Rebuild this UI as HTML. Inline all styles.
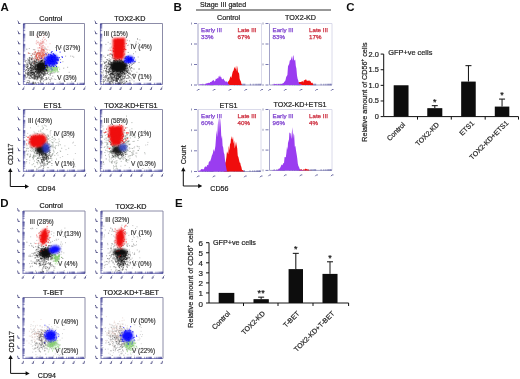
<!DOCTYPE html>
<html><head><meta charset="utf-8"><style>
html,body{margin:0;padding:0;background:#fff;}
body{width:520px;height:379px;overflow:hidden;}
svg{display:block;font-family:"Liberation Sans", sans-serif;}
</style></head><body>
<svg width="520" height="379" viewBox="0 0 520 379">
<rect width="520" height="379" fill="#fff"/>
<g filter="url(#gb)">
<defs>
<filter id="gb" x="0" y="0" width="100%" height="100%"><feGaussianBlur stdDeviation="0.32"/></filter>
<filter id="b3" x="-50%" y="-50%" width="200%" height="200%"><feGaussianBlur stdDeviation="0.3"/></filter>
<filter id="b4" x="-50%" y="-50%" width="200%" height="200%"><feGaussianBlur stdDeviation="0.4"/></filter>
<filter id="b5" x="-50%" y="-50%" width="200%" height="200%"><feGaussianBlur stdDeviation="0.5"/></filter>
<filter id="b8" x="-50%" y="-50%" width="200%" height="200%"><feGaussianBlur stdDeviation="0.8"/></filter>
<filter id="b10" x="-50%" y="-50%" width="200%" height="200%"><feGaussianBlur stdDeviation="1.0"/></filter>
<filter id="b15" x="-50%" y="-50%" width="200%" height="200%"><feGaussianBlur stdDeviation="1.5"/></filter>
<filter id="b20" x="-50%" y="-50%" width="200%" height="200%"><feGaussianBlur stdDeviation="2.0"/></filter>
<filter id="b30" x="-50%" y="-50%" width="200%" height="200%"><feGaussianBlur stdDeviation="3.0"/></filter>
</defs>
<text x="0.5" y="10.7" font-size="11.5" fill="#111" font-weight="bold">A</text>
<text x="173.6" y="10.7" font-size="11.5" fill="#111" font-weight="bold">B</text>
<text x="346.3" y="10.8" font-size="11.5" fill="#111" font-weight="bold">C</text>
<text x="0.3" y="207" font-size="11.5" fill="#111" font-weight="bold">D</text>
<text x="175.1" y="207" font-size="11.5" fill="#111" font-weight="bold">E</text>
<path d="M23.5 23.5H84.5V84.5" stroke="#80809e" stroke-width="0.9" fill="none"/>
<path d="M23.5 23.5V84.5H84.5" stroke="#8c8cc0" stroke-width="1.2" fill="none"/>
<path d="M23.2 81.4h2M26.6 84.8v-2M23.2 79.6h2M28.4 84.8v-2M23.2 78.4h2M29.6 84.8v-2M23.2 77.4h2M30.6 84.8v-2M23.2 76.6h2M31.4 84.8v-2M23.2 75.9h2M32.1 84.8v-2M23.2 75.3h2M32.7 84.8v-2M23.2 74.8h2M33.2 84.8v-2M23.2 71.3h2M36.7 84.8v-2M23.2 69.5h2M38.5 84.8v-2M23.2 68.2h2M39.8 84.8v-2M23.2 67.2h2M40.8 84.8v-2M23.2 66.4h2M41.6 84.8v-2M23.2 65.7h2M42.3 84.8v-2M23.2 65.2h2M42.8 84.8v-2M23.2 64.6h2M43.4 84.8v-2M23.2 61.1h2M46.9 84.8v-2M23.2 59.3h2M48.7 84.8v-2M23.2 58.0h2M50.0 84.8v-2M23.2 57.1h2M50.9 84.8v-2M23.2 56.3h2M51.7 84.8v-2M23.2 55.6h2M52.4 84.8v-2M23.2 55.0h2M53.0 84.8v-2M23.2 54.5h2M53.5 84.8v-2M23.2 50.9h2M57.1 84.8v-2M23.2 49.1h2M58.9 84.8v-2M23.2 47.9h2M60.1 84.8v-2M23.2 46.9h2M61.1 84.8v-2M23.2 46.1h2M61.9 84.8v-2M23.2 45.4h2M62.6 84.8v-2M23.2 44.8h2M63.2 84.8v-2M23.2 44.3h2M63.7 84.8v-2M23.2 40.8h2M67.2 84.8v-2M23.2 39.0h2M69.0 84.8v-2M23.2 37.7h2M70.3 84.8v-2M23.2 36.7h2M71.3 84.8v-2M23.2 35.9h2M72.1 84.8v-2M23.2 35.2h2M72.8 84.8v-2M23.2 34.7h2M73.3 84.8v-2M23.2 34.1h2M73.9 84.8v-2M23.2 30.6h2M77.4 84.8v-2M23.2 28.8h2M79.2 84.8v-2M23.2 27.5h2M80.5 84.8v-2M23.2 26.6h2M81.4 84.8v-2M23.2 25.8h2M82.2 84.8v-2M23.2 25.1h2M82.9 84.8v-2M23.2 24.5h2M83.5 84.8v-2M23.2 24.0h2M84.0 84.8v-2" stroke="#2a2a88" stroke-width="0.6" stroke-opacity="0.85" fill="none"/>
<path d="M17.5 81.9l1 0.8v1.8h1.8M22.1 89.3h1.6v-1.6l0.8 -0.8M17.5 71.7l1 0.8v1.8h1.8M32.3 89.3h1.6v-1.6l0.8 -0.8M17.5 61.6l1 0.8v1.8h1.8M42.4 89.3h1.6v-1.6l0.8 -0.8M17.5 51.4l1 0.8v1.8h1.8M52.6 89.3h1.6v-1.6l0.8 -0.8M17.5 41.2l1 0.8v1.8h1.8M62.8 89.3h1.6v-1.6l0.8 -0.8M17.5 31.1l1 0.8v1.8h1.8M72.9 89.3h1.6v-1.6l0.8 -0.8M17.5 20.9l1 0.8v1.8h1.8M83.1 89.3h1.6v-1.6l0.8 -0.8" stroke="#44447e" stroke-width="0.85" fill="none"/>
<text x="39.3" y="21.3" font-size="7.2" fill="#222" stroke="#222" stroke-width="0.22">Control</text>
<g filter="url(#b5)">
<path d="M42.8 50.9h1.0M60.8 47.8h1.0M54.5 59.3h1.0M28.2 64.8h1.0M27.1 61.9h1.0M28.8 48.5h1.0M48.3 77.2h1.0M31.8 53.7h1.0M59.5 82.0h1.0M56.7 60.5h1.0M78.7 46.8h1.0M72.2 56.3h1.0M32.9 49.6h1.0M42.0 76.8h1.0M34.9 67.7h1.0M60.1 59.5h1.0M55.1 47.4h1.0M28.3 53.0h1.0M62.4 61.7h1.0M42.3 67.8h1.0M49.9 56.7h1.0M68.7 72.3h1.0M38.4 67.4h1.0M53.9 79.1h1.0M65.1 56.2h1.0M78.9 49.6h1.0M48.0 74.5h1.0M33.4 64.1h1.0M27.2 71.1h1.0M67.1 67.3h1.0M73.2 57.2h1.0M63.2 68.2h1.0M56.9 62.8h1.0M71.2 81.8h1.0M51.1 70.9h1.0M28.3 72.4h1.0M60.6 83.7h1.0M70.2 56.1h1.0M46.2 71.1h1.0M26.2 63.0h1.0M34.2 49.6h1.0M28.2 75.0h1.0M32.1 54.7h1.0M46.5 79.0h1.0M29.4 62.5h1.0M55.2 79.5h1.0M70.1 78.7h1.0M40.3 61.2h1.0M44.7 79.5h1.0M77.7 50.9h1.0" stroke="#666" stroke-width="1.0" stroke-opacity="0.5" fill="none"/>
<path d="M40.7 74.5h1.0M40.5 78.2h1.0M31.7 69.9h1.0M43.9 68.7h1.0M33.5 79.3h1.0M45.6 64.6h1.0M27.6 73.4h1.0M35.3 69.4h1.0M43.8 60.9h1.0M42.3 59.6h1.0M33.3 77.0h1.0M46.5 73.9h1.0M39.6 71.1h1.0M39.4 74.4h1.0M36.5 73.2h1.0M40.8 69.6h1.0M43.4 72.9h1.0M51.0 68.3h1.0M33.3 69.6h1.0M39.1 77.1h1.0M35.7 74.3h1.0M42.9 49.7h1.0M30.2 75.3h1.0M40.2 71.6h1.0M35.7 76.3h1.0M37.6 66.9h1.0M53.8 67.5h1.0M33.1 71.7h1.0M35.4 71.1h1.0M40.8 60.9h1.0M38.8 77.4h1.0M46.2 78.8h1.0M25.0 72.7h1.0M36.2 75.9h1.0M37.8 50.7h1.0M40.7 58.9h1.0M37.9 59.5h1.0M41.0 78.4h1.0M36.5 72.6h1.0M42.6 70.0h1.0M40.1 81.3h1.0M43.2 66.6h1.0M52.3 56.9h1.0M42.4 67.1h1.0M39.6 75.3h1.0M40.0 74.7h1.0M38.7 63.2h1.0M26.7 63.8h1.0M47.1 72.9h1.0M44.4 61.3h1.0M34.3 63.5h1.0M45.8 79.6h1.0M34.9 83.4h1.0M43.1 67.5h1.0M34.9 67.3h1.0M40.6 72.7h1.0M44.4 60.7h1.0M48.0 78.1h1.0M46.1 66.3h1.0M34.5 79.5h1.0M38.1 71.5h1.0M45.7 65.9h1.0M26.8 80.8h1.0M37.6 66.2h1.0M38.9 76.5h1.0M40.7 79.5h1.0M39.1 78.0h1.0M50.7 78.0h1.0M34.7 78.4h1.0M26.6 82.7h1.0M28.9 73.9h1.0M35.7 71.3h1.0M33.7 74.0h1.0M48.9 67.0h1.0M42.9 76.3h1.0M32.7 63.2h1.0M35.9 79.4h1.0M24.7 71.0h1.0M45.5 73.8h1.0M39.0 76.3h1.0M35.3 62.8h1.0M25.2 70.5h1.0M41.7 65.1h1.0M29.2 68.1h1.0M26.6 73.9h1.0M30.1 76.2h1.0M28.1 59.8h1.0M41.1 67.5h1.0M37.8 67.3h1.0M43.9 74.0h1.0M42.2 71.6h1.0M47.4 72.1h1.0M35.0 56.2h1.0M46.0 77.5h1.0M33.9 68.6h1.0M45.6 54.8h1.0M32.5 77.8h1.0M49.1 65.7h1.0M42.9 75.6h1.0M30.8 72.6h1.0M40.9 75.7h1.0M36.3 69.8h1.0M29.5 71.1h1.0M43.1 69.5h1.0M29.4 67.5h1.0M57.3 72.1h1.0M35.0 52.4h1.0M42.2 72.7h1.0M49.1 69.8h1.0M37.8 74.6h1.0M26.7 82.5h1.0M37.5 65.6h1.0M50.1 79.7h1.0M26.2 70.0h1.0M39.4 71.5h1.0M32.0 65.5h1.0M53.4 72.7h1.0M25.9 65.0h1.0M50.6 73.4h1.0M50.9 72.0h1.0M31.9 74.8h1.0M37.9 74.6h1.0M31.9 71.9h1.0M40.9 72.4h1.0M41.7 70.8h1.0M36.8 77.0h1.0M35.3 65.4h1.0M32.9 72.5h1.0M36.7 72.3h1.0M37.4 72.2h1.0M33.1 63.0h1.0M42.3 76.9h1.0M39.4 68.7h1.0M37.6 63.6h1.0M24.7 75.9h1.0M32.7 78.1h1.0M33.9 83.9h1.0M31.2 62.9h1.0M33.2 76.3h1.0M40.7 71.0h1.0M48.5 72.1h1.0M38.3 75.0h1.0M50.2 73.4h1.0M41.1 61.4h1.0M37.8 76.2h1.0M37.6 78.7h1.0M43.1 75.5h1.0M44.6 66.6h1.0M36.8 77.6h1.0M43.5 68.7h1.0M29.8 75.0h1.0M42.1 77.6h1.0M42.2 69.3h1.0M43.9 72.5h1.0M38.5 70.9h1.0M37.0 76.1h1.0M28.6 69.4h1.0M33.5 61.4h1.0M29.3 58.8h1.0M33.9 76.4h1.0M40.6 69.3h1.0M32.1 62.2h1.0M50.3 70.0h1.0M42.1 62.6h1.0M31.4 59.5h1.0M44.4 75.3h1.0M24.4 75.2h1.0M36.9 57.9h1.0M29.5 63.3h1.0M37.8 72.6h1.0M42.9 74.1h1.0M49.7 75.1h1.0M27.2 70.8h1.0M27.4 66.5h1.0M36.5 71.2h1.0M36.4 59.4h1.0M28.8 73.8h1.0M34.9 69.4h1.0M34.8 66.2h1.0M42.5 71.7h1.0M34.8 66.8h1.0M29.3 53.5h1.0M30.6 73.6h1.0M27.6 75.9h1.0M34.7 61.6h1.0M34.6 69.5h1.0M41.5 73.9h1.0M34.7 65.5h1.0M35.9 70.9h1.0M42.5 71.2h1.0M29.0 63.8h1.0M32.8 67.0h1.0M29.4 72.9h1.0M34.0 72.9h1.0M39.5 67.0h1.0M51.5 63.3h1.0M44.5 69.2h1.0M38.7 52.7h1.0M32.6 74.4h1.0M42.2 78.6h1.0M44.3 75.4h1.0M40.0 68.8h1.0M37.8 62.7h1.0M42.3 61.5h1.0M35.6 71.7h1.0M44.7 68.4h1.0M32.3 74.6h1.0M42.5 74.3h1.0M48.0 67.1h1.0M37.7 67.5h1.0M44.6 63.0h1.0M40.3 66.2h1.0M34.2 77.4h1.0M45.7 67.7h1.0M34.5 78.0h1.0M37.4 73.2h1.0M49.7 74.8h1.0M38.9 76.2h1.0M32.6 72.3h1.0M43.1 59.7h1.0M43.6 65.2h1.0M35.9 69.1h1.0M33.6 64.1h1.0M33.7 61.5h1.0M37.3 73.2h1.0M39.5 68.4h1.0M31.4 74.2h1.0M37.6 82.5h1.0M41.8 68.4h1.0M32.2 67.5h1.0M30.0 70.9h1.0M40.2 73.7h1.0M45.8 83.4h1.0M32.4 72.8h1.0M50.9 52.0h1.0M34.0 73.4h1.0M39.0 73.3h1.0M36.3 74.0h1.0M39.2 75.9h1.0M34.5 64.2h1.0M31.6 77.6h1.0M34.2 76.7h1.0M42.6 71.2h1.0M40.1 69.1h1.0M27.7 74.2h1.0M38.7 66.4h1.0M38.1 76.2h1.0M32.8 77.3h1.0M47.9 62.9h1.0M37.6 69.7h1.0M47.9 69.4h1.0M41.3 64.3h1.0M36.9 71.0h1.0M38.7 57.3h1.0M41.6 68.4h1.0M40.8 72.3h1.0M26.6 73.2h1.0M45.4 63.6h1.0M27.0 64.5h1.0M29.8 76.1h1.0M49.2 69.8h1.0M32.0 67.8h1.0M41.8 73.3h1.0M27.5 65.7h1.0M39.5 71.9h1.0M27.9 72.8h1.0M34.5 75.3h1.0M36.0 70.7h1.0M37.2 78.8h1.0M45.3 65.3h1.0M40.8 64.0h1.0M39.3 75.8h1.0M46.0 64.9h1.0M37.0 72.5h1.0M27.2 74.7h1.0M33.4 75.1h1.0M24.8 60.7h1.0M37.9 72.6h1.0M35.5 78.2h1.0M33.8 67.7h1.0M36.4 59.5h1.0M32.5 72.5h1.0M42.2 67.9h1.0M37.5 65.9h1.0M43.0 81.2h1.0M32.8 72.7h1.0M40.6 77.3h1.0M42.9 74.8h1.0M39.0 72.2h1.0M44.0 71.2h1.0M45.0 58.9h1.0M26.3 49.2h1.0M41.5 66.6h1.0M48.2 83.0h1.0M36.4 69.3h1.0M31.7 66.7h1.0M34.4 76.7h1.0M37.4 71.3h1.0M38.0 77.4h1.0M39.9 68.9h1.0M41.0 68.4h1.0M32.9 83.3h1.0M37.8 63.6h1.0M44.9 70.7h1.0M41.3 76.1h1.0M37.9 69.5h1.0M29.1 81.1h1.0M36.5 69.0h1.0M39.5 70.7h1.0M40.6 66.9h1.0M31.6 57.0h1.0M35.8 76.5h1.0M44.9 65.4h1.0M40.0 81.7h1.0M36.6 76.6h1.0M48.1 67.2h1.0M43.4 63.4h1.0M38.2 70.0h1.0M40.5 78.2h1.0M51.1 60.9h1.0M34.4 75.6h1.0M31.2 76.8h1.0M40.1 67.8h1.0M36.8 59.5h1.0M38.3 59.0h1.0M31.1 69.0h1.0M36.4 77.6h1.0M36.6 68.2h1.0M44.4 80.1h1.0M37.9 73.4h1.0M45.8 69.8h1.0M46.8 52.7h1.0M37.7 73.8h1.0M45.0 73.1h1.0M32.7 64.7h1.0M40.2 77.6h1.0M27.4 66.9h1.0M32.2 58.3h1.0M34.2 68.8h1.0M38.3 65.3h1.0M30.3 70.5h1.0M35.1 66.7h1.0M38.9 75.9h1.0M48.9 79.4h1.0M30.8 70.1h1.0M32.2 72.5h1.0M37.2 60.8h1.0M40.0 69.7h1.0M25.7 77.3h1.0M40.4 55.9h1.0M42.8 70.4h1.0M41.2 72.8h1.0M45.0 66.4h1.0M41.8 66.2h1.0M39.8 63.9h1.0M40.4 82.6h1.0M39.6 68.9h1.0M27.6 68.5h1.0M40.5 76.7h1.0M41.1 73.4h1.0M40.0 80.0h1.0M33.1 68.3h1.0M43.0 69.3h1.0M33.8 67.9h1.0M36.8 75.7h1.0M36.4 62.2h1.0M40.2 71.2h1.0M32.3 78.5h1.0M34.4 69.5h1.0M45.4 77.8h1.0M33.5 75.5h1.0M36.6 80.0h1.0M34.7 77.9h1.0M45.5 49.0h1.0M35.3 75.3h1.0M34.8 66.8h1.0M51.3 66.4h1.0M28.2 80.6h1.0M28.4 82.7h1.0M33.5 73.3h1.0M45.6 68.8h1.0M46.6 73.0h1.0M33.7 78.6h1.0M41.8 74.1h1.0M44.7 73.7h1.0M36.9 52.7h1.0M39.3 73.8h1.0M51.5 58.6h1.0M34.9 72.0h1.0M41.8 66.0h1.0M42.7 63.1h1.0M37.5 66.9h1.0M36.4 66.1h1.0M29.1 82.0h1.0M37.7 66.6h1.0M40.7 77.0h1.0M30.3 72.6h1.0M41.8 73.2h1.0M29.8 57.9h1.0M46.0 70.2h1.0M36.4 69.1h1.0M37.7 67.6h1.0M28.5 68.6h1.0M31.6 68.4h1.0M30.9 78.0h1.0M30.0 78.5h1.0M31.2 75.7h1.0M46.5 69.0h1.0M32.3 73.1h1.0M33.8 59.2h1.0M33.4 73.5h1.0M34.1 72.6h1.0M43.7 74.3h1.0M44.4 72.7h1.0M35.1 71.6h1.0M34.5 69.6h1.0M31.7 60.1h1.0M34.8 71.6h1.0M30.5 73.2h1.0M40.0 68.7h1.0M44.4 48.9h1.0M31.3 59.5h1.0M39.7 67.8h1.0M35.3 54.9h1.0M43.5 71.4h1.0M35.7 67.1h1.0M40.0 66.3h1.0M37.2 67.1h1.0M40.1 75.5h1.0M31.2 72.9h1.0M41.4 70.5h1.0M49.9 81.1h1.0M26.4 60.5h1.0M46.3 79.0h1.0M45.0 74.1h1.0M31.2 67.8h1.0M40.7 62.9h1.0M58.0 77.7h1.0M30.7 67.8h1.0M36.7 65.5h1.0M45.4 67.3h1.0M33.0 82.2h1.0M33.7 73.9h1.0M36.2 69.0h1.0M37.5 65.7h1.0M26.9 69.0h1.0M37.0 71.4h1.0M40.9 70.5h1.0M30.1 68.2h1.0M41.5 73.3h1.0M35.8 70.1h1.0M43.2 68.9h1.0M43.2 73.1h1.0M41.5 79.1h1.0M32.4 70.0h1.0M29.8 67.7h1.0M51.4 78.8h1.0M38.5 74.7h1.0M46.7 73.5h1.0M41.9 59.8h1.0M33.9 75.5h1.0M46.7 68.2h1.0M30.5 70.7h1.0M30.6 66.9h1.0M45.4 63.3h1.0M45.6 70.4h1.0M34.0 75.2h1.0M49.2 71.2h1.0M45.5 68.6h1.0M39.9 68.4h1.0M42.9 78.5h1.0M27.4 74.0h1.0M37.2 66.7h1.0M36.9 76.9h1.0M51.7 70.3h1.0M35.4 60.0h1.0M49.9 66.9h1.0M34.1 63.7h1.0M34.0 63.9h1.0M38.6 73.9h1.0M37.9 72.8h1.0M34.8 82.4h1.0M28.3 60.6h1.0M33.9 66.4h1.0M29.5 71.1h1.0M36.1 62.5h1.0M39.5 80.7h1.0M41.1 68.4h1.0M37.6 69.9h1.0M38.4 75.9h1.0M30.6 55.4h1.0M34.7 65.2h1.0M39.8 65.4h1.0M27.4 66.1h1.0M25.5 77.9h1.0M28.3 60.2h1.0M28.7 78.6h1.0M31.0 70.4h1.0M42.4 79.1h1.0M52.2 73.1h1.0M38.4 71.9h1.0M52.3 76.1h1.0M36.1 74.8h1.0M39.0 70.7h1.0M30.5 63.5h1.0M29.8 62.1h1.0M46.3 71.6h1.0M32.4 83.1h1.0M38.3 56.3h1.0M51.1 71.9h1.0M47.6 58.0h1.0M41.5 72.5h1.0M38.7 71.6h1.0M40.4 58.6h1.0M25.5 64.8h1.0M31.9 68.4h1.0M40.1 71.9h1.0M35.6 66.5h1.0M36.4 78.3h1.0M42.3 69.8h1.0" stroke="#111" stroke-width="1.0" stroke-opacity="0.4" fill="none"/>
<path d="M31.7 77.5h1.0M30.6 72.6h1.0M37.6 67.5h1.0M36.3 62.9h1.0M37.1 70.1h1.0M26.7 72.7h1.0M29.4 76.1h1.0M30.3 68.1h1.0M34.1 67.2h1.0M34.0 66.0h1.0M35.7 69.0h1.0M33.8 53.9h1.0M37.6 69.2h1.0M25.9 69.5h1.0M34.9 74.9h1.0M28.7 77.5h1.0M32.4 82.2h1.0M32.4 72.7h1.0M31.5 62.9h1.0M37.4 74.0h1.0M39.2 73.7h1.0M30.7 59.9h1.0M30.4 65.3h1.0M29.7 72.2h1.0M34.3 67.5h1.0M33.7 68.2h1.0M33.9 73.1h1.0M36.8 65.2h1.0M27.0 76.9h1.0M33.5 75.1h1.0M26.4 67.2h1.0M33.1 61.1h1.0M30.9 73.0h1.0M37.3 77.8h1.0M29.5 61.3h1.0M35.1 74.2h1.0M33.8 61.8h1.0M36.1 73.4h1.0M35.2 66.3h1.0M34.2 73.3h1.0M30.8 58.9h1.0M34.3 71.6h1.0M33.1 73.9h1.0M30.7 68.5h1.0M31.8 72.1h1.0M39.4 67.6h1.0M41.2 77.4h1.0M36.2 72.2h1.0M40.1 68.0h1.0M32.6 63.2h1.0M34.9 76.4h1.0M35.1 71.3h1.0M32.2 69.9h1.0M27.3 74.8h1.0M31.4 62.9h1.0M30.0 64.5h1.0M36.4 74.8h1.0M27.6 74.1h1.0M36.6 65.8h1.0M27.1 64.9h1.0M30.5 70.9h1.0M31.6 57.8h1.0M33.9 60.6h1.0M36.6 62.4h1.0M30.2 64.3h1.0M30.8 76.1h1.0M36.4 72.3h1.0M34.3 60.5h1.0M30.9 66.0h1.0M29.1 71.8h1.0M30.0 65.1h1.0M28.8 57.7h1.0M35.4 76.3h1.0M33.7 63.6h1.0M37.9 70.6h1.0M36.7 77.1h1.0M37.5 66.6h1.0M37.2 73.3h1.0M26.9 66.8h1.0M27.3 68.4h1.0M35.3 63.1h1.0M24.8 76.1h1.0M34.5 77.1h1.0M27.7 74.8h1.0M41.3 80.0h1.0M32.2 70.5h1.0M32.4 74.5h1.0M37.2 69.5h1.0M27.6 73.1h1.0M31.1 72.5h1.0M34.1 77.9h1.0M37.6 66.5h1.0M34.4 78.7h1.0M30.9 71.4h1.0M37.8 75.9h1.0M35.1 61.7h1.0M28.0 70.4h1.0M34.5 83.0h1.0M29.6 75.3h1.0M36.1 59.8h1.0M29.7 69.9h1.0M31.0 68.2h1.0M34.9 64.5h1.0M34.9 65.5h1.0M30.8 72.0h1.0M30.7 70.6h1.0M39.4 69.1h1.0M32.4 73.0h1.0M31.5 75.0h1.0M27.9 72.4h1.0M31.0 64.6h1.0M40.1 64.3h1.0M40.0 72.6h1.0M38.8 63.6h1.0M37.8 77.0h1.0M32.5 68.3h1.0M42.8 70.0h1.0M31.3 65.5h1.0M34.8 70.8h1.0M33.7 78.5h1.0M31.7 71.6h1.0M38.8 63.5h1.0M37.2 79.1h1.0M27.6 63.0h1.0M28.8 58.8h1.0M34.8 58.8h1.0M35.0 77.0h1.0M26.5 67.3h1.0M25.3 73.3h1.0M30.1 67.5h1.0M33.2 72.0h1.0M31.6 69.1h1.0M30.8 69.6h1.0M28.3 69.3h1.0M25.3 66.3h1.0M40.7 69.4h1.0M28.0 70.4h1.0M29.1 59.9h1.0M30.1 73.1h1.0M34.5 68.5h1.0M29.3 63.1h1.0M38.4 70.3h1.0M29.2 57.4h1.0M27.5 82.6h1.0M28.4 68.6h1.0M33.8 68.1h1.0M31.9 61.4h1.0M28.8 78.3h1.0M30.0 73.7h1.0M26.2 67.5h1.0M34.0 74.7h1.0M28.5 72.3h1.0M34.5 64.9h1.0M34.9 64.1h1.0M29.8 68.9h1.0M29.0 61.0h1.0M31.3 73.2h1.0M31.4 76.0h1.0M28.4 61.8h1.0M39.2 71.2h1.0M36.8 64.5h1.0M36.2 70.4h1.0M35.6 69.1h1.0M37.8 65.4h1.0M29.1 60.9h1.0M37.6 64.9h1.0M28.8 63.8h1.0M31.2 62.0h1.0M31.8 65.6h1.0M30.8 63.7h1.0M33.1 66.5h1.0M33.5 70.4h1.0M34.4 57.0h1.0M30.9 64.6h1.0M36.1 60.3h1.0M30.1 67.4h1.0M31.7 74.5h1.0M31.2 74.3h1.0M27.1 59.0h1.0M37.9 71.4h1.0M35.0 69.7h1.0M34.9 62.3h1.0M36.8 66.1h1.0M36.9 69.5h1.0M25.1 61.9h1.0M37.5 68.2h1.0M31.4 70.3h1.0M31.3 66.0h1.0M33.4 69.8h1.0M39.1 69.3h1.0M40.5 78.9h1.0M39.9 74.8h1.0M33.5 69.8h1.0M32.4 65.0h1.0M32.7 65.5h1.0M39.6 71.9h1.0M31.2 58.5h1.0M32.8 66.7h1.0M28.7 62.7h1.0M32.7 83.2h1.0M32.9 68.2h1.0M38.8 69.7h1.0M33.7 67.0h1.0M30.6 77.2h1.0M37.0 78.4h1.0M31.6 69.2h1.0M29.5 74.3h1.0M27.4 72.1h1.0M37.4 76.8h1.0M29.2 75.0h1.0M30.1 64.8h1.0M27.7 75.4h1.0M39.6 65.7h1.0M30.0 67.1h1.0M43.0 74.5h1.0M30.8 59.1h1.0M30.3 75.5h1.0M40.5 67.5h1.0M30.2 66.2h1.0M25.5 74.0h1.0" stroke="#111" stroke-width="1.0" stroke-opacity="0.45" fill="none"/>
<path d="M38.0 52.3h1.0M36.2 40.6h1.0M41.8 43.2h1.0M43.2 47.0h1.0M37.7 50.1h1.0M43.4 37.4h1.0M46.1 49.5h1.0M43.1 37.7h1.0M39.0 45.3h1.0M44.0 39.7h1.0M38.5 36.9h1.0M40.3 48.7h1.0M36.3 44.0h1.0M42.4 54.9h1.0M42.9 45.5h1.0M37.7 42.3h1.0M39.1 47.7h1.0M40.9 55.3h1.0M41.8 41.6h1.0M45.3 51.7h1.0M41.3 43.4h1.0M35.8 41.9h1.0M43.6 43.0h1.0M37.3 48.0h1.0M41.7 50.0h1.0M42.8 54.0h1.0M38.6 51.9h1.0M38.2 50.5h1.0M41.5 48.2h1.0M43.7 46.9h1.0M44.1 51.4h1.0M41.4 44.2h1.0M38.9 44.4h1.0M40.4 46.9h1.0M49.3 50.2h1.0M43.2 42.7h1.0M39.0 45.4h1.0M41.5 41.8h1.0M45.5 44.2h1.0M44.0 35.3h1.0M41.0 48.4h1.0M41.5 50.0h1.0M41.8 47.8h1.0M35.7 43.4h1.0M34.4 50.1h1.0M41.9 46.0h1.0M38.7 44.1h1.0M46.2 55.7h1.0M40.8 53.4h1.0M36.6 37.3h1.0M39.6 42.6h1.0M39.4 47.9h1.0M49.5 43.7h1.0M41.1 48.4h1.0M40.9 51.7h1.0M46.0 40.8h1.0M41.5 45.7h1.0M42.0 39.3h1.0M36.1 35.4h1.0M42.5 48.0h1.0M41.2 35.2h1.0M40.0 43.2h1.0M37.0 42.4h1.0M43.0 49.7h1.0M40.9 49.6h1.0M39.3 47.4h1.0M41.1 49.8h1.0M40.8 46.3h1.0M40.6 43.8h1.0M47.3 49.6h1.0M42.2 58.5h1.0M44.9 39.2h1.0M42.9 51.2h1.0M46.3 53.6h1.0M43.2 41.1h1.0M38.6 48.3h1.0M42.4 41.9h1.0M39.9 45.0h1.0M41.2 48.7h1.0M40.2 40.8h1.0M44.5 55.0h1.0M40.7 52.1h1.0M42.2 50.3h1.0M42.3 43.2h1.0M42.6 52.1h1.0M38.5 56.8h1.0M46.9 56.1h1.0M46.6 50.7h1.0M40.1 44.0h1.0M38.7 47.6h1.0M40.9 50.4h1.0M35.3 58.6h1.0M47.4 46.9h1.0M42.9 49.4h1.0M41.8 46.0h1.0M40.7 42.9h1.0M41.5 46.9h1.0M41.9 42.7h1.0M41.1 47.2h1.0M42.7 41.7h1.0M42.2 51.9h1.0M42.7 45.2h1.0M39.6 45.8h1.0M43.0 54.8h1.0M40.6 43.8h1.0M42.1 48.0h1.0M38.5 43.3h1.0M40.7 50.4h1.0M37.7 41.9h1.0M42.4 40.9h1.0" stroke="#e88080" stroke-width="1.0" stroke-opacity="0.5" fill="none"/>
<path d="M40.4 56.6h1.0M39.6 52.4h1.0M39.8 54.5h1.0M41.2 53.0h1.0M43.8 50.5h1.0M39.4 55.5h1.0M43.4 53.7h1.0M41.9 53.8h1.0M42.6 60.7h1.0M38.6 56.8h1.0M36.8 58.4h1.0M44.2 55.6h1.0M36.0 56.7h1.0M44.0 58.8h1.0M42.8 50.0h1.0M37.6 59.8h1.0M35.7 58.9h1.0M46.6 57.8h1.0M43.9 54.5h1.0M35.7 55.2h1.0M39.3 55.4h1.0M42.4 55.1h1.0M40.7 56.8h1.0M40.0 61.0h1.0M41.5 55.8h1.0M39.3 53.6h1.0M44.7 56.0h1.0M36.2 53.8h1.0M39.5 54.2h1.0M43.8 52.0h1.0M41.7 55.9h1.0M35.9 55.6h1.0M39.7 57.0h1.0M38.4 56.4h1.0M34.2 52.2h1.0M42.7 58.6h1.0M40.0 53.7h1.0M43.8 49.2h1.0M37.2 57.5h1.0M42.3 52.4h1.0M33.4 59.9h1.0M40.5 52.8h1.0M40.2 58.2h1.0M30.9 58.8h1.0M42.6 49.3h1.0M42.7 50.2h1.0M44.0 56.7h1.0M47.9 53.7h1.0M40.0 58.6h1.0M37.8 53.4h1.0M38.7 55.3h1.0M36.2 57.0h1.0M41.9 55.7h1.0M46.0 54.5h1.0M44.6 53.9h1.0M42.6 49.7h1.0M40.7 55.0h1.0M38.3 53.7h1.0M38.8 53.3h1.0M32.3 53.7h1.0M38.1 53.9h1.0M36.3 55.1h1.0M42.7 54.7h1.0M38.3 59.6h1.0M43.4 58.3h1.0M44.0 54.5h1.0M39.5 58.8h1.0M38.1 55.1h1.0M41.3 56.6h1.0M39.0 58.5h1.0M39.4 57.7h1.0M43.7 57.5h1.0M42.6 52.0h1.0M35.4 53.6h1.0M41.7 60.0h1.0M35.7 56.4h1.0M37.0 53.3h1.0M39.0 57.6h1.0M40.7 59.0h1.0M36.6 58.2h1.0M43.3 55.7h1.0M41.7 53.8h1.0M36.2 54.3h1.0M37.8 64.2h1.0M38.3 60.5h1.0M40.7 56.4h1.0M42.6 53.2h1.0M43.2 56.6h1.0M34.7 57.3h1.0M41.9 56.9h1.0M45.5 54.3h1.0M41.8 57.7h1.0M36.8 59.1h1.0M34.9 51.6h1.0M41.8 52.2h1.0M39.6 50.6h1.0M40.2 52.1h1.0M41.2 50.9h1.0M41.6 54.7h1.0M40.2 55.3h1.0M40.5 51.5h1.0M31.0 55.6h1.0M36.7 54.1h1.0M41.5 49.5h1.0M37.3 53.7h1.0M36.3 56.5h1.0M39.5 53.0h1.0M36.6 57.9h1.0M37.7 57.3h1.0M41.6 49.8h1.0M36.2 55.5h1.0M41.2 57.8h1.0M42.8 58.6h1.0M38.7 54.9h1.0M42.7 54.2h1.0M43.7 50.7h1.0M42.3 55.0h1.0M33.1 58.4h1.0M41.1 55.6h1.0M36.2 54.1h1.0M45.3 53.0h1.0M27.8 52.9h1.0M35.8 55.1h1.0M38.6 52.8h1.0M37.1 58.6h1.0M35.0 61.4h1.0M38.1 52.2h1.0M42.8 57.2h1.0M36.4 57.7h1.0M33.6 52.7h1.0M43.9 54.7h1.0M35.4 57.0h1.0M43.2 55.4h1.0M33.7 54.5h1.0M41.5 57.8h1.0M46.5 54.7h1.0M38.3 55.4h1.0M44.2 52.7h1.0M44.6 47.3h1.0M42.8 53.5h1.0M41.6 57.6h1.0M35.9 55.2h1.0M40.8 57.3h1.0M36.7 52.5h1.0M33.3 63.1h1.0M39.3 54.8h1.0M34.8 58.3h1.0M38.1 59.8h1.0M43.0 55.6h1.0M42.5 52.2h1.0M38.9 53.8h1.0M35.6 55.6h1.0M39.5 59.8h1.0M28.3 53.5h1.0M36.8 54.1h1.0M41.5 56.7h1.0M40.1 54.1h1.0M41.7 56.6h1.0M33.6 54.7h1.0M35.2 52.0h1.0" stroke="#e05545" stroke-width="1.0" stroke-opacity="0.55" fill="none"/>
<ellipse cx="41.5" cy="66.5" rx="5.5" ry="5" fill="#111" fill-opacity="0.95" filter="url(#b10)" transform="rotate(0 41.5 66.5)"/>
<path d="M42.0 66.7h1.0M41.9 63.7h1.0M40.8 63.6h1.0M42.8 68.7h1.0M47.6 70.6h1.0M38.7 65.0h1.0M38.2 67.5h1.0M48.4 68.8h1.0M33.8 62.5h1.0M37.0 68.1h1.0M41.5 67.5h1.0M47.7 63.9h1.0M38.5 72.8h1.0M42.7 64.0h1.0M34.4 61.6h1.0M32.9 66.7h1.0M41.7 69.7h1.0M41.0 64.3h1.0M38.9 72.6h1.0M35.3 67.1h1.0M41.6 68.5h1.0M40.1 68.1h1.0M44.4 66.0h1.0M39.9 65.9h1.0M38.1 65.8h1.0M40.4 67.2h1.0M46.2 70.7h1.0M39.9 68.4h1.0M42.5 68.9h1.0M41.6 67.4h1.0M39.9 64.0h1.0M44.6 70.7h1.0M43.8 67.9h1.0M42.4 65.1h1.0M35.3 68.6h1.0M42.2 64.7h1.0M38.1 70.6h1.0M35.2 72.1h1.0M43.7 74.1h1.0M39.0 66.4h1.0M39.7 67.0h1.0M40.8 64.1h1.0M45.3 64.0h1.0M39.7 68.3h1.0M39.6 65.1h1.0M42.7 65.3h1.0M37.1 66.2h1.0M40.7 72.0h1.0M37.7 69.6h1.0M38.7 65.4h1.0M40.4 67.4h1.0M44.5 72.1h1.0M39.3 70.8h1.0M45.0 69.1h1.0M38.8 69.4h1.0M41.1 67.6h1.0M40.6 68.6h1.0M45.4 70.1h1.0M40.8 69.7h1.0M46.6 63.5h1.0M46.7 62.2h1.0M43.4 68.4h1.0M46.7 67.4h1.0M39.8 64.0h1.0M37.1 69.0h1.0M40.7 64.2h1.0M43.4 64.1h1.0M40.0 65.0h1.0M47.3 71.2h1.0M40.9 61.5h1.0M42.5 66.7h1.0M42.7 68.3h1.0M40.4 69.5h1.0M44.4 67.2h1.0M40.1 65.0h1.0M43.9 63.0h1.0M40.9 64.1h1.0M36.6 68.4h1.0M41.4 66.6h1.0M44.6 61.7h1.0M41.3 67.4h1.0M44.4 63.0h1.0M44.0 67.2h1.0M46.2 70.1h1.0M43.4 73.4h1.0M41.5 65.1h1.0M40.3 63.5h1.0M41.4 60.5h1.0M41.2 67.9h1.0M45.0 65.4h1.0M46.4 64.4h1.0M41.0 60.5h1.0M38.8 64.0h1.0M46.6 68.2h1.0M37.7 68.2h1.0M43.1 65.8h1.0M41.6 65.5h1.0M39.6 61.0h1.0M41.2 70.5h1.0M46.4 65.6h1.0M38.9 65.8h1.0M44.6 67.6h1.0M39.5 67.6h1.0M40.8 68.1h1.0M40.1 61.9h1.0M41.7 68.9h1.0M37.7 66.2h1.0M44.5 65.3h1.0M39.3 72.8h1.0M44.3 69.7h1.0M38.3 71.6h1.0M35.9 64.9h1.0M44.0 70.6h1.0M38.3 64.4h1.0M42.2 60.5h1.0M43.7 68.2h1.0M40.0 68.2h1.0M44.1 67.5h1.0M43.3 71.2h1.0M39.9 67.0h1.0M39.7 69.7h1.0M40.1 68.0h1.0M42.0 66.7h1.0M47.3 66.2h1.0M46.3 69.1h1.0M46.0 66.0h1.0M44.6 68.8h1.0M39.4 67.3h1.0M41.1 66.4h1.0M45.9 64.3h1.0M35.8 61.1h1.0M40.0 64.5h1.0M41.5 68.2h1.0M47.4 67.5h1.0M43.1 64.2h1.0M43.5 70.7h1.0M46.0 60.5h1.0M44.5 71.4h1.0M44.3 61.9h1.0M40.5 68.3h1.0M42.9 64.0h1.0M38.5 69.5h1.0M37.0 70.9h1.0M41.6 67.4h1.0M37.0 64.7h1.0M43.8 62.0h1.0M48.5 62.2h1.0M37.4 66.6h1.0M43.1 68.8h1.0M40.3 65.9h1.0M40.7 64.7h1.0M32.8 69.5h1.0M42.3 67.0h1.0M39.4 67.3h1.0M41.5 66.3h1.0M45.2 61.2h1.0M42.3 63.2h1.0M40.4 71.1h1.0M37.9 66.2h1.0M39.5 69.4h1.0M38.2 61.3h1.0M43.2 65.4h1.0M40.4 69.8h1.0M38.5 65.4h1.0M42.0 67.8h1.0M39.8 69.7h1.0M49.0 65.2h1.0M47.8 60.0h1.0M46.2 65.4h1.0M42.0 65.5h1.0M39.4 62.6h1.0M40.2 70.5h1.0M45.3 65.4h1.0M39.7 64.3h1.0M37.5 72.0h1.0M43.7 66.9h1.0M39.8 63.4h1.0M45.9 68.9h1.0M38.3 69.5h1.0M37.8 68.5h1.0M38.3 65.2h1.0M43.2 67.8h1.0M44.9 63.9h1.0M46.8 70.6h1.0M41.5 67.9h1.0M38.9 66.0h1.0M37.1 66.8h1.0M42.2 70.6h1.0M44.7 69.0h1.0M40.3 65.8h1.0M40.4 67.2h1.0M35.0 68.9h1.0M36.2 64.9h1.0M41.6 64.9h1.0M47.1 66.2h1.0M46.8 70.1h1.0M39.8 67.7h1.0M45.9 65.5h1.0M41.8 64.8h1.0M41.7 65.4h1.0" stroke="#111" stroke-width="1.0" stroke-opacity="0.7" fill="none"/>
<path d="M53.2 70.7h1.0M57.0 69.2h1.0M53.6 70.5h1.0M52.2 67.2h1.0M56.2 67.4h1.0M55.7 67.3h1.0M58.3 67.2h1.0M55.4 71.6h1.0M50.2 71.6h1.0M50.6 66.0h1.0M55.1 70.2h1.0M52.4 64.6h1.0M52.8 68.5h1.0M51.9 68.5h1.0M47.8 68.0h1.0M58.2 71.7h1.0M52.0 67.8h1.0M54.1 70.8h1.0M55.1 67.0h1.0M53.5 69.2h1.0M57.1 71.1h1.0M54.5 71.1h1.0M51.9 71.7h1.0M51.8 69.7h1.0M55.6 67.4h1.0M51.0 66.0h1.0M53.5 68.9h1.0M52.1 69.9h1.0M46.9 69.0h1.0M53.3 68.5h1.0M55.3 72.0h1.0M51.7 67.4h1.0M51.3 69.2h1.0M54.7 67.5h1.0M55.9 67.2h1.0M55.4 69.7h1.0M54.3 72.7h1.0M52.2 68.7h1.0M54.4 70.5h1.0M49.1 69.5h1.0M50.9 70.1h1.0M56.9 69.1h1.0M52.7 69.3h1.0M44.5 70.3h1.0M54.6 69.3h1.0M51.9 67.7h1.0M52.5 71.1h1.0M52.7 71.3h1.0M45.6 68.2h1.0M53.8 69.0h1.0M48.2 67.9h1.0M56.6 66.8h1.0M50.1 67.1h1.0M51.4 70.1h1.0M54.7 65.5h1.0M57.2 68.0h1.0M51.3 71.9h1.0M52.8 66.9h1.0M51.2 67.7h1.0M50.1 68.4h1.0M55.5 69.6h1.0M49.0 73.8h1.0M50.1 69.2h1.0M53.1 70.3h1.0M52.1 69.8h1.0M59.1 69.2h1.0M49.9 69.6h1.0M50.7 68.4h1.0M53.5 69.6h1.0M52.2 70.5h1.0M52.4 66.7h1.0M55.5 68.4h1.0M56.5 67.9h1.0M54.6 69.5h1.0M45.2 66.4h1.0M49.8 71.4h1.0M47.6 70.6h1.0M56.1 69.9h1.0M54.9 68.1h1.0M53.0 69.4h1.0M54.2 70.2h1.0M52.4 67.8h1.0M51.4 69.7h1.0M48.2 66.8h1.0M51.8 68.0h1.0M52.2 64.4h1.0M52.0 68.6h1.0M55.2 65.6h1.0M52.1 69.8h1.0M54.4 71.1h1.0M56.0 67.2h1.0M54.8 68.4h1.0M50.7 71.7h1.0M51.2 67.5h1.0M51.8 67.5h1.0M55.9 69.7h1.0M57.0 69.7h1.0M51.2 70.8h1.0M51.1 68.2h1.0M52.5 69.1h1.0M56.4 68.0h1.0M54.0 69.0h1.0M49.4 67.1h1.0M52.4 69.7h1.0M53.9 69.8h1.0M53.1 68.2h1.0M54.2 67.3h1.0M49.1 68.4h1.0M48.9 68.1h1.0M50.8 68.0h1.0M52.9 67.6h1.0M51.8 66.0h1.0M53.4 67.5h1.0M54.2 64.1h1.0M50.7 69.4h1.0M45.9 68.4h1.0M53.3 69.2h1.0M48.7 69.4h1.0M53.4 67.3h1.0M55.2 68.9h1.0M53.1 68.2h1.0M54.6 69.2h1.0M56.3 69.8h1.0M51.2 68.6h1.0M55.7 68.4h1.0M54.1 69.9h1.0M52.5 65.0h1.0M53.4 69.4h1.0M53.4 67.7h1.0M56.5 68.8h1.0M51.2 67.8h1.0M54.0 67.1h1.0M50.1 72.5h1.0M56.8 70.8h1.0M57.0 70.0h1.0M48.1 71.1h1.0M56.6 69.9h1.0M47.3 71.2h1.0M57.0 68.1h1.0M53.4 70.4h1.0" stroke="#98d488" stroke-width="1.0" stroke-opacity="0.8" fill="none"/>
<ellipse cx="51.5" cy="60" rx="6.8" ry="5.8" fill="#0a0aff" fill-opacity="1" filter="url(#b8)" transform="rotate(-20 51.5 60)"/>
<path d="M52.3 63.1h1.0M52.4 61.8h1.0M50.3 55.9h1.0M51.5 69.8h1.0M53.7 63.3h1.0M56.8 63.4h1.0M52.7 57.7h1.0M49.7 54.7h1.0M51.8 62.7h1.0M44.8 63.0h1.0M55.4 62.7h1.0M47.9 59.3h1.0M44.5 59.4h1.0M55.3 65.0h1.0M49.2 65.1h1.0M52.4 58.1h1.0M56.0 50.6h1.0M51.5 60.7h1.0M60.1 62.4h1.0M58.9 57.7h1.0M56.0 62.6h1.0M53.5 60.4h1.0M50.5 59.1h1.0M49.5 66.8h1.0M48.0 54.8h1.0M52.3 59.6h1.0M53.9 64.8h1.0M50.9 59.4h1.0M49.1 60.8h1.0M50.3 61.1h1.0M61.9 57.4h1.0M50.7 66.3h1.0M55.1 61.2h1.0M54.6 61.4h1.0M55.1 63.1h1.0M56.1 62.5h1.0M49.9 60.6h1.0M50.1 63.5h1.0M53.7 57.8h1.0M56.0 66.5h1.0M54.3 55.5h1.0M51.8 61.9h1.0M51.8 61.1h1.0M55.6 59.5h1.0M48.7 63.2h1.0M51.3 60.4h1.0M48.3 56.9h1.0M47.2 60.5h1.0M45.4 53.8h1.0M54.0 55.5h1.0M49.7 62.3h1.0M45.1 66.5h1.0M49.7 62.7h1.0M50.3 61.4h1.0M51.8 59.9h1.0M44.2 58.1h1.0M52.8 63.9h1.0M50.3 62.1h1.0M52.5 61.1h1.0M53.2 54.7h1.0M52.2 59.2h1.0M49.6 58.0h1.0M48.0 58.1h1.0M50.5 68.2h1.0M57.0 58.0h1.0M52.9 56.5h1.0M40.8 58.2h1.0M53.4 63.8h1.0M50.4 57.3h1.0M49.7 57.5h1.0M46.8 61.0h1.0M49.4 58.2h1.0M47.7 58.5h1.0M53.7 63.6h1.0M53.1 66.4h1.0M46.6 62.6h1.0M47.6 60.9h1.0M52.4 61.4h1.0M54.6 57.2h1.0M47.3 60.9h1.0M51.7 57.7h1.0M56.0 63.6h1.0M47.3 62.7h1.0M52.8 53.5h1.0M51.9 59.1h1.0M48.3 65.3h1.0M51.7 58.4h1.0M53.6 61.2h1.0M54.5 60.7h1.0M51.6 56.3h1.0M50.3 60.8h1.0M44.8 69.1h1.0M49.2 57.5h1.0M45.9 62.8h1.0M51.0 58.4h1.0M49.3 58.0h1.0M49.0 60.6h1.0M50.1 62.6h1.0M51.2 60.5h1.0M54.1 63.0h1.0M53.7 59.9h1.0M50.2 58.0h1.0M51.1 62.3h1.0M51.8 58.7h1.0M45.7 57.3h1.0M53.6 62.4h1.0M51.3 55.8h1.0M51.0 60.9h1.0M48.9 62.0h1.0M50.0 57.9h1.0M48.3 63.7h1.0M51.8 57.1h1.0M49.1 63.6h1.0M53.1 58.5h1.0M56.3 57.3h1.0M49.2 64.2h1.0M51.2 61.2h1.0M50.6 57.2h1.0M47.5 60.9h1.0M55.0 55.6h1.0M56.1 59.0h1.0M48.2 62.0h1.0M52.4 56.9h1.0M45.0 63.5h1.0M48.4 62.5h1.0M45.2 61.8h1.0M47.4 56.9h1.0M50.9 60.8h1.0M48.5 57.4h1.0M50.4 55.0h1.0M53.7 60.7h1.0M57.7 60.5h1.0M52.9 60.3h1.0M50.3 56.3h1.0M56.7 59.7h1.0M49.4 57.2h1.0M56.8 59.7h1.0M48.4 63.2h1.0M57.5 57.7h1.0M52.4 58.4h1.0M50.6 63.7h1.0M61.5 56.7h1.0M51.9 62.3h1.0M51.3 62.4h1.0M53.1 56.3h1.0M48.0 61.0h1.0M54.4 59.8h1.0M54.1 54.8h1.0M52.5 57.7h1.0M52.1 60.8h1.0M48.2 60.5h1.0M48.0 62.1h1.0M48.3 59.6h1.0M51.5 58.0h1.0M54.5 56.9h1.0M54.5 59.8h1.0M48.0 60.6h1.0M48.5 60.0h1.0M52.4 65.3h1.0M51.7 64.8h1.0M51.6 55.9h1.0M44.8 64.5h1.0M45.9 64.3h1.0M55.2 59.9h1.0M50.6 59.6h1.0M52.0 58.9h1.0M49.4 59.6h1.0M54.6 56.9h1.0M51.6 56.4h1.0M47.9 57.1h1.0M51.5 62.1h1.0M52.0 58.3h1.0M53.1 58.3h1.0M53.0 60.3h1.0M50.8 52.6h1.0M48.1 63.6h1.0M53.4 66.2h1.0M50.2 58.8h1.0M56.8 59.8h1.0M58.0 59.2h1.0M51.6 62.2h1.0M48.5 59.7h1.0M49.5 60.0h1.0M53.5 57.8h1.0M52.0 58.3h1.0M51.6 51.5h1.0M51.0 60.7h1.0M49.1 64.0h1.0M53.5 63.2h1.0M55.2 60.6h1.0M49.9 57.2h1.0M50.3 59.0h1.0M51.8 58.4h1.0M59.6 52.1h1.0M54.8 57.4h1.0M51.6 62.8h1.0M50.3 56.7h1.0M52.6 59.0h1.0M45.2 62.9h1.0M47.4 59.2h1.0" stroke="#0a0aff" stroke-width="1.0" stroke-opacity="0.9" fill="none"/>
</g>
<text x="29.3" y="36" font-size="6.4" fill="#333" stroke="#333" stroke-width="0.15">III (6%)</text>
<text x="55.5" y="49.8" font-size="6.4" fill="#333" stroke="#333" stroke-width="0.15">IV (37%)</text>
<text x="57.2" y="80" font-size="6.4" fill="#333" stroke="#333" stroke-width="0.15">V (3%)</text>
<path d="M100.5 23.5H162.5V84.5" stroke="#80809e" stroke-width="0.9" fill="none"/>
<path d="M100.5 23.5V84.5H162.5" stroke="#8c8cc0" stroke-width="1.2" fill="none"/>
<path d="M100.2 81.4h2M103.6 84.8v-2M100.2 79.6h2M105.4 84.8v-2M100.2 78.4h2M106.6 84.8v-2M100.2 77.4h2M107.6 84.8v-2M100.2 76.6h2M108.4 84.8v-2M100.2 75.9h2M109.1 84.8v-2M100.2 75.3h2M109.7 84.8v-2M100.2 74.8h2M110.2 84.8v-2M100.2 71.3h2M113.7 84.8v-2M100.2 69.5h2M115.5 84.8v-2M100.2 68.2h2M116.8 84.8v-2M100.2 67.2h2M117.8 84.8v-2M100.2 66.4h2M118.6 84.8v-2M100.2 65.7h2M119.3 84.8v-2M100.2 65.2h2M119.8 84.8v-2M100.2 64.6h2M120.4 84.8v-2M100.2 61.1h2M123.9 84.8v-2M100.2 59.3h2M125.7 84.8v-2M100.2 58.0h2M127.0 84.8v-2M100.2 57.1h2M127.9 84.8v-2M100.2 56.3h2M128.7 84.8v-2M100.2 55.6h2M129.4 84.8v-2M100.2 55.0h2M130.0 84.8v-2M100.2 54.5h2M130.5 84.8v-2M100.2 50.9h2M134.1 84.8v-2M100.2 49.1h2M135.9 84.8v-2M100.2 47.9h2M137.1 84.8v-2M100.2 46.9h2M138.1 84.8v-2M100.2 46.1h2M138.9 84.8v-2M100.2 45.4h2M139.6 84.8v-2M100.2 44.8h2M140.2 84.8v-2M100.2 44.3h2M140.7 84.8v-2M100.2 40.8h2M144.2 84.8v-2M100.2 39.0h2M146.0 84.8v-2M100.2 37.7h2M147.3 84.8v-2M100.2 36.7h2M148.3 84.8v-2M100.2 35.9h2M149.1 84.8v-2M100.2 35.2h2M149.8 84.8v-2M100.2 34.7h2M150.3 84.8v-2M100.2 34.1h2M150.9 84.8v-2M100.2 30.6h2M154.4 84.8v-2M100.2 28.8h2M156.2 84.8v-2M100.2 27.5h2M157.5 84.8v-2M100.2 26.6h2M158.4 84.8v-2M100.2 25.8h2M159.2 84.8v-2M100.2 25.1h2M159.9 84.8v-2M100.2 24.5h2M160.5 84.8v-2M100.2 24.0h2M161.0 84.8v-2" stroke="#2a2a88" stroke-width="0.6" stroke-opacity="0.85" fill="none"/>
<path d="M94.5 81.9l1 0.8v1.8h1.8M99.1 89.3h1.6v-1.6l0.8 -0.8M94.5 71.7l1 0.8v1.8h1.8M109.3 89.3h1.6v-1.6l0.8 -0.8M94.5 61.6l1 0.8v1.8h1.8M119.4 89.3h1.6v-1.6l0.8 -0.8M94.5 51.4l1 0.8v1.8h1.8M129.6 89.3h1.6v-1.6l0.8 -0.8M94.5 41.2l1 0.8v1.8h1.8M139.8 89.3h1.6v-1.6l0.8 -0.8M94.5 31.1l1 0.8v1.8h1.8M149.9 89.3h1.6v-1.6l0.8 -0.8M94.5 20.9l1 0.8v1.8h1.8M160.1 89.3h1.6v-1.6l0.8 -0.8" stroke="#44447e" stroke-width="0.85" fill="none"/>
<text x="114.3" y="21.3" font-size="7.2" fill="#222" stroke="#222" stroke-width="0.22">TOX2-KD</text>
<g filter="url(#b5)">
<path d="M105.4 44.4h1.0M112.3 79.1h1.0M134.1 48.5h1.0M137.1 39.5h1.0M124.8 82.5h1.0M115.1 81.4h1.0M126.9 40.3h1.0M114.7 58.7h1.0M111.4 72.1h1.0M108.8 74.2h1.0M113.3 41.2h1.0M123.2 42.4h1.0M123.0 74.2h1.0M124.6 59.2h1.0M103.3 61.6h1.0M105.7 67.8h1.0M107.0 64.6h1.0M115.4 55.2h1.0M127.2 45.5h1.0M108.4 81.3h1.0M114.6 76.7h1.0M135.2 60.1h1.0M107.7 42.3h1.0M135.4 43.4h1.0M120.9 62.7h1.0M106.5 59.5h1.0M108.2 62.6h1.0M121.3 54.9h1.0M109.5 56.6h1.0M109.7 43.8h1.0M111.1 78.1h1.0M121.1 79.0h1.0M102.6 81.4h1.0M120.6 74.4h1.0M123.7 69.7h1.0M110.7 72.5h1.0M107.8 50.2h1.0M103.2 56.1h1.0M121.7 51.4h1.0M135.8 41.9h1.0M124.0 48.8h1.0M124.6 74.1h1.0M129.0 40.9h1.0M111.3 65.6h1.0M139.4 39.9h1.0M125.5 69.8h1.0M133.0 53.7h1.0M132.8 59.2h1.0M137.0 38.5h1.0M137.7 57.0h1.0M117.5 42.1h1.0M111.3 71.8h1.0M127.8 45.0h1.0M115.1 44.5h1.0M109.5 48.1h1.0M114.6 82.9h1.0M139.9 74.4h1.0M120.2 60.9h1.0M131.6 79.8h1.0M130.6 67.3h1.0M109.6 66.8h1.0M134.1 74.2h1.0M105.5 71.0h1.0M115.3 45.5h1.0M138.7 68.9h1.0M130.3 44.2h1.0M133.5 81.1h1.0M136.4 72.3h1.0M133.6 74.9h1.0M124.4 58.0h1.0M133.4 74.1h1.0M135.1 51.8h1.0M138.5 62.5h1.0M137.9 43.3h1.0M138.8 74.2h1.0M111.6 76.6h1.0M110.8 47.1h1.0M119.4 48.9h1.0M120.7 79.8h1.0M128.0 70.7h1.0" stroke="#666" stroke-width="1.0" stroke-opacity="0.5" fill="none"/>
<path d="M106.5 81.2h1.0M118.9 62.1h1.0M128.2 68.0h1.0M113.5 74.8h1.0M108.3 61.3h1.0M111.0 81.5h1.0M122.4 61.6h1.0M124.1 73.2h1.0M119.4 73.4h1.0M118.8 65.8h1.0M109.9 67.9h1.0M113.5 77.5h1.0M111.7 68.8h1.0M120.7 76.1h1.0M113.7 65.3h1.0M109.3 61.5h1.0M123.7 80.8h1.0M128.6 76.6h1.0M118.2 78.5h1.0M122.4 71.1h1.0M104.6 62.9h1.0M109.5 78.4h1.0M124.0 70.6h1.0M120.5 72.7h1.0M118.0 69.1h1.0M115.8 73.0h1.0M103.8 76.8h1.0M116.0 80.0h1.0M123.2 78.6h1.0M121.5 66.1h1.0M124.1 66.1h1.0M124.7 77.8h1.0M109.3 81.4h1.0M111.4 67.6h1.0M105.6 71.4h1.0M122.9 68.2h1.0M128.4 78.0h1.0M112.4 64.2h1.0M105.0 77.0h1.0M124.8 65.3h1.0M116.0 71.0h1.0M114.3 76.6h1.0M130.1 68.4h1.0M121.7 80.9h1.0M114.1 71.9h1.0M107.0 80.8h1.0M112.4 68.3h1.0M116.5 66.8h1.0M109.0 70.8h1.0M126.0 71.5h1.0M119.6 62.4h1.0M113.3 61.9h1.0M115.3 77.4h1.0M104.3 66.6h1.0M117.8 66.3h1.0M121.4 80.0h1.0M119.0 69.9h1.0M115.7 68.4h1.0M115.1 75.3h1.0M114.0 80.0h1.0M133.5 69.0h1.0M118.3 79.0h1.0M120.4 71.3h1.0M112.8 80.3h1.0M120.2 76.7h1.0M110.6 77.6h1.0M121.4 71.7h1.0M103.3 77.4h1.0M108.1 63.1h1.0M114.4 77.0h1.0M116.4 64.6h1.0M106.3 69.0h1.0M116.1 67.0h1.0M110.3 71.9h1.0M112.3 68.8h1.0M116.3 70.8h1.0M120.2 64.4h1.0M115.5 78.6h1.0M124.0 77.0h1.0M116.2 61.7h1.0M105.2 80.1h1.0M120.6 77.1h1.0M104.8 57.5h1.0M108.8 64.4h1.0M117.1 65.6h1.0M126.7 68.5h1.0M112.2 79.3h1.0M118.2 66.5h1.0M107.7 71.2h1.0M108.7 58.9h1.0M120.3 78.1h1.0M122.6 76.1h1.0M102.3 72.8h1.0M111.5 64.4h1.0M108.5 78.6h1.0M119.2 59.1h1.0M122.1 82.1h1.0M116.2 64.2h1.0M128.0 63.4h1.0M115.4 59.1h1.0M107.5 60.6h1.0M123.4 81.6h1.0M113.2 63.1h1.0M115.6 75.8h1.0M105.6 64.5h1.0M115.3 78.1h1.0M116.5 76.3h1.0M107.5 54.8h1.0M118.1 66.3h1.0M115.2 70.2h1.0M119.3 67.4h1.0M125.9 73.2h1.0M119.6 77.6h1.0M123.1 76.0h1.0M104.0 68.4h1.0M128.7 76.5h1.0M119.8 76.4h1.0M111.6 68.0h1.0M111.6 81.5h1.0M119.1 64.3h1.0M127.9 75.5h1.0M124.2 74.6h1.0M113.8 74.2h1.0M108.3 64.2h1.0M109.9 69.1h1.0M106.7 72.2h1.0M128.6 72.6h1.0M122.1 71.4h1.0M118.7 72.8h1.0M112.3 73.6h1.0M105.8 76.2h1.0M114.0 65.0h1.0M113.5 77.1h1.0M111.3 76.5h1.0M108.5 72.2h1.0M117.8 78.6h1.0M105.9 68.7h1.0M127.4 70.9h1.0M130.9 67.6h1.0M114.1 61.2h1.0M120.4 75.0h1.0M129.9 74.2h1.0M114.3 62.6h1.0M115.4 80.0h1.0M121.1 82.1h1.0M122.0 72.7h1.0M120.2 74.3h1.0M118.6 65.2h1.0M118.7 75.1h1.0M122.9 83.7h1.0M126.6 66.0h1.0M103.1 75.1h1.0M118.3 75.6h1.0M108.3 69.5h1.0M117.3 78.5h1.0M131.2 75.2h1.0M111.8 55.5h1.0M123.4 72.0h1.0M115.2 65.7h1.0M121.1 59.7h1.0M116.8 73.9h1.0M118.1 82.7h1.0M115.3 73.7h1.0M121.9 61.5h1.0M114.0 73.5h1.0M122.6 67.0h1.0M121.6 75.9h1.0M105.7 62.0h1.0M106.0 74.0h1.0M117.4 78.4h1.0M121.7 68.9h1.0M123.4 79.1h1.0M119.3 76.6h1.0M107.1 75.7h1.0M108.8 64.1h1.0M113.6 74.0h1.0M115.6 70.5h1.0M109.0 74.4h1.0M110.8 62.5h1.0M116.6 83.8h1.0M113.2 65.1h1.0M114.0 71.4h1.0M116.9 80.4h1.0M119.1 59.4h1.0M108.3 63.8h1.0M119.0 73.8h1.0M128.5 71.0h1.0M118.1 73.6h1.0M118.0 84.0h1.0M125.0 68.5h1.0M120.8 70.2h1.0M116.8 74.2h1.0M116.1 69.5h1.0M126.9 71.0h1.0M120.4 80.7h1.0M125.7 81.1h1.0M128.0 62.3h1.0M129.7 73.2h1.0M103.8 68.2h1.0M106.3 72.8h1.0M105.6 65.5h1.0M118.1 74.2h1.0M110.4 71.2h1.0M115.3 73.6h1.0M116.0 71.3h1.0M122.1 61.0h1.0M112.6 74.0h1.0M113.2 68.9h1.0M112.9 74.6h1.0M124.7 71.6h1.0M114.1 75.7h1.0M114.3 58.5h1.0M117.9 70.2h1.0M112.0 77.7h1.0M116.3 68.8h1.0M116.1 72.1h1.0M119.1 74.7h1.0M112.7 63.5h1.0M108.3 72.0h1.0M108.0 78.7h1.0M106.7 59.6h1.0M114.6 59.7h1.0M127.4 65.6h1.0M115.6 71.2h1.0M110.3 59.7h1.0M103.0 79.5h1.0M105.8 77.2h1.0M115.9 79.3h1.0M112.4 78.4h1.0M122.3 77.5h1.0M126.1 71.7h1.0M126.8 67.7h1.0M127.7 52.4h1.0M116.1 67.0h1.0M116.0 80.7h1.0M121.0 73.7h1.0M127.9 61.9h1.0M118.3 57.4h1.0M118.4 64.1h1.0M126.3 81.6h1.0M112.2 82.7h1.0M110.2 79.9h1.0M120.1 72.0h1.0M106.0 70.9h1.0M103.0 82.1h1.0M109.2 54.8h1.0M120.1 75.8h1.0M121.4 73.5h1.0M111.5 50.8h1.0M119.4 80.2h1.0M111.9 62.4h1.0M115.7 60.5h1.0M116.1 78.8h1.0M126.6 75.0h1.0M117.4 78.6h1.0M125.8 70.6h1.0M107.4 67.1h1.0M107.2 66.3h1.0M115.2 75.6h1.0M117.1 73.5h1.0M113.5 76.2h1.0M122.2 78.7h1.0M126.5 70.8h1.0M117.4 76.1h1.0M113.6 80.3h1.0M113.2 65.4h1.0M115.6 69.7h1.0M121.8 70.2h1.0M116.9 71.4h1.0M118.4 68.3h1.0M123.7 62.3h1.0M113.3 67.7h1.0M120.5 73.3h1.0M119.4 70.5h1.0M111.0 64.6h1.0M113.7 69.0h1.0M118.0 75.7h1.0M122.8 72.2h1.0M110.8 65.0h1.0M116.4 75.7h1.0M129.6 74.4h1.0M108.7 82.1h1.0M124.0 83.1h1.0M115.9 80.2h1.0M112.6 72.5h1.0M114.5 80.2h1.0M116.5 67.7h1.0M117.7 77.9h1.0M111.0 77.8h1.0M111.0 66.4h1.0M117.5 71.2h1.0M109.1 60.8h1.0M116.2 74.8h1.0M112.8 74.4h1.0M105.3 75.9h1.0M118.9 75.1h1.0M111.7 73.6h1.0M116.9 81.0h1.0M117.9 74.9h1.0M110.9 79.5h1.0M124.2 69.3h1.0M120.5 75.3h1.0M115.7 63.4h1.0M128.3 59.0h1.0M118.1 70.2h1.0M124.0 69.8h1.0M116.3 77.6h1.0M119.2 69.1h1.0M120.8 75.9h1.0M122.9 69.2h1.0M115.7 70.1h1.0M110.1 74.9h1.0M118.9 83.6h1.0M113.7 75.9h1.0M124.0 72.1h1.0M116.4 74.0h1.0M111.2 65.6h1.0M123.8 74.3h1.0M115.5 63.7h1.0M116.8 81.8h1.0M108.0 66.3h1.0M123.7 83.7h1.0M126.8 68.9h1.0M120.2 67.4h1.0M119.6 70.3h1.0M117.4 83.0h1.0M118.4 71.2h1.0M116.4 75.0h1.0M112.4 74.5h1.0M101.6 64.1h1.0M107.4 79.5h1.0M133.0 74.4h1.0M116.8 81.5h1.0M112.5 69.4h1.0M118.4 68.6h1.0M123.7 73.0h1.0M112.9 79.9h1.0M110.3 82.3h1.0M122.7 74.0h1.0M125.6 73.0h1.0M115.6 81.2h1.0M105.8 68.5h1.0M119.4 77.2h1.0M118.3 76.3h1.0M106.9 71.6h1.0M117.8 71.3h1.0M116.4 77.5h1.0M109.4 68.8h1.0M103.7 81.5h1.0M108.7 60.4h1.0M121.3 71.4h1.0M122.7 70.3h1.0M130.7 78.3h1.0M117.0 73.9h1.0M114.6 79.0h1.0M129.8 69.9h1.0M108.5 77.4h1.0M123.4 61.9h1.0M111.2 65.6h1.0M119.9 76.7h1.0M110.9 64.7h1.0M120.7 57.8h1.0M120.5 71.9h1.0M129.3 80.4h1.0M112.0 71.0h1.0M114.1 67.6h1.0M116.6 80.1h1.0M105.6 71.3h1.0M126.3 78.5h1.0M110.4 67.0h1.0M110.1 61.1h1.0M123.9 73.5h1.0M111.2 62.4h1.0M113.4 69.2h1.0M127.9 69.6h1.0M116.8 80.9h1.0M120.6 71.7h1.0M120.1 69.8h1.0M115.4 65.9h1.0M109.8 62.1h1.0M119.5 76.8h1.0M117.2 78.8h1.0M119.7 73.9h1.0M109.9 77.4h1.0M124.2 77.7h1.0M124.6 69.5h1.0M109.3 82.2h1.0M112.0 74.8h1.0M114.7 73.2h1.0M114.1 69.0h1.0M117.4 58.8h1.0M109.8 64.7h1.0M110.9 54.2h1.0M114.3 78.5h1.0M120.1 63.8h1.0M124.4 60.6h1.0M112.1 70.4h1.0M124.6 73.9h1.0M115.1 67.1h1.0M116.6 73.3h1.0M121.0 83.3h1.0M121.1 73.1h1.0M117.4 72.9h1.0M119.9 72.2h1.0M111.7 80.8h1.0M112.9 80.1h1.0M110.6 73.8h1.0M118.8 74.1h1.0M117.6 75.8h1.0M108.3 64.9h1.0M115.1 66.2h1.0M111.5 73.2h1.0M124.1 68.8h1.0M119.8 74.4h1.0M113.6 66.1h1.0M115.0 67.7h1.0M119.7 60.1h1.0M123.7 78.6h1.0M120.0 84.0h1.0M120.1 60.5h1.0M116.4 76.3h1.0M111.3 64.7h1.0M119.0 76.7h1.0M113.1 71.2h1.0M112.5 68.8h1.0M115.6 80.9h1.0M105.0 70.5h1.0M127.0 75.3h1.0M117.1 79.1h1.0M109.1 64.2h1.0M104.7 62.3h1.0M117.7 79.2h1.0M113.2 68.0h1.0M118.8 77.5h1.0M117.8 59.1h1.0M112.3 54.5h1.0M117.7 66.8h1.0M111.5 84.0h1.0M125.0 76.5h1.0M117.9 74.3h1.0M112.0 72.6h1.0M129.0 66.6h1.0M111.5 74.2h1.0M122.1 79.1h1.0M109.4 72.1h1.0M114.2 64.0h1.0M116.5 69.5h1.0M122.3 76.2h1.0M110.7 73.6h1.0M113.6 68.4h1.0M112.7 80.8h1.0M113.2 60.5h1.0M110.7 78.9h1.0M130.7 65.3h1.0M113.6 70.6h1.0M106.4 75.9h1.0M115.7 75.0h1.0M131.2 71.1h1.0M121.4 79.1h1.0M111.7 68.7h1.0M126.6 78.2h1.0M117.0 65.0h1.0M122.0 76.8h1.0M131.0 83.8h1.0M121.5 75.0h1.0M116.4 69.0h1.0M118.1 74.8h1.0M120.4 80.9h1.0M118.1 69.0h1.0M110.3 76.1h1.0M119.7 76.9h1.0M119.4 72.3h1.0M127.8 62.8h1.0M111.4 69.2h1.0M105.2 75.6h1.0M115.6 69.1h1.0M126.0 81.6h1.0M113.2 77.8h1.0M115.7 81.4h1.0M120.0 72.7h1.0M119.8 67.8h1.0M121.4 84.0h1.0M113.5 77.1h1.0M104.7 79.8h1.0M122.0 65.6h1.0M127.9 73.8h1.0M104.2 63.0h1.0M121.9 71.0h1.0M123.5 61.7h1.0M115.3 80.1h1.0M111.4 78.0h1.0M113.6 75.5h1.0M107.6 78.7h1.0M124.9 64.8h1.0M123.1 51.4h1.0M114.4 60.5h1.0M118.1 67.7h1.0M112.2 66.9h1.0M118.0 69.6h1.0M109.9 71.3h1.0M118.8 66.8h1.0M123.6 60.9h1.0M118.8 70.2h1.0M126.7 68.3h1.0M111.5 63.2h1.0M129.5 77.5h1.0M108.6 70.6h1.0M118.8 58.2h1.0M117.4 79.7h1.0M116.0 76.5h1.0M115.3 74.5h1.0M117.4 67.8h1.0M118.4 74.2h1.0M115.7 68.0h1.0M109.1 74.8h1.0M121.6 55.4h1.0M112.4 82.9h1.0M122.2 67.8h1.0M125.2 65.8h1.0M113.0 71.4h1.0M104.8 65.6h1.0M108.0 72.0h1.0M103.5 80.8h1.0M113.6 68.6h1.0M111.7 78.4h1.0M126.4 70.0h1.0M125.1 75.2h1.0M105.9 77.9h1.0M113.2 74.4h1.0M103.2 70.9h1.0M117.6 66.2h1.0M117.6 68.0h1.0M132.2 57.3h1.0M109.7 76.0h1.0M112.0 56.3h1.0M117.8 79.1h1.0M110.6 83.7h1.0M119.4 81.7h1.0M105.6 73.0h1.0M125.0 73.0h1.0M117.2 68.4h1.0M123.5 67.9h1.0M116.8 57.9h1.0M116.4 74.6h1.0M101.0 72.8h1.0M130.1 62.1h1.0M112.4 71.5h1.0M107.4 63.1h1.0M107.6 77.7h1.0M115.7 79.0h1.0M108.6 77.3h1.0M113.0 73.7h1.0M122.4 73.2h1.0M113.6 60.8h1.0M116.4 78.7h1.0M111.7 72.5h1.0M103.9 63.2h1.0M118.8 82.5h1.0M113.9 60.7h1.0M113.4 61.5h1.0M118.1 71.9h1.0M123.1 70.2h1.0M118.3 74.5h1.0M119.1 62.2h1.0M120.9 79.5h1.0M109.9 84.0h1.0M116.1 78.0h1.0M119.8 79.5h1.0M111.6 68.7h1.0M118.6 77.5h1.0M119.9 75.5h1.0M112.7 81.1h1.0M119.2 80.8h1.0M111.4 73.9h1.0M112.7 70.7h1.0M117.3 75.6h1.0M110.5 54.3h1.0M110.6 77.0h1.0M110.2 76.2h1.0M113.5 66.0h1.0M115.3 72.6h1.0M122.6 63.2h1.0M110.0 81.4h1.0M122.2 69.3h1.0M110.6 75.6h1.0M106.3 69.3h1.0M114.4 54.8h1.0M120.1 78.7h1.0M123.4 62.3h1.0M107.1 67.0h1.0M109.2 70.7h1.0M117.4 76.4h1.0M126.1 64.9h1.0M122.1 74.1h1.0M107.9 74.1h1.0M110.9 80.5h1.0M125.0 68.4h1.0M109.8 74.0h1.0M108.7 79.7h1.0M117.2 67.3h1.0M111.2 78.4h1.0M110.5 71.5h1.0M121.7 82.7h1.0M120.5 73.7h1.0M127.8 78.0h1.0M119.0 77.3h1.0M121.1 75.1h1.0M114.8 61.1h1.0M130.3 63.3h1.0M129.5 82.1h1.0M111.8 75.0h1.0M115.8 58.2h1.0M113.7 75.2h1.0M124.2 64.0h1.0M118.3 73.6h1.0M117.0 74.1h1.0M113.4 62.8h1.0M119.2 75.9h1.0M120.0 82.3h1.0M107.3 55.5h1.0M109.6 76.0h1.0M115.9 78.5h1.0M138.5 69.1h1.0M114.8 68.5h1.0M117.7 76.9h1.0M109.2 82.9h1.0M124.0 76.3h1.0M115.2 71.2h1.0M104.5 77.9h1.0M109.2 69.2h1.0M123.0 66.1h1.0M112.3 79.4h1.0M129.0 67.8h1.0M123.7 68.1h1.0M118.7 76.6h1.0M108.0 80.7h1.0M128.6 73.4h1.0M117.9 64.2h1.0M128.5 73.5h1.0M107.1 78.7h1.0M105.8 67.9h1.0M101.1 83.3h1.0M131.5 68.2h1.0M111.4 68.7h1.0M112.0 77.2h1.0M126.2 65.4h1.0M119.1 59.5h1.0M126.7 72.3h1.0M115.3 83.3h1.0M110.4 73.4h1.0" stroke="#111" stroke-width="1.0" stroke-opacity="0.45" fill="none"/>
<ellipse cx="118.5" cy="66.5" rx="8.5" ry="6" fill="#111" fill-opacity="1" filter="url(#b10)" transform="rotate(0 118.5 66.5)"/>
<path d="M119.8 66.2h1.0M125.6 64.1h1.0M123.0 72.5h1.0M108.2 63.1h1.0M113.5 64.8h1.0M120.0 66.3h1.0M118.4 65.2h1.0M117.6 68.9h1.0M121.7 63.9h1.0M117.4 64.0h1.0M117.1 61.3h1.0M122.8 69.7h1.0M117.4 64.3h1.0M115.7 64.3h1.0M110.3 73.5h1.0M134.4 62.1h1.0M112.2 69.3h1.0M121.0 60.7h1.0M108.4 69.2h1.0M108.0 72.7h1.0M115.5 67.3h1.0M118.0 64.8h1.0M117.3 65.8h1.0M124.2 66.6h1.0M117.8 64.9h1.0M114.8 64.1h1.0M118.1 74.3h1.0M123.6 67.9h1.0M126.3 71.1h1.0M119.0 66.3h1.0M112.5 68.0h1.0M116.4 60.7h1.0M111.6 74.7h1.0M119.1 69.0h1.0M119.0 65.1h1.0M120.3 71.3h1.0M116.5 69.0h1.0M123.1 65.1h1.0M118.8 64.0h1.0M121.0 65.5h1.0M123.7 63.9h1.0M126.4 65.8h1.0M113.8 63.4h1.0M121.3 63.6h1.0M127.0 72.1h1.0M120.6 61.3h1.0M117.9 64.1h1.0M108.9 68.7h1.0M129.0 64.9h1.0M122.0 72.1h1.0M113.2 65.6h1.0M119.3 68.9h1.0M112.3 67.9h1.0M117.5 70.8h1.0M110.0 64.7h1.0M115.5 65.7h1.0M121.6 64.5h1.0M131.7 64.2h1.0M122.2 71.1h1.0M122.8 66.2h1.0M113.9 66.0h1.0M121.3 67.5h1.0M120.9 69.3h1.0M113.6 63.3h1.0M125.2 65.1h1.0M110.1 74.4h1.0M113.8 63.3h1.0M122.8 62.5h1.0M113.6 71.2h1.0M113.9 77.0h1.0M118.5 77.7h1.0M118.6 67.2h1.0M114.8 66.1h1.0M115.5 66.9h1.0M121.9 61.9h1.0M113.4 58.6h1.0M125.5 66.7h1.0M117.9 66.8h1.0M123.0 68.3h1.0M122.3 66.3h1.0M117.4 66.8h1.0M108.7 71.4h1.0M110.1 63.0h1.0M121.4 67.2h1.0M122.1 73.8h1.0M127.3 72.5h1.0M116.9 75.2h1.0M113.6 66.7h1.0M123.0 66.1h1.0M117.4 65.6h1.0M124.8 57.1h1.0M124.4 71.2h1.0M117.6 69.2h1.0M113.2 71.4h1.0M133.3 63.3h1.0M125.0 66.8h1.0M116.3 65.1h1.0M117.1 62.0h1.0M111.2 73.6h1.0M117.9 69.2h1.0M119.6 68.9h1.0M110.4 63.2h1.0M121.2 71.0h1.0M112.3 64.7h1.0M112.7 69.6h1.0M119.7 67.1h1.0M114.8 68.4h1.0M118.2 64.0h1.0M119.7 64.3h1.0M122.8 69.5h1.0M114.6 69.3h1.0M118.3 64.2h1.0M113.4 60.3h1.0M112.3 68.4h1.0M124.0 64.5h1.0M118.8 68.4h1.0M121.9 68.8h1.0M124.1 70.1h1.0M114.2 68.6h1.0M106.3 66.3h1.0M118.1 69.3h1.0M116.5 70.3h1.0M124.6 63.6h1.0M115.3 68.0h1.0M120.5 67.6h1.0M122.2 62.3h1.0M121.9 71.7h1.0M123.6 68.7h1.0M116.8 68.6h1.0M117.6 60.7h1.0M115.0 66.8h1.0M115.4 63.3h1.0M116.8 65.5h1.0M118.3 66.8h1.0M118.9 71.0h1.0M118.7 68.6h1.0M111.9 55.2h1.0M116.0 69.7h1.0M116.3 64.5h1.0M111.8 70.6h1.0M115.4 68.0h1.0M123.7 69.1h1.0M129.2 66.5h1.0M122.8 69.8h1.0M114.7 67.2h1.0M115.2 62.9h1.0M119.5 63.9h1.0M126.4 64.0h1.0M115.3 67.4h1.0M115.4 67.2h1.0M115.0 61.3h1.0M105.9 61.8h1.0M125.6 68.8h1.0M118.8 65.1h1.0M117.3 68.2h1.0M111.1 63.8h1.0M113.5 72.0h1.0M112.7 71.7h1.0M115.7 77.9h1.0M117.6 67.1h1.0M124.8 70.5h1.0M122.7 62.7h1.0M123.7 73.7h1.0M117.5 65.1h1.0M112.5 71.1h1.0M119.5 67.0h1.0M111.8 73.5h1.0M122.4 66.9h1.0M125.4 63.2h1.0M122.4 63.0h1.0M125.1 65.9h1.0M124.1 65.3h1.0M120.0 71.6h1.0M113.5 67.4h1.0M113.8 70.4h1.0M115.0 65.5h1.0M117.0 71.7h1.0M112.8 66.9h1.0M116.4 64.8h1.0M114.1 66.4h1.0M119.0 60.8h1.0M119.2 62.3h1.0M118.1 76.1h1.0M113.2 66.7h1.0M116.7 70.9h1.0M115.6 59.9h1.0M109.9 67.7h1.0M119.3 71.3h1.0M115.3 69.7h1.0M112.7 72.2h1.0M117.6 64.3h1.0M118.9 74.0h1.0M113.8 62.0h1.0M112.9 62.4h1.0M117.7 68.4h1.0M117.2 67.8h1.0M123.9 65.8h1.0M111.7 57.9h1.0M119.2 64.3h1.0M116.8 68.6h1.0" stroke="#111" stroke-width="1.0" stroke-opacity="0.7" fill="none"/>
<path d="M113.5 39L124.5 38.5L124 50L123 58.5L114 58.5L113.5 50Z" fill="#f01010" fill-opacity="1" stroke="#f01010" stroke-width="1.5" stroke-linejoin="round" filter="url(#b8)"/>
<path d="M119.9 41.4h1.0M115.6 48.8h1.0M118.1 53.7h1.0M117.0 39.2h1.0M122.0 41.1h1.0M115.6 50.3h1.0M115.3 59.7h1.0M119.2 50.9h1.0M117.2 58.5h1.0M120.1 45.3h1.0M122.3 40.9h1.0M116.7 49.8h1.0M118.9 44.2h1.0M123.2 55.1h1.0M115.7 50.2h1.0M116.6 46.6h1.0M121.5 49.1h1.0M118.2 49.0h1.0M115.0 54.0h1.0M116.2 54.4h1.0M117.1 46.4h1.0M123.0 49.4h1.0M116.6 46.1h1.0M120.3 56.9h1.0M120.3 46.7h1.0M115.1 45.5h1.0M118.1 49.6h1.0M116.5 54.3h1.0M115.6 45.3h1.0M120.0 50.7h1.0M117.3 52.8h1.0M114.3 55.9h1.0M125.1 57.3h1.0M118.9 57.4h1.0M118.7 54.5h1.0M117.9 49.4h1.0M120.1 40.6h1.0M117.9 56.2h1.0M109.7 50.2h1.0M121.3 50.0h1.0M119.1 54.7h1.0M119.5 40.0h1.0M115.7 47.2h1.0M118.9 46.5h1.0M118.2 56.0h1.0M109.7 53.7h1.0M121.3 51.2h1.0M118.5 48.8h1.0M119.6 49.6h1.0M116.3 52.0h1.0M116.0 48.3h1.0M117.4 43.3h1.0M120.3 48.2h1.0M115.0 48.2h1.0M114.4 54.9h1.0M120.0 57.4h1.0M116.8 51.7h1.0M115.6 44.7h1.0M118.2 50.3h1.0M121.3 47.3h1.0M121.8 52.8h1.0M115.9 47.7h1.0M115.8 56.2h1.0M116.9 52.5h1.0M121.2 47.4h1.0M117.0 50.0h1.0M116.2 42.8h1.0M115.6 50.0h1.0M119.1 56.4h1.0M113.0 50.8h1.0M115.1 53.7h1.0M120.6 49.1h1.0M122.9 46.8h1.0M116.9 43.8h1.0M116.5 49.0h1.0M120.5 54.2h1.0M117.7 45.2h1.0M117.5 46.6h1.0M117.1 46.7h1.0M115.9 48.3h1.0M117.0 47.7h1.0M114.4 49.1h1.0M120.2 51.4h1.0M116.9 43.4h1.0M114.6 43.3h1.0M116.6 47.1h1.0M113.2 51.5h1.0M113.9 45.4h1.0M116.4 52.2h1.0M124.0 46.9h1.0M117.7 46.8h1.0M117.9 47.7h1.0M125.8 43.6h1.0M118.2 45.0h1.0M119.6 46.2h1.0M120.2 43.7h1.0M124.8 49.4h1.0M113.2 51.6h1.0M117.1 43.4h1.0M119.8 46.2h1.0M120.7 46.1h1.0M121.2 49.2h1.0M119.6 49.2h1.0M117.4 46.9h1.0M119.8 51.7h1.0M117.3 58.5h1.0M123.5 43.4h1.0M121.7 48.2h1.0M119.2 45.0h1.0M123.4 44.8h1.0M118.3 45.3h1.0M124.2 54.1h1.0M114.6 46.5h1.0M119.6 46.6h1.0M117.5 43.7h1.0M119.2 43.7h1.0M121.0 59.1h1.0M117.5 55.8h1.0M119.6 45.5h1.0M117.5 44.2h1.0M118.8 51.6h1.0M121.3 47.3h1.0M115.0 48.2h1.0M123.5 49.8h1.0M118.3 39.3h1.0M117.2 50.9h1.0M115.7 54.5h1.0M116.8 44.7h1.0M116.8 48.1h1.0M121.5 46.0h1.0M113.2 48.2h1.0M120.0 55.3h1.0M115.2 55.1h1.0M120.5 50.5h1.0M116.2 44.6h1.0M115.7 52.6h1.0M119.1 53.2h1.0M123.9 48.6h1.0M118.4 57.0h1.0M114.6 46.5h1.0M117.4 46.8h1.0M118.9 44.8h1.0M121.9 42.5h1.0M116.1 41.1h1.0M114.4 51.1h1.0M120.4 47.6h1.0M121.0 51.2h1.0M116.8 48.3h1.0M119.6 57.4h1.0M117.2 50.2h1.0M120.1 53.9h1.0M119.8 53.2h1.0M115.4 47.4h1.0M112.8 48.3h1.0M125.4 49.6h1.0M118.8 49.7h1.0M118.9 42.7h1.0M116.5 47.8h1.0M119.0 44.7h1.0M118.2 45.3h1.0" stroke="#f01010" stroke-width="1.0" stroke-opacity="0.8" fill="none"/>
<ellipse cx="129" cy="59.5" rx="4.5" ry="3.5" fill="#0a0aff" fill-opacity="1" filter="url(#b8)" transform="rotate(-10 129 59.5)"/>
<path d="M125.8 58.2h1.0M127.0 61.2h1.0M132.3 60.6h1.0M128.5 58.4h1.0M125.1 58.5h1.0M132.8 61.8h1.0M129.6 59.0h1.0M129.0 60.3h1.0M129.0 60.3h1.0M127.1 59.6h1.0M128.1 61.6h1.0M126.0 62.0h1.0M128.8 58.5h1.0M129.1 59.8h1.0M128.4 60.3h1.0M127.6 56.2h1.0M130.7 59.5h1.0M133.1 60.3h1.0M124.1 61.9h1.0M127.3 60.6h1.0M134.5 61.6h1.0M126.3 59.3h1.0M125.1 60.8h1.0M130.4 57.5h1.0M130.1 61.3h1.0M131.0 58.2h1.0M127.3 57.3h1.0M125.8 60.1h1.0M129.1 62.1h1.0M129.7 58.9h1.0M125.5 62.5h1.0M129.4 59.5h1.0M126.5 57.5h1.0M130.6 57.6h1.0M130.4 60.7h1.0M128.1 56.4h1.0M130.0 62.3h1.0M127.0 57.1h1.0M131.7 59.8h1.0M127.5 61.9h1.0M128.3 60.4h1.0M128.0 58.1h1.0M129.5 57.8h1.0M124.6 58.5h1.0M132.0 61.7h1.0M134.3 61.4h1.0M133.0 60.0h1.0M127.9 60.4h1.0M126.7 60.9h1.0M127.9 60.0h1.0M126.9 59.3h1.0M131.4 59.1h1.0M127.3 60.1h1.0M131.2 59.2h1.0M126.1 56.5h1.0M125.7 61.6h1.0M128.8 60.4h1.0M131.6 60.1h1.0M130.2 58.5h1.0M125.1 60.7h1.0M128.8 60.6h1.0M126.4 59.2h1.0M133.9 57.9h1.0M129.2 62.1h1.0M128.4 59.8h1.0M123.8 61.0h1.0M127.9 62.0h1.0M128.8 58.8h1.0M130.1 59.1h1.0M127.7 62.5h1.0M131.4 59.7h1.0M131.0 61.1h1.0M130.4 59.6h1.0M129.2 60.3h1.0M130.4 60.2h1.0M127.7 59.4h1.0M130.1 57.6h1.0M129.0 61.0h1.0M129.4 59.0h1.0M128.9 58.6h1.0" stroke="#0a0aff" stroke-width="1.0" stroke-opacity="0.8" fill="none"/>
</g>
<text x="103.7" y="35.8" font-size="6.4" fill="#333" stroke="#333" stroke-width="0.15">III (15%)</text>
<text x="130.5" y="49.3" font-size="6.4" fill="#333" stroke="#333" stroke-width="0.15">IV (4%)</text>
<text x="132" y="79.3" font-size="6.4" fill="#333" stroke="#333" stroke-width="0.15">V (1%)</text>
<path d="M23.5 109.5H84.5V171.3" stroke="#80809e" stroke-width="0.9" fill="none"/>
<path d="M23.5 109.5V171.3H84.5" stroke="#8c8cc0" stroke-width="1.2" fill="none"/>
<path d="M23.2 168.2h2M26.6 171.6v-2M23.2 166.4h2M28.4 171.6v-2M23.2 165.1h2M29.7 171.6v-2M23.2 164.1h2M30.7 171.6v-2M23.2 163.3h2M31.5 171.6v-2M23.2 162.6h2M32.2 171.6v-2M23.2 162.0h2M32.8 171.6v-2M23.2 161.5h2M33.3 171.6v-2M23.2 157.9h2M36.9 171.6v-2M23.2 156.1h2M38.7 171.6v-2M23.2 154.8h2M40.0 171.6v-2M23.2 153.8h2M41.0 171.6v-2M23.2 153.0h2M41.8 171.6v-2M23.2 152.3h2M42.5 171.6v-2M23.2 151.7h2M43.1 171.6v-2M23.2 151.2h2M43.6 171.6v-2M23.2 147.6h2M47.2 171.6v-2M23.2 145.8h2M49.0 171.6v-2M23.2 144.5h2M50.3 171.6v-2M23.2 143.5h2M51.3 171.6v-2M23.2 142.7h2M52.1 171.6v-2M23.2 142.0h2M52.8 171.6v-2M23.2 141.4h2M53.4 171.6v-2M23.2 140.9h2M53.9 171.6v-2M23.2 137.3h2M57.5 171.6v-2M23.2 135.5h2M59.3 171.6v-2M23.2 134.2h2M60.6 171.6v-2M23.2 133.2h2M61.6 171.6v-2M23.2 132.4h2M62.4 171.6v-2M23.2 131.7h2M63.1 171.6v-2M23.2 131.1h2M63.7 171.6v-2M23.2 130.6h2M64.2 171.6v-2M23.2 127.0h2M67.8 171.6v-2M23.2 125.2h2M69.6 171.6v-2M23.2 123.9h2M70.9 171.6v-2M23.2 122.9h2M71.9 171.6v-2M23.2 122.1h2M72.7 171.6v-2M23.2 121.4h2M73.4 171.6v-2M23.2 120.8h2M74.0 171.6v-2M23.2 120.3h2M74.5 171.6v-2M23.2 116.7h2M78.1 171.6v-2M23.2 114.9h2M79.9 171.6v-2M23.2 113.6h2M81.2 171.6v-2M23.2 112.6h2M82.2 171.6v-2M23.2 111.8h2M83.0 171.6v-2M23.2 111.1h2M83.7 171.6v-2M23.2 110.5h2M84.3 171.6v-2M23.2 110.0h2M84.8 171.6v-2" stroke="#2a2a88" stroke-width="0.6" stroke-opacity="0.85" fill="none"/>
<path d="M17.5 168.7l1 0.8v1.8h1.8M22.1 176.1h1.6v-1.6l0.8 -0.8M17.5 158.4l1 0.8v1.8h1.8M32.4 176.1h1.6v-1.6l0.8 -0.8M17.5 148.1l1 0.8v1.8h1.8M42.7 176.1h1.6v-1.6l0.8 -0.8M17.5 137.8l1 0.8v1.8h1.8M53.0 176.1h1.6v-1.6l0.8 -0.8M17.5 127.5l1 0.8v1.8h1.8M63.3 176.1h1.6v-1.6l0.8 -0.8M17.5 117.2l1 0.8v1.8h1.8M73.6 176.1h1.6v-1.6l0.8 -0.8M17.5 106.9l1 0.8v1.8h1.8M83.9 176.1h1.6v-1.6l0.8 -0.8" stroke="#44447e" stroke-width="0.85" fill="none"/>
<text x="43.5" y="108.3" font-size="7.2" fill="#222" stroke="#222" stroke-width="0.22">ETS1</text>
<g filter="url(#b5)">
<path d="M72.2 143.0h1.0M54.9 163.0h1.0M30.0 127.8h1.0M59.7 150.9h1.0M61.1 137.2h1.0M49.8 133.2h1.0M46.9 137.4h1.0M54.3 138.2h1.0M38.7 153.3h1.0M29.3 160.3h1.0M49.8 135.1h1.0M30.7 147.4h1.0M50.2 156.7h1.0M43.7 143.1h1.0M69.6 137.0h1.0M74.1 164.3h1.0M74.5 166.5h1.0M37.9 160.8h1.0M55.6 134.0h1.0M74.9 153.5h1.0M65.5 149.6h1.0M29.0 163.0h1.0M33.8 136.4h1.0M55.8 133.5h1.0M48.1 156.4h1.0M29.8 154.1h1.0M30.2 145.9h1.0M57.5 155.2h1.0M27.2 133.4h1.0M73.0 142.2h1.0M46.2 141.5h1.0M59.8 157.6h1.0M57.5 142.7h1.0M53.5 147.7h1.0M34.4 166.8h1.0M73.2 159.2h1.0M74.6 145.5h1.0M67.0 135.6h1.0M62.1 156.5h1.0M71.9 161.7h1.0M69.0 136.8h1.0M64.4 145.9h1.0M40.6 141.2h1.0M64.9 162.1h1.0M67.2 154.5h1.0M33.5 131.8h1.0M53.4 134.3h1.0M41.8 129.5h1.0M32.7 156.5h1.0M36.2 162.3h1.0M41.5 162.3h1.0M40.1 136.8h1.0M44.7 125.5h1.0M46.8 141.7h1.0M25.6 162.9h1.0M43.8 125.0h1.0M73.0 135.1h1.0M37.6 126.1h1.0M30.0 156.2h1.0M54.1 147.2h1.0" stroke="#777" stroke-width="1.0" stroke-opacity="0.4" fill="none"/>
<path d="M38.8 154.6h1.0M48.7 149.2h1.0M57.1 152.6h1.0M47.4 162.7h1.0M52.1 153.9h1.0M49.4 138.1h1.0M29.5 138.7h1.0M43.3 158.1h1.0M37.3 155.7h1.0M41.0 161.2h1.0M31.5 137.6h1.0M36.8 137.6h1.0M55.6 145.5h1.0M36.0 142.9h1.0M48.7 147.0h1.0M44.9 154.3h1.0M42.8 128.5h1.0M37.6 136.2h1.0M55.0 147.1h1.0M32.0 148.1h1.0M43.9 141.2h1.0M46.5 158.0h1.0M45.1 143.1h1.0M40.2 130.2h1.0M42.7 152.1h1.0M34.1 145.9h1.0M68.2 148.3h1.0M26.7 148.2h1.0M39.2 143.2h1.0M45.9 148.8h1.0M46.9 154.7h1.0M49.2 152.1h1.0M25.5 151.5h1.0M46.7 138.2h1.0M39.0 155.0h1.0M33.3 145.7h1.0M38.3 138.5h1.0M32.9 156.1h1.0M46.1 149.7h1.0M40.0 148.8h1.0M42.6 150.3h1.0M25.8 150.5h1.0M41.8 126.0h1.0M49.5 140.8h1.0M40.2 147.0h1.0M35.1 150.6h1.0M39.7 145.2h1.0M34.7 143.4h1.0M33.2 145.6h1.0M47.9 159.3h1.0M47.9 138.9h1.0M46.0 157.9h1.0M62.4 136.5h1.0M42.0 145.6h1.0M52.0 142.8h1.0M31.7 164.7h1.0M53.8 135.6h1.0M37.3 158.5h1.0M34.8 151.0h1.0M45.7 137.2h1.0M33.2 155.0h1.0M51.4 146.7h1.0M51.3 145.7h1.0M42.9 148.6h1.0M30.9 147.2h1.0M45.7 126.2h1.0M37.2 139.4h1.0M37.5 138.4h1.0M42.7 127.6h1.0M47.4 151.0h1.0M43.6 146.7h1.0M42.2 146.2h1.0M37.1 133.6h1.0M38.7 156.0h1.0M38.2 161.0h1.0M31.6 142.4h1.0M33.0 155.8h1.0M55.0 148.6h1.0M47.1 148.2h1.0M33.9 144.5h1.0M29.0 157.1h1.0M42.1 158.7h1.0M50.4 130.5h1.0M46.7 150.9h1.0M43.7 163.8h1.0M31.2 151.3h1.0M43.9 147.6h1.0M37.4 151.3h1.0M43.4 154.6h1.0M41.6 136.9h1.0M47.1 161.5h1.0M36.9 146.3h1.0M51.8 136.8h1.0M38.0 167.9h1.0M45.0 143.4h1.0M56.1 153.6h1.0M43.7 145.4h1.0M47.3 134.8h1.0M35.6 133.3h1.0M47.9 149.7h1.0M55.2 135.6h1.0M32.5 157.5h1.0M40.3 131.6h1.0M36.4 143.4h1.0M37.3 158.0h1.0M46.5 163.5h1.0M46.7 145.7h1.0M41.5 135.4h1.0M46.9 161.0h1.0M44.1 141.4h1.0M44.6 153.6h1.0M45.4 139.5h1.0M44.3 144.3h1.0M44.8 154.6h1.0M45.4 145.9h1.0M50.1 158.0h1.0M48.0 157.8h1.0M44.8 152.8h1.0M38.2 131.2h1.0M32.4 150.2h1.0M47.2 151.9h1.0M36.5 162.3h1.0M43.0 133.3h1.0M30.5 141.4h1.0M44.1 155.5h1.0M37.1 153.7h1.0M42.7 142.3h1.0M36.1 152.8h1.0M51.2 142.0h1.0M33.4 146.3h1.0M59.9 144.8h1.0M30.6 147.9h1.0M46.5 144.7h1.0M39.5 151.7h1.0M28.2 143.1h1.0M42.9 156.7h1.0M49.8 150.6h1.0M26.6 154.4h1.0M48.5 145.2h1.0M45.7 158.7h1.0M46.5 129.6h1.0M39.7 141.0h1.0M35.1 145.1h1.0M31.9 148.1h1.0M58.2 144.0h1.0M50.2 146.7h1.0M45.4 148.5h1.0M52.4 146.0h1.0M48.6 144.0h1.0M42.7 148.5h1.0M53.4 138.8h1.0M27.2 155.0h1.0M39.1 162.0h1.0M32.8 146.9h1.0M40.5 163.1h1.0M41.9 144.4h1.0M46.5 149.1h1.0M33.4 151.8h1.0M29.8 135.1h1.0M52.4 147.8h1.0M37.6 150.0h1.0M47.8 155.1h1.0M35.5 141.1h1.0M49.1 149.9h1.0M33.9 153.0h1.0M43.3 167.7h1.0M35.1 139.7h1.0M34.9 148.9h1.0M34.4 155.3h1.0M37.0 144.2h1.0M44.6 151.1h1.0M29.4 156.8h1.0M46.6 145.8h1.0M45.6 140.1h1.0M32.8 142.4h1.0M43.4 149.8h1.0M39.2 135.3h1.0M24.2 155.7h1.0M45.9 142.9h1.0M48.2 155.3h1.0M39.7 142.2h1.0M48.4 153.6h1.0M52.0 155.1h1.0M38.4 141.9h1.0M35.1 148.1h1.0M41.2 153.3h1.0M47.2 141.2h1.0M42.1 140.2h1.0M48.2 139.2h1.0M39.1 139.9h1.0M37.2 144.4h1.0M52.8 150.1h1.0M31.3 141.9h1.0M44.9 154.2h1.0M37.2 163.9h1.0M48.9 151.7h1.0M53.6 141.0h1.0M42.2 140.9h1.0M37.8 160.9h1.0M32.9 158.9h1.0M29.6 156.2h1.0M31.0 137.0h1.0M48.6 150.0h1.0M42.1 148.3h1.0M42.8 147.1h1.0M34.7 143.2h1.0M44.3 141.4h1.0M39.5 162.7h1.0M30.5 139.5h1.0M38.9 147.4h1.0M43.7 142.7h1.0M40.7 148.0h1.0M36.1 159.6h1.0M46.1 137.0h1.0M27.9 148.4h1.0M40.2 142.4h1.0M32.0 142.0h1.0M42.2 142.5h1.0M36.0 153.9h1.0M45.2 154.3h1.0M43.5 137.1h1.0M42.5 161.5h1.0M47.1 160.3h1.0M42.0 151.6h1.0M37.4 157.6h1.0M33.1 163.7h1.0M47.6 147.6h1.0M45.5 135.7h1.0M36.5 143.8h1.0M61.2 148.3h1.0M47.5 151.0h1.0M37.1 152.0h1.0M54.3 155.4h1.0M40.1 149.1h1.0M47.2 146.0h1.0M40.5 152.2h1.0M37.4 150.1h1.0M41.4 154.4h1.0M35.3 141.3h1.0M34.5 156.0h1.0M47.4 136.0h1.0M26.3 159.5h1.0M47.1 139.0h1.0M34.0 146.7h1.0M46.9 164.2h1.0M39.2 144.7h1.0M57.8 145.6h1.0M51.5 154.8h1.0M38.1 158.1h1.0M46.9 142.9h1.0M29.8 144.1h1.0M40.9 159.8h1.0M41.3 161.3h1.0M46.2 151.8h1.0M43.0 152.2h1.0M36.7 145.5h1.0M43.2 144.9h1.0M34.3 133.0h1.0M43.2 153.3h1.0M45.1 139.3h1.0M48.3 147.3h1.0M46.1 146.0h1.0M25.8 136.4h1.0M48.0 162.4h1.0M47.7 135.6h1.0M39.0 144.8h1.0M44.7 148.3h1.0M48.1 136.4h1.0M32.3 157.4h1.0M27.8 151.2h1.0M56.0 159.1h1.0M27.4 153.9h1.0M26.5 145.7h1.0M34.6 156.4h1.0M49.1 152.6h1.0M51.3 160.3h1.0M40.3 139.2h1.0M60.1 151.4h1.0M44.3 148.2h1.0M42.0 134.4h1.0M40.3 146.7h1.0M49.6 146.7h1.0M32.6 135.6h1.0M40.0 149.8h1.0M47.4 147.0h1.0M44.5 150.5h1.0M53.5 152.1h1.0M40.5 152.7h1.0M52.5 144.2h1.0M38.3 144.6h1.0M48.8 151.0h1.0M62.0 166.7h1.0M51.4 165.5h1.0M51.6 139.5h1.0M51.0 155.3h1.0M32.1 145.2h1.0M43.8 157.6h1.0M43.7 144.5h1.0M48.7 144.2h1.0M38.3 153.7h1.0M29.4 147.1h1.0M29.3 135.7h1.0M32.3 144.0h1.0M46.4 149.5h1.0M47.4 151.2h1.0M38.1 151.2h1.0M38.9 148.4h1.0M50.2 146.4h1.0M52.5 142.5h1.0M44.3 134.1h1.0M32.7 158.8h1.0M40.0 158.7h1.0M33.1 136.3h1.0M42.1 155.6h1.0M51.8 137.3h1.0M44.9 148.8h1.0M40.5 152.0h1.0M43.7 134.2h1.0M37.2 134.0h1.0M31.8 143.5h1.0M52.6 146.0h1.0M38.6 137.1h1.0M28.2 143.9h1.0M38.1 144.9h1.0M32.6 149.2h1.0M30.7 149.0h1.0M34.0 152.3h1.0M33.3 149.1h1.0M44.4 148.6h1.0M52.5 153.7h1.0M32.6 151.0h1.0M36.5 141.6h1.0M40.6 149.4h1.0M58.4 139.1h1.0M35.9 156.0h1.0M38.9 150.1h1.0M55.6 142.6h1.0M39.1 154.2h1.0M41.6 132.9h1.0M33.1 146.8h1.0M37.2 162.7h1.0M55.1 139.6h1.0M46.0 157.8h1.0M53.3 151.1h1.0M36.5 147.7h1.0M50.6 156.9h1.0M51.2 158.6h1.0M39.5 138.6h1.0M58.8 141.3h1.0M39.3 144.6h1.0M35.9 141.2h1.0M34.4 166.4h1.0M42.0 143.8h1.0M39.3 155.6h1.0M36.2 142.7h1.0M26.2 148.8h1.0M41.8 161.4h1.0M26.1 161.6h1.0M48.2 148.2h1.0M39.0 144.6h1.0M29.9 150.7h1.0M38.6 140.8h1.0M44.5 150.2h1.0M37.4 144.6h1.0M33.6 157.1h1.0M50.4 145.1h1.0M36.8 158.5h1.0M33.9 161.0h1.0M42.4 154.4h1.0M41.9 153.4h1.0M43.0 153.4h1.0M34.7 153.6h1.0M44.4 140.1h1.0M33.1 146.5h1.0M49.7 131.8h1.0M32.9 170.0h1.0M30.5 142.0h1.0M35.0 150.7h1.0M46.8 164.2h1.0M30.1 154.9h1.0" stroke="#3a4a3a" stroke-width="1.0" stroke-opacity="0.38" fill="none"/>
<path d="M40.4 157.5h1.0M44.5 159.0h1.0M41.7 162.5h1.0M43.8 155.9h1.0M43.2 150.8h1.0M46.1 157.6h1.0M45.3 165.0h1.0M41.5 154.6h1.0M44.0 160.1h1.0M43.5 160.5h1.0M45.3 147.5h1.0M42.0 146.2h1.0M43.2 154.0h1.0M45.7 156.8h1.0M43.8 162.1h1.0M45.7 150.0h1.0M42.0 157.6h1.0M49.0 155.0h1.0M43.5 157.3h1.0M46.3 155.6h1.0M44.9 154.0h1.0M42.4 152.1h1.0M45.9 153.3h1.0M45.6 158.0h1.0M46.9 143.0h1.0M41.2 150.1h1.0M43.5 159.9h1.0M51.4 163.5h1.0M48.0 157.9h1.0M42.9 158.6h1.0M37.6 160.5h1.0M44.0 159.0h1.0M41.0 150.7h1.0M42.1 155.8h1.0M45.0 154.3h1.0M45.0 159.3h1.0M40.6 155.5h1.0M39.4 153.3h1.0M46.7 152.5h1.0M49.5 158.5h1.0M46.6 156.5h1.0M46.5 161.3h1.0M44.3 153.4h1.0M42.4 165.4h1.0M43.5 153.8h1.0M41.9 147.8h1.0M42.5 157.6h1.0M42.6 152.3h1.0M45.2 158.2h1.0M42.7 157.5h1.0M41.1 160.2h1.0M41.1 154.4h1.0M44.4 154.0h1.0M40.6 166.2h1.0M48.4 147.5h1.0M44.4 149.8h1.0M44.9 149.7h1.0M45.7 158.6h1.0M49.0 161.9h1.0M42.7 160.6h1.0M42.7 155.5h1.0M42.5 147.4h1.0M45.8 146.1h1.0M43.3 158.6h1.0M44.3 148.3h1.0M42.1 159.3h1.0M47.2 163.8h1.0M38.7 158.2h1.0M42.6 159.7h1.0M39.1 155.3h1.0M46.1 152.9h1.0M42.9 151.2h1.0M47.3 149.5h1.0M41.3 154.4h1.0M43.1 166.3h1.0M44.8 151.9h1.0M45.7 157.7h1.0M44.8 155.7h1.0M45.4 150.3h1.0M40.5 153.9h1.0M40.8 159.4h1.0M49.7 162.0h1.0M45.3 157.6h1.0M42.0 149.7h1.0M45.6 148.8h1.0M44.9 155.3h1.0M46.2 156.2h1.0M44.3 153.2h1.0M39.0 154.3h1.0M46.0 161.1h1.0M48.0 151.2h1.0M41.3 159.4h1.0M42.7 168.5h1.0M44.9 148.6h1.0M42.4 163.6h1.0M38.7 156.7h1.0M39.9 163.8h1.0M42.7 151.0h1.0M39.0 152.5h1.0M36.5 153.7h1.0M50.4 156.5h1.0M43.2 150.3h1.0M45.0 153.7h1.0M41.5 162.7h1.0M45.3 151.7h1.0M48.3 155.7h1.0M45.5 156.7h1.0M47.5 159.0h1.0M43.0 159.5h1.0M42.9 156.7h1.0M48.8 150.8h1.0M41.0 154.0h1.0M42.5 162.3h1.0M39.3 167.2h1.0M48.6 153.8h1.0M44.5 154.2h1.0M46.0 159.2h1.0M46.2 159.7h1.0M49.7 155.2h1.0M46.1 155.1h1.0M44.1 157.1h1.0M43.8 157.7h1.0M41.5 155.3h1.0M42.2 150.3h1.0M41.9 153.6h1.0M43.6 148.4h1.0M43.2 150.5h1.0M41.6 156.9h1.0M47.3 157.4h1.0M42.6 153.9h1.0M47.9 148.1h1.0M47.3 148.7h1.0M42.1 156.2h1.0M43.4 164.1h1.0M45.5 155.8h1.0M46.8 156.2h1.0M41.6 161.5h1.0M48.4 162.2h1.0M40.6 165.3h1.0M42.8 159.7h1.0M47.5 167.6h1.0M39.3 151.0h1.0M47.5 158.4h1.0M43.1 141.7h1.0M45.3 155.1h1.0M36.3 169.1h1.0M36.7 153.3h1.0M44.0 157.1h1.0M46.2 154.7h1.0M41.4 154.2h1.0M37.8 150.5h1.0M49.8 152.6h1.0M43.8 165.3h1.0M47.1 156.6h1.0M46.2 154.7h1.0M41.3 160.9h1.0M44.4 163.8h1.0M43.2 154.2h1.0M45.0 155.1h1.0M43.1 151.6h1.0" stroke="#222" stroke-width="1.0" stroke-opacity="0.55" fill="none"/>
<ellipse cx="41" cy="149.5" rx="5.5" ry="4.5" fill="#111" fill-opacity="0.95" filter="url(#b10)" transform="rotate(0 41 149.5)"/>
<path d="M30.5 137.5L34 135.5L42 135L45 136.5L45.5 141L44 145.5L38 146.5L31.5 146L30 142Z" fill="#f01010" fill-opacity="1" stroke="#f01010" stroke-width="1.5" stroke-linejoin="round" filter="url(#b8)"/>
<path d="M38.5 141.8h1.0M44.7 140.9h1.0M30.6 142.2h1.0M46.5 139.9h1.0M34.4 140.6h1.0M26.3 140.1h1.0M36.8 137.2h1.0M39.8 138.8h1.0M30.3 139.2h1.0M40.0 145.9h1.0M42.4 141.5h1.0M35.5 140.3h1.0M41.3 139.7h1.0M39.1 143.5h1.0M33.9 139.5h1.0M39.3 141.0h1.0M37.0 139.7h1.0M37.3 145.7h1.0M42.8 136.9h1.0M37.7 141.2h1.0M37.6 137.5h1.0M37.0 141.4h1.0M34.8 141.8h1.0M27.9 137.2h1.0M37.9 142.0h1.0M36.8 139.8h1.0M38.2 143.8h1.0M41.0 140.8h1.0M35.7 143.7h1.0M39.6 143.2h1.0M36.4 138.8h1.0M38.2 139.4h1.0M42.0 143.2h1.0M28.9 142.7h1.0M42.7 143.6h1.0M35.6 138.8h1.0M41.3 143.6h1.0M37.7 138.1h1.0M31.5 141.7h1.0M34.3 139.3h1.0M39.2 143.7h1.0M29.4 139.3h1.0M42.6 140.9h1.0M36.2 142.6h1.0M33.0 137.9h1.0M37.6 145.0h1.0M41.5 141.0h1.0M41.5 140.0h1.0M32.9 136.7h1.0M38.6 143.3h1.0M39.0 140.9h1.0M35.9 143.8h1.0M37.3 137.3h1.0M42.9 139.3h1.0M39.0 141.0h1.0M41.6 141.6h1.0M42.3 141.5h1.0M35.7 139.7h1.0M40.1 138.9h1.0M41.1 140.4h1.0M33.9 138.8h1.0M36.9 145.5h1.0M40.5 141.0h1.0M33.9 145.9h1.0M36.4 141.0h1.0M35.8 144.4h1.0M38.2 139.8h1.0M38.2 138.5h1.0M33.4 140.6h1.0M26.2 144.0h1.0M45.3 138.2h1.0M36.9 137.0h1.0M38.2 141.5h1.0M40.4 137.6h1.0M35.1 139.4h1.0M36.5 146.8h1.0M36.7 140.9h1.0M35.5 143.0h1.0M47.6 144.0h1.0M43.5 138.3h1.0M41.7 141.1h1.0M42.4 143.7h1.0M40.1 136.7h1.0M38.0 139.7h1.0M39.3 141.1h1.0M41.6 136.9h1.0M34.6 140.8h1.0M38.8 140.0h1.0M37.4 141.1h1.0M41.6 140.7h1.0M38.5 136.4h1.0M27.2 137.3h1.0M38.9 135.1h1.0M39.1 140.8h1.0M37.5 139.1h1.0M35.8 143.1h1.0M38.9 140.9h1.0M35.6 141.5h1.0M42.2 141.0h1.0M36.1 138.0h1.0M37.9 138.7h1.0M31.8 143.2h1.0M35.0 135.8h1.0M34.7 145.7h1.0M37.1 137.6h1.0M33.2 142.8h1.0M39.1 141.5h1.0M36.7 142.2h1.0M43.6 142.2h1.0M36.9 137.4h1.0M39.3 145.0h1.0M40.0 137.8h1.0M38.2 144.3h1.0M35.0 142.3h1.0M42.3 145.2h1.0M31.2 136.5h1.0M39.0 142.8h1.0M36.1 140.9h1.0M35.9 144.1h1.0M28.8 141.7h1.0M32.5 139.3h1.0M31.5 138.7h1.0M37.4 141.1h1.0M44.5 140.4h1.0M38.9 141.9h1.0M38.5 144.8h1.0M38.0 141.4h1.0M37.1 141.0h1.0M37.3 143.5h1.0M37.6 141.2h1.0" stroke="#f01010" stroke-width="1.0" stroke-opacity="0.75" fill="none"/>
<ellipse cx="46" cy="148" rx="3.8" ry="4.8" fill="#2a38c4" fill-opacity="0.9" filter="url(#b8)" transform="rotate(0 46 148)"/>
</g>
<text x="28" y="123.4" font-size="6.4" fill="#333" stroke="#333" stroke-width="0.15">III (43%)</text>
<text x="53.4" y="136" font-size="6.4" fill="#333" stroke="#333" stroke-width="0.15">IV (3%)</text>
<text x="55" y="166.2" font-size="6.4" fill="#333" stroke="#333" stroke-width="0.15">V (1%)</text>
<path d="M100.5 109.5H162.5V171.3" stroke="#80809e" stroke-width="0.9" fill="none"/>
<path d="M100.5 109.5V171.3H162.5" stroke="#8c8cc0" stroke-width="1.2" fill="none"/>
<path d="M100.2 168.2h2M103.6 171.6v-2M100.2 166.4h2M105.4 171.6v-2M100.2 165.1h2M106.7 171.6v-2M100.2 164.1h2M107.7 171.6v-2M100.2 163.3h2M108.5 171.6v-2M100.2 162.6h2M109.2 171.6v-2M100.2 162.0h2M109.8 171.6v-2M100.2 161.5h2M110.3 171.6v-2M100.2 157.9h2M113.9 171.6v-2M100.2 156.1h2M115.7 171.6v-2M100.2 154.8h2M117.0 171.6v-2M100.2 153.8h2M118.0 171.6v-2M100.2 153.0h2M118.8 171.6v-2M100.2 152.3h2M119.5 171.6v-2M100.2 151.7h2M120.1 171.6v-2M100.2 151.2h2M120.6 171.6v-2M100.2 147.6h2M124.2 171.6v-2M100.2 145.8h2M126.0 171.6v-2M100.2 144.5h2M127.3 171.6v-2M100.2 143.5h2M128.3 171.6v-2M100.2 142.7h2M129.1 171.6v-2M100.2 142.0h2M129.8 171.6v-2M100.2 141.4h2M130.4 171.6v-2M100.2 140.9h2M130.9 171.6v-2M100.2 137.3h2M134.5 171.6v-2M100.2 135.5h2M136.3 171.6v-2M100.2 134.2h2M137.6 171.6v-2M100.2 133.2h2M138.6 171.6v-2M100.2 132.4h2M139.4 171.6v-2M100.2 131.7h2M140.1 171.6v-2M100.2 131.1h2M140.7 171.6v-2M100.2 130.6h2M141.2 171.6v-2M100.2 127.0h2M144.8 171.6v-2M100.2 125.2h2M146.6 171.6v-2M100.2 123.9h2M147.9 171.6v-2M100.2 122.9h2M148.9 171.6v-2M100.2 122.1h2M149.7 171.6v-2M100.2 121.4h2M150.4 171.6v-2M100.2 120.8h2M151.0 171.6v-2M100.2 120.3h2M151.5 171.6v-2M100.2 116.7h2M155.1 171.6v-2M100.2 114.9h2M156.9 171.6v-2M100.2 113.6h2M158.2 171.6v-2M100.2 112.6h2M159.2 171.6v-2M100.2 111.8h2M160.0 171.6v-2M100.2 111.1h2M160.7 171.6v-2M100.2 110.5h2M161.3 171.6v-2M100.2 110.0h2M161.8 171.6v-2" stroke="#2a2a88" stroke-width="0.6" stroke-opacity="0.85" fill="none"/>
<path d="M94.5 168.7l1 0.8v1.8h1.8M99.1 176.1h1.6v-1.6l0.8 -0.8M94.5 158.4l1 0.8v1.8h1.8M109.4 176.1h1.6v-1.6l0.8 -0.8M94.5 148.1l1 0.8v1.8h1.8M119.7 176.1h1.6v-1.6l0.8 -0.8M94.5 137.8l1 0.8v1.8h1.8M130.0 176.1h1.6v-1.6l0.8 -0.8M94.5 127.5l1 0.8v1.8h1.8M140.3 176.1h1.6v-1.6l0.8 -0.8M94.5 117.2l1 0.8v1.8h1.8M150.6 176.1h1.6v-1.6l0.8 -0.8M94.5 106.9l1 0.8v1.8h1.8M160.9 176.1h1.6v-1.6l0.8 -0.8" stroke="#44447e" stroke-width="0.85" fill="none"/>
<text x="104.3" y="107.6" font-size="7.2" fill="#222" stroke="#222" stroke-width="0.22">TOX2-KD+ETS1</text>
<g filter="url(#b5)">
<path d="M114.5 135.7h1.0M117.6 143.2h1.0M119.3 139.3h1.0M102.9 161.8h1.0M137.4 146.7h1.0M102.1 135.3h1.0M145.2 145.1h1.0M111.9 161.1h1.0M144.8 130.4h1.0M126.1 149.7h1.0M107.6 139.1h1.0M131.7 154.6h1.0M132.2 152.3h1.0M120.1 128.0h1.0M102.8 161.9h1.0M143.5 164.8h1.0M105.6 158.9h1.0M110.2 140.2h1.0M111.6 162.8h1.0M141.3 161.6h1.0M120.3 166.2h1.0M114.5 150.3h1.0M134.3 135.3h1.0M120.3 129.4h1.0M140.2 133.1h1.0M108.5 137.2h1.0M132.7 153.0h1.0M127.2 162.6h1.0M138.1 134.2h1.0M127.7 132.5h1.0M113.6 131.5h1.0M105.7 140.4h1.0M144.6 153.9h1.0M106.2 134.6h1.0M130.4 148.3h1.0M103.3 129.1h1.0M129.2 151.5h1.0M105.9 159.0h1.0M113.5 150.9h1.0M127.4 140.0h1.0M147.4 142.4h1.0M122.3 148.8h1.0M142.3 168.5h1.0M138.9 148.7h1.0M136.4 153.1h1.0M148.0 167.7h1.0M138.5 134.5h1.0M129.3 144.3h1.0M113.1 159.4h1.0M112.6 156.2h1.0M125.5 143.8h1.0M135.9 156.9h1.0M149.5 169.0h1.0M140.4 136.6h1.0M134.1 146.8h1.0M147.1 144.7h1.0M119.2 126.1h1.0M124.6 148.4h1.0M116.8 129.6h1.0M125.2 128.1h1.0M110.2 144.5h1.0M118.7 147.0h1.0M127.4 142.1h1.0M108.4 125.8h1.0M128.9 167.7h1.0M115.5 140.5h1.0M117.3 157.7h1.0M125.7 160.0h1.0M102.3 130.8h1.0M111.9 141.2h1.0" stroke="#777" stroke-width="1.0" stroke-opacity="0.4" fill="none"/>
<path d="M110.2 150.5h1.0M125.9 142.8h1.0M109.8 135.1h1.0M120.6 137.4h1.0M137.8 150.4h1.0M106.0 142.3h1.0M129.8 151.4h1.0M108.4 154.7h1.0M113.0 165.8h1.0M112.4 150.6h1.0M121.7 140.8h1.0M115.7 155.9h1.0M121.2 144.4h1.0M120.7 161.4h1.0M124.8 149.5h1.0M119.8 130.3h1.0M118.1 140.4h1.0M123.2 139.3h1.0M120.8 135.1h1.0M124.5 138.2h1.0M116.8 150.4h1.0M114.3 145.1h1.0M125.9 161.6h1.0M101.8 136.5h1.0M122.7 153.8h1.0M113.0 145.9h1.0M115.4 166.4h1.0M115.3 133.8h1.0M104.0 133.0h1.0M127.9 141.3h1.0M133.4 151.0h1.0M120.2 151.1h1.0M123.6 153.6h1.0M108.8 139.8h1.0M112.4 146.0h1.0M114.9 133.4h1.0M111.2 161.8h1.0M134.8 137.0h1.0M120.2 144.7h1.0M109.9 151.7h1.0M116.4 160.7h1.0M120.8 142.1h1.0M124.1 138.3h1.0M124.4 151.4h1.0M102.2 143.2h1.0M119.7 152.1h1.0M118.3 144.9h1.0M114.1 142.3h1.0M117.0 135.0h1.0M122.4 141.9h1.0M121.4 140.2h1.0M120.4 146.2h1.0M124.5 149.3h1.0M124.8 143.4h1.0M116.5 142.5h1.0M106.5 143.8h1.0M126.1 152.2h1.0M109.9 147.8h1.0M123.3 132.3h1.0M119.9 148.1h1.0M123.3 147.4h1.0M102.4 126.1h1.0M133.7 141.3h1.0M127.7 156.9h1.0M117.7 134.3h1.0M128.5 144.7h1.0M121.4 149.5h1.0M125.0 154.5h1.0M105.1 131.8h1.0M118.2 145.1h1.0M123.5 143.7h1.0M115.5 164.0h1.0M128.5 155.9h1.0M125.7 137.6h1.0M116.3 144.3h1.0M107.8 136.9h1.0M118.4 133.6h1.0M121.6 149.4h1.0M115.0 141.8h1.0M122.1 149.5h1.0M120.1 133.6h1.0M103.4 164.2h1.0M111.5 141.6h1.0M101.7 137.5h1.0M110.8 152.5h1.0M113.5 140.4h1.0M110.5 140.9h1.0M103.8 147.5h1.0M127.0 146.4h1.0M112.5 156.8h1.0M121.1 135.4h1.0M112.2 139.3h1.0M116.6 156.3h1.0M111.1 143.6h1.0M117.9 133.9h1.0M113.0 150.7h1.0M126.5 127.5h1.0M122.9 142.3h1.0M127.8 150.8h1.0M133.5 147.9h1.0M113.7 137.2h1.0M105.0 150.2h1.0M121.3 152.7h1.0M119.9 131.0h1.0M113.6 142.7h1.0M118.3 152.2h1.0M128.9 147.7h1.0M106.9 147.2h1.0M115.1 155.4h1.0M126.1 140.8h1.0M124.9 145.1h1.0M120.8 157.6h1.0M107.4 144.4h1.0M129.9 137.9h1.0M118.8 146.2h1.0M113.5 132.8h1.0M111.2 135.8h1.0M126.1 147.3h1.0M122.9 133.9h1.0M121.2 146.3h1.0M125.8 138.3h1.0M123.8 157.8h1.0M132.1 136.3h1.0M107.6 131.4h1.0M125.1 150.5h1.0M119.9 136.9h1.0M127.5 160.0h1.0M116.7 143.9h1.0M127.0 149.7h1.0M128.3 141.2h1.0M119.9 141.9h1.0M112.2 142.2h1.0M114.6 149.7h1.0M114.5 145.7h1.0M110.2 133.6h1.0M129.0 135.8h1.0M132.2 153.8h1.0M113.5 145.2h1.0M115.5 139.4h1.0M127.5 143.8h1.0M125.1 138.6h1.0M111.2 157.4h1.0M114.6 134.8h1.0M115.6 154.8h1.0M115.7 138.3h1.0M122.4 154.1h1.0M115.3 142.0h1.0M113.9 170.1h1.0M115.4 161.2h1.0M115.8 148.8h1.0M117.5 142.1h1.0M113.6 132.3h1.0M104.5 146.6h1.0M111.6 144.2h1.0M115.5 140.3h1.0M110.9 162.3h1.0M107.8 140.3h1.0M114.5 134.3h1.0M109.0 153.0h1.0M124.8 146.2h1.0M144.2 152.7h1.0M127.4 137.4h1.0M126.1 160.7h1.0M113.8 161.8h1.0M110.3 134.5h1.0M116.6 137.5h1.0M122.4 134.7h1.0M117.7 126.8h1.0M116.8 154.8h1.0M114.8 147.9h1.0M126.2 134.8h1.0M106.4 145.8h1.0M119.4 142.5h1.0M108.9 156.3h1.0M107.3 142.6h1.0M116.7 151.7h1.0M113.3 137.4h1.0M133.9 137.2h1.0M123.7 143.6h1.0M113.0 144.6h1.0M114.9 147.9h1.0M117.6 136.0h1.0M113.8 166.7h1.0M132.5 151.0h1.0M119.0 142.2h1.0M128.7 140.9h1.0M110.1 151.4h1.0M108.9 137.7h1.0M129.2 130.1h1.0M116.5 146.1h1.0M119.2 131.5h1.0M115.1 141.9h1.0M133.2 154.3h1.0M110.7 153.1h1.0M122.5 144.0h1.0M115.0 142.5h1.0M104.1 139.2h1.0M124.9 158.4h1.0M132.6 141.5h1.0M122.2 122.7h1.0M114.8 133.3h1.0M123.9 129.6h1.0M108.3 134.8h1.0M120.4 152.8h1.0M109.3 161.7h1.0M118.4 137.3h1.0M120.0 144.9h1.0M124.0 148.2h1.0M135.4 155.8h1.0M111.7 152.3h1.0M123.4 135.7h1.0M110.8 137.5h1.0M115.2 156.4h1.0M112.4 145.7h1.0M123.1 154.0h1.0M119.7 135.4h1.0M135.5 153.1h1.0M128.5 160.0h1.0M128.8 148.9h1.0M121.0 150.9h1.0M104.4 152.5h1.0M108.9 148.9h1.0M108.6 151.6h1.0M113.0 168.1h1.0M118.7 149.7h1.0M109.5 142.3h1.0M116.6 142.3h1.0M113.4 136.9h1.0M123.4 141.5h1.0M110.2 148.4h1.0M110.2 143.4h1.0M112.8 136.4h1.0M115.2 137.4h1.0M106.6 148.3h1.0M114.6 131.5h1.0M113.7 146.7h1.0M120.6 148.5h1.0M119.2 150.5h1.0M112.9 137.6h1.0M122.2 141.2h1.0M117.1 151.0h1.0M124.9 156.3h1.0M111.3 141.6h1.0M121.7 131.8h1.0M106.5 150.6h1.0M111.9 136.5h1.0M123.8 149.9h1.0M124.8 141.9h1.0M114.7 141.9h1.0M119.6 126.2h1.0M111.3 151.6h1.0M110.5 144.4h1.0M118.1 149.8h1.0M113.1 134.5h1.0M138.0 138.4h1.0M131.4 128.8h1.0M118.0 143.2h1.0M132.9 163.9h1.0M125.2 135.6h1.0M110.4 138.1h1.0M112.8 147.4h1.0M110.5 142.7h1.0M129.4 158.3h1.0M101.5 136.2h1.0M114.0 157.0h1.0M114.3 162.7h1.0M120.1 158.3h1.0M109.9 142.1h1.0M125.6 150.3h1.0M101.5 142.5h1.0M118.6 150.8h1.0M111.8 161.1h1.0M118.3 158.4h1.0M120.4 145.8h1.0M114.4 134.2h1.0M124.3 152.0h1.0M124.9 141.5h1.0M108.7 141.5h1.0M114.5 144.9h1.0M125.3 136.6h1.0M113.0 151.4h1.0M124.6 165.4h1.0M121.5 137.2h1.0M108.4 137.7h1.0M117.7 147.3h1.0M116.5 139.4h1.0M115.5 144.3h1.0M122.0 145.8h1.0M110.3 134.2h1.0M129.5 144.2h1.0M115.6 144.8h1.0M126.5 142.1h1.0M118.6 142.8h1.0M121.9 135.7h1.0M118.8 154.5h1.0M127.0 150.7h1.0M119.6 159.5h1.0M123.0 157.9h1.0M107.1 134.9h1.0M123.8 142.6h1.0M113.5 136.3h1.0M129.5 134.0h1.0M118.0 132.2h1.0M115.7 165.7h1.0M137.4 140.5h1.0M108.7 160.0h1.0M110.0 128.6h1.0M120.0 135.1h1.0M105.0 155.4h1.0M111.0 135.2h1.0M118.5 143.3h1.0M126.5 145.9h1.0M130.4 155.5h1.0M131.9 155.3h1.0M117.7 150.0h1.0M117.3 130.7h1.0M107.3 151.8h1.0M106.4 144.4h1.0M108.5 147.3h1.0M115.5 140.7h1.0M110.1 124.6h1.0M117.7 133.1h1.0M114.7 148.4h1.0M125.8 151.5h1.0M129.4 132.0h1.0M122.7 159.4h1.0M120.4 134.8h1.0M120.4 140.3h1.0M111.8 154.8h1.0M115.6 134.7h1.0M111.5 163.1h1.0M110.1 151.2h1.0M118.6 155.8h1.0M114.8 136.3h1.0M111.8 135.6h1.0M138.7 146.8h1.0M114.5 156.6h1.0M122.6 143.3h1.0M122.3 147.5h1.0M126.5 160.2h1.0M114.5 144.7h1.0M115.6 156.3h1.0M120.3 152.2h1.0M124.6 139.2h1.0M118.2 157.7h1.0M124.8 152.5h1.0M114.8 141.7h1.0M110.0 142.5h1.0M116.6 131.9h1.0M126.8 138.0h1.0M119.2 150.6h1.0M112.6 128.4h1.0M125.2 148.8h1.0M115.0 155.4h1.0M124.6 136.3h1.0M116.5 128.8h1.0M115.0 158.0h1.0M110.2 152.6h1.0M104.6 142.3h1.0M125.0 160.8h1.0M120.9 152.0h1.0M131.4 122.6h1.0M103.0 162.4h1.0M137.6 150.5h1.0M117.7 147.4h1.0M117.4 139.4h1.0M117.0 143.9h1.0M122.7 151.3h1.0M125.3 150.4h1.0M109.1 157.8h1.0M119.9 140.2h1.0M132.7 135.0h1.0M107.5 140.4h1.0M120.6 152.3h1.0M118.0 151.2h1.0M111.3 139.5h1.0M118.2 132.7h1.0M118.7 141.4h1.0M122.8 135.7h1.0M112.8 139.8h1.0M114.1 135.9h1.0M115.0 132.6h1.0M121.6 151.2h1.0M117.0 143.3h1.0M109.8 136.2h1.0M115.3 136.7h1.0M107.4 146.6h1.0M117.0 141.3h1.0M110.4 144.5h1.0M111.4 141.1h1.0M118.7 151.6h1.0M123.4 139.5h1.0M127.1 134.4h1.0M115.7 157.0h1.0M136.7 146.2h1.0M114.2 141.6h1.0M107.1 143.7h1.0M113.6 138.1h1.0M127.0 137.9h1.0M131.1 152.7h1.0M122.4 139.6h1.0M112.9 126.7h1.0M119.4 142.5h1.0M120.3 138.9h1.0M121.1 131.3h1.0M126.0 116.1h1.0M127.7 141.8h1.0M115.8 130.9h1.0M108.9 151.6h1.0M111.1 144.7h1.0M115.9 163.3h1.0M124.5 132.9h1.0M113.2 134.5h1.0M105.7 138.8h1.0M126.2 145.5h1.0M122.7 143.8h1.0M113.7 145.8h1.0M116.5 162.7h1.0M131.9 148.5h1.0M122.1 126.7h1.0M116.1 167.0h1.0M110.6 152.5h1.0M127.2 141.4h1.0M115.3 140.8h1.0M123.7 145.2h1.0M129.5 155.9h1.0M117.0 168.9h1.0M114.6 139.4h1.0M115.2 136.9h1.0M113.7 144.4h1.0M124.4 130.5h1.0M105.6 137.9h1.0M114.6 149.2h1.0M110.7 158.9h1.0M112.8 143.0h1.0M117.6 155.8h1.0M119.6 145.3h1.0M112.7 146.6h1.0M120.4 141.8h1.0M116.9 128.1h1.0M112.8 155.9h1.0M128.8 144.3h1.0M115.7 168.6h1.0M113.7 154.2h1.0M112.0 157.6h1.0M126.6 135.2h1.0M115.3 133.9h1.0M119.4 141.3h1.0M104.8 135.4h1.0M119.1 131.0h1.0" stroke="#3a4a3a" stroke-width="1.0" stroke-opacity="0.38" fill="none"/>
<ellipse cx="117" cy="150" rx="5" ry="4" fill="#111" fill-opacity="0.95" filter="url(#b10)" transform="rotate(0 117 150)"/>
<path d="M121.7 153.3h1.0M117.4 156.1h1.0M114.9 154.0h1.0M113.5 151.1h1.0M120.2 150.4h1.0M117.7 153.9h1.0M123.2 155.8h1.0M119.6 151.2h1.0M113.2 157.0h1.0M124.4 145.7h1.0M121.0 151.9h1.0M120.4 152.9h1.0M117.4 152.0h1.0M117.9 155.4h1.0M117.2 150.4h1.0M120.2 153.9h1.0M119.5 152.8h1.0M123.0 155.2h1.0M118.8 151.4h1.0M120.3 146.6h1.0M116.3 149.9h1.0M118.6 150.9h1.0M126.3 154.2h1.0M119.4 158.6h1.0M118.0 151.1h1.0M122.2 154.4h1.0M121.2 155.5h1.0M116.8 150.1h1.0M115.6 152.3h1.0M121.4 148.9h1.0M116.2 148.1h1.0M124.8 154.3h1.0M118.8 148.5h1.0M114.6 150.1h1.0M118.1 148.3h1.0M117.3 155.6h1.0M118.1 152.3h1.0M111.0 151.2h1.0M117.5 150.0h1.0M113.4 151.8h1.0M114.6 150.4h1.0M112.7 151.7h1.0M121.1 149.5h1.0M119.1 147.6h1.0M120.0 153.6h1.0M116.7 154.6h1.0M115.1 152.1h1.0M123.7 151.9h1.0M114.3 155.4h1.0M119.8 151.2h1.0M111.9 146.5h1.0M112.9 156.3h1.0M119.0 149.5h1.0M121.9 156.3h1.0M115.2 153.4h1.0M112.5 153.1h1.0M124.1 147.9h1.0M118.2 150.1h1.0M117.7 152.3h1.0M119.0 154.6h1.0M119.8 155.1h1.0M121.4 155.2h1.0M115.8 153.2h1.0M116.8 149.5h1.0M124.6 152.9h1.0M118.2 145.8h1.0M117.3 154.3h1.0M117.3 150.4h1.0M123.0 151.1h1.0M116.9 151.7h1.0M117.2 155.1h1.0M119.9 151.8h1.0M116.8 151.3h1.0M123.7 151.1h1.0M120.2 147.4h1.0M119.1 154.0h1.0M122.3 152.9h1.0M120.0 152.9h1.0M121.6 158.0h1.0M118.7 149.6h1.0M120.0 151.7h1.0M120.2 154.3h1.0M118.5 150.7h1.0M119.1 148.4h1.0M119.0 149.4h1.0M119.5 152.4h1.0M117.3 148.5h1.0M118.2 150.0h1.0M117.6 154.0h1.0M121.2 148.2h1.0M121.2 156.0h1.0M121.8 152.8h1.0M117.7 157.1h1.0M117.0 147.5h1.0M118.3 152.8h1.0M114.6 148.4h1.0M124.7 152.3h1.0M120.6 150.3h1.0M113.0 151.5h1.0M122.5 150.0h1.0M112.0 151.5h1.0M117.1 152.0h1.0M114.5 151.1h1.0M116.2 154.6h1.0M118.5 154.6h1.0M117.9 145.8h1.0M111.5 153.6h1.0M121.0 154.6h1.0M117.8 146.8h1.0M116.4 153.2h1.0M122.7 151.0h1.0M116.2 149.7h1.0M121.4 154.5h1.0M111.9 155.6h1.0M115.0 147.7h1.0M112.7 149.9h1.0M125.8 159.5h1.0M113.9 150.0h1.0M118.6 153.2h1.0M116.4 147.4h1.0" stroke="#222" stroke-width="1.0" stroke-opacity="0.6" fill="none"/>
<path d="M109.2 127L122.5 126.5L122 135L120 144.5L112.5 144.5L109.8 135Z" fill="#f01010" fill-opacity="1" stroke="#f01010" stroke-width="1.5" stroke-linejoin="round" filter="url(#b8)"/>
<path d="M114.3 133.0h1.0M108.3 136.6h1.0M109.7 128.4h1.0M122.6 140.1h1.0M122.3 136.5h1.0M114.3 135.6h1.0M110.2 139.3h1.0M117.2 134.7h1.0M108.0 135.5h1.0M123.1 142.4h1.0M119.8 134.5h1.0M116.6 138.4h1.0M116.9 140.6h1.0M113.2 125.8h1.0M105.6 132.0h1.0M110.1 138.9h1.0M120.7 136.0h1.0M118.4 136.3h1.0M116.8 133.9h1.0M114.3 141.2h1.0M114.9 135.8h1.0M121.2 140.3h1.0M114.4 137.1h1.0M111.7 136.6h1.0M117.4 136.0h1.0M116.8 137.6h1.0M105.1 132.4h1.0M116.4 133.8h1.0M111.9 135.0h1.0M123.0 135.0h1.0M113.3 133.9h1.0M110.9 138.1h1.0M111.8 140.0h1.0M120.0 138.5h1.0M120.5 135.6h1.0M108.5 135.7h1.0M118.8 129.2h1.0M110.8 140.8h1.0M117.9 141.9h1.0M118.9 136.3h1.0M117.9 139.7h1.0M115.9 135.1h1.0M117.4 134.6h1.0M126.4 132.6h1.0M109.5 130.3h1.0M120.6 134.2h1.0M116.7 135.1h1.0M117.3 129.6h1.0M116.4 133.5h1.0M120.7 138.7h1.0M110.6 131.7h1.0M118.5 141.3h1.0M119.4 135.3h1.0M120.9 125.6h1.0M113.7 131.7h1.0M111.6 138.5h1.0M117.3 137.3h1.0M115.5 138.7h1.0M119.4 133.5h1.0M120.1 131.9h1.0M123.7 130.3h1.0M114.8 131.2h1.0M116.2 141.8h1.0M112.8 143.8h1.0M122.2 137.7h1.0M113.5 140.0h1.0M103.7 132.6h1.0M120.2 135.8h1.0M126.8 133.0h1.0M110.3 135.1h1.0M118.6 143.5h1.0M108.4 136.7h1.0M121.5 133.0h1.0M114.1 130.7h1.0M119.4 139.7h1.0M118.6 137.1h1.0M120.4 135.5h1.0M119.2 139.6h1.0M121.7 138.3h1.0M116.4 139.1h1.0M109.3 128.2h1.0M123.1 136.6h1.0M111.5 133.4h1.0M115.4 136.3h1.0M112.7 140.4h1.0M108.6 148.4h1.0M111.3 143.3h1.0M119.0 128.6h1.0M110.7 136.3h1.0M117.2 134.1h1.0M116.1 136.7h1.0M111.1 136.3h1.0M126.0 133.1h1.0M111.6 138.9h1.0M121.9 140.6h1.0M113.3 135.7h1.0M116.9 135.1h1.0M117.8 140.8h1.0M118.5 136.0h1.0M115.2 143.9h1.0M110.7 144.9h1.0M119.3 136.4h1.0M112.8 144.1h1.0M121.4 140.0h1.0M125.2 128.0h1.0M116.5 134.6h1.0M112.9 136.3h1.0M118.4 138.3h1.0M115.4 130.1h1.0M118.5 138.7h1.0M125.4 140.1h1.0M116.1 130.9h1.0M128.1 133.0h1.0M116.9 139.3h1.0M118.3 141.9h1.0M111.5 132.9h1.0M116.8 130.5h1.0M113.4 142.1h1.0M117.4 135.5h1.0M113.5 136.2h1.0M115.9 131.2h1.0M119.5 130.3h1.0M121.7 134.5h1.0M106.0 129.1h1.0M117.3 132.1h1.0M124.1 142.1h1.0M125.4 140.0h1.0M122.1 133.3h1.0M121.8 134.1h1.0M115.8 129.9h1.0M116.3 137.8h1.0M115.8 131.1h1.0M120.1 140.1h1.0M115.7 139.5h1.0M120.4 131.6h1.0M115.9 127.7h1.0M111.5 137.9h1.0M112.1 137.8h1.0M117.7 126.8h1.0M113.9 142.8h1.0M116.1 136.6h1.0M112.9 128.8h1.0M109.0 148.8h1.0M115.2 132.1h1.0M116.6 127.3h1.0M122.3 143.7h1.0M112.7 137.4h1.0M112.0 139.8h1.0M112.3 135.4h1.0M121.9 138.3h1.0M114.6 129.2h1.0M108.9 141.4h1.0M118.4 136.3h1.0M121.7 136.7h1.0M112.8 135.5h1.0M115.6 135.9h1.0M127.2 138.6h1.0M117.3 134.9h1.0M113.0 131.6h1.0M107.6 133.9h1.0M109.2 127.7h1.0M111.8 126.9h1.0M122.2 141.6h1.0M111.7 145.2h1.0M119.0 124.7h1.0M116.1 131.5h1.0M108.2 134.8h1.0M121.2 138.0h1.0M109.5 133.0h1.0M112.6 141.1h1.0M115.6 131.6h1.0M111.9 127.2h1.0M112.3 140.0h1.0M107.4 136.9h1.0M115.5 139.7h1.0M110.9 140.1h1.0M123.0 146.3h1.0M108.7 135.9h1.0M115.1 136.6h1.0M111.6 139.9h1.0" stroke="#f01010" stroke-width="1.0" stroke-opacity="0.8" fill="none"/>
<ellipse cx="123" cy="147.5" rx="4.2" ry="3.8" fill="#3848c0" fill-opacity="0.9" filter="url(#b8)" transform="rotate(0 123 147.5)"/>
</g>
<text x="103.7" y="122.8" font-size="6.4" fill="#333" stroke="#333" stroke-width="0.15">III (58%)</text>
<text x="130" y="135.7" font-size="6.4" fill="#333" stroke="#333" stroke-width="0.15">IV (1%)</text>
<text x="131" y="165.9" font-size="6.4" fill="#333" stroke="#333" stroke-width="0.15">V (0.3%)</text>
<path d="M10.3 171V186.5H26" stroke="#111" stroke-width="1" fill="none"/>
<path d="M8.100000000000001 172L10.3 168L12.5 172Z" fill="#111"/>
<path d="M25 184.3L29 186.5L25 188.7Z" fill="#111"/>
<text x="13.2" y="165" font-size="7.1" fill="#222" stroke="#222" stroke-width="0.2" transform="rotate(-90 13.2 165)">CD117</text>
<text x="37.2" y="191.2" font-size="7.1" fill="#222" stroke="#222" stroke-width="0.2">CD94</text>
<text x="200" y="6.6" font-size="7.1" fill="#222" stroke="#222" stroke-width="0.2">Stage III gated</text>
<line x1="196" y1="10" x2="331" y2="10" stroke="#333" stroke-width="1.1"/>
<path d="M198 23.5V85H261.5" stroke="#a4a4c8" stroke-width="1" fill="none"/>
<path d="M198 23.5H261.5V85" stroke="#d0d0e4" stroke-width="0.8" fill="none"/>
<path d="M194 85.0h3" stroke="#6a6aa8" stroke-width="0.9"/>
<path d="M191.5 84.0v2" stroke="#8080a8" stroke-width="0.8"/>
<path d="M194 64.5h3" stroke="#6a6aa8" stroke-width="0.9"/>
<path d="M191.5 63.5v2" stroke="#8080a8" stroke-width="0.8"/>
<path d="M194 44.0h3" stroke="#6a6aa8" stroke-width="0.9"/>
<path d="M191.5 43.0v2" stroke="#8080a8" stroke-width="0.8"/>
<path d="M194 23.5h3" stroke="#6a6aa8" stroke-width="0.9"/>
<path d="M191.5 22.5v2" stroke="#8080a8" stroke-width="0.8"/>
<path d="M202.8 85.3v-1.6M205.6 85.3v-1.6M207.6 85.3v-1.6M209.1 85.3v-1.6M210.4 85.3v-1.6M211.4 85.3v-1.6M212.3 85.3v-1.6M213.1 85.3v-1.6M218.7 85.3v-1.6M221.4 85.3v-1.6M223.4 85.3v-1.6M225.0 85.3v-1.6M226.2 85.3v-1.6M227.3 85.3v-1.6M228.2 85.3v-1.6M229.0 85.3v-1.6M234.5 85.3v-1.6M237.3 85.3v-1.6M239.3 85.3v-1.6M240.8 85.3v-1.6M242.1 85.3v-1.6M243.2 85.3v-1.6M244.1 85.3v-1.6M244.9 85.3v-1.6M250.4 85.3v-1.6M253.2 85.3v-1.6M255.2 85.3v-1.6M256.7 85.3v-1.6M258.0 85.3v-1.6M259.0 85.3v-1.6M260.0 85.3v-1.6M260.8 85.3v-1.6" stroke="#3a3a90" stroke-width="0.6" stroke-opacity="0.8" fill="none"/>
<path d="M197.0 90.8l1 -1.3h1.5" stroke="#5a5a98" stroke-width="0.85" fill="none"/>
<path d="M212.9 90.8l1 -1.3h1.5" stroke="#5a5a98" stroke-width="0.85" fill="none"/>
<path d="M228.8 90.8l1 -1.3h1.5" stroke="#5a5a98" stroke-width="0.85" fill="none"/>
<path d="M244.6 90.8l1 -1.3h1.5" stroke="#5a5a98" stroke-width="0.85" fill="none"/>
<path d="M260.5 90.8l1 -1.3h1.5" stroke="#5a5a98" stroke-width="0.85" fill="none"/>
<text x="217" y="20.3" font-size="7.2" fill="#222" stroke="#222" stroke-width="0.2">Control</text>
<text x="201" y="32.3" font-size="6.2" fill="#8044d0" stroke="#8044d0" stroke-width="0.25">Early III</text>
<text x="201" y="39.3" font-size="6.2" fill="#8044d0" stroke="#8044d0" stroke-width="0.25">33%</text>
<text x="237.5" y="32.3" font-size="6.2" fill="#cc2a3a" stroke="#cc2a3a" stroke-width="0.25">Late III</text>
<text x="237.5" y="39.3" font-size="6.2" fill="#cc2a3a" stroke="#cc2a3a" stroke-width="0.25">67%</text>
<path d="M226.5 85L226.5 84.4L227.1 83.6L227.7 83.1L228.3 81.2L228.9 80.8L229.5 79.5L230.1 77.4L230.7 76.2L231.3 77.9L231.9 75.5L232.5 72.4L233.1 71.1L233.7 70.2L234.3 66.8L234.9 68.4L235.5 68.8L236.1 65.4L236.7 71.4L237.3 65.7L237.9 71.5L238.5 72.8L239.1 73.5L239.7 79.0L240.3 80.4L240.9 81.4L241.5 84.2L242.1 84.7L242.5 85Z" fill="#f01010" fill-opacity="1.0" stroke="none"/>
<path d="M199.0 85L199.0 85.0L199.6 84.6L200.2 84.2L200.8 84.5L201.4 84.5L202.0 83.9L202.6 84.9L203.2 84.0L203.8 84.7L204.4 84.7L205.0 83.7L205.6 84.7L206.2 83.1L206.8 83.7L207.4 83.2L208.0 83.1L208.6 82.8L209.2 83.1L209.8 82.7L210.4 82.1L211.0 82.1L211.6 81.8L212.2 80.8L212.8 80.7L213.4 79.8L214.0 80.8L214.6 81.4L215.2 81.0L215.8 78.7L216.4 78.8L217.0 79.0L217.6 77.8L218.2 78.5L218.8 76.0L219.4 77.0L220.0 75.3L220.6 77.3L221.2 77.0L221.8 78.9L222.4 79.3L223.0 79.3L223.6 78.3L224.2 80.5L224.8 80.6L225.4 81.8L226.0 81.4L226.6 81.5L227.2 81.8L227.8 82.6L228.4 84.2L229.0 83.9L229.5 85Z" fill="#9a3cf0" fill-opacity="1.0" stroke="none"/>
<path d="M269.5 23.5V85H332" stroke="#a4a4c8" stroke-width="1" fill="none"/>
<path d="M269.5 23.5H332V85" stroke="#d0d0e4" stroke-width="0.8" fill="none"/>
<path d="M265.5 85.0h3" stroke="#6a6aa8" stroke-width="0.9"/>
<path d="M263.0 84.0v2" stroke="#8080a8" stroke-width="0.8"/>
<path d="M265.5 64.5h3" stroke="#6a6aa8" stroke-width="0.9"/>
<path d="M263.0 63.5v2" stroke="#8080a8" stroke-width="0.8"/>
<path d="M265.5 44.0h3" stroke="#6a6aa8" stroke-width="0.9"/>
<path d="M263.0 43.0v2" stroke="#8080a8" stroke-width="0.8"/>
<path d="M265.5 23.5h3" stroke="#6a6aa8" stroke-width="0.9"/>
<path d="M263.0 22.5v2" stroke="#8080a8" stroke-width="0.8"/>
<path d="M274.2 85.3v-1.6M277.0 85.3v-1.6M278.9 85.3v-1.6M280.4 85.3v-1.6M281.7 85.3v-1.6M282.7 85.3v-1.6M283.6 85.3v-1.6M284.4 85.3v-1.6M289.8 85.3v-1.6M292.6 85.3v-1.6M294.5 85.3v-1.6M296.0 85.3v-1.6M297.3 85.3v-1.6M298.3 85.3v-1.6M299.2 85.3v-1.6M300.0 85.3v-1.6M305.5 85.3v-1.6M308.2 85.3v-1.6M310.2 85.3v-1.6M311.7 85.3v-1.6M312.9 85.3v-1.6M314.0 85.3v-1.6M314.9 85.3v-1.6M315.7 85.3v-1.6M321.1 85.3v-1.6M323.8 85.3v-1.6M325.8 85.3v-1.6M327.3 85.3v-1.6M328.5 85.3v-1.6M329.6 85.3v-1.6M330.5 85.3v-1.6M331.3 85.3v-1.6" stroke="#3a3a90" stroke-width="0.6" stroke-opacity="0.8" fill="none"/>
<path d="M268.5 90.8l1 -1.3h1.5" stroke="#5a5a98" stroke-width="0.85" fill="none"/>
<path d="M284.1 90.8l1 -1.3h1.5" stroke="#5a5a98" stroke-width="0.85" fill="none"/>
<path d="M299.8 90.8l1 -1.3h1.5" stroke="#5a5a98" stroke-width="0.85" fill="none"/>
<path d="M315.4 90.8l1 -1.3h1.5" stroke="#5a5a98" stroke-width="0.85" fill="none"/>
<path d="M331.0 90.8l1 -1.3h1.5" stroke="#5a5a98" stroke-width="0.85" fill="none"/>
<text x="285" y="20.3" font-size="7.2" fill="#222" stroke="#222" stroke-width="0.2">TOX2-KD</text>
<text x="272.5" y="32.3" font-size="6.2" fill="#8044d0" stroke="#8044d0" stroke-width="0.25">Early III</text>
<text x="272.5" y="39.3" font-size="6.2" fill="#8044d0" stroke="#8044d0" stroke-width="0.25">83%</text>
<text x="309.0" y="32.3" font-size="6.2" fill="#cc2a3a" stroke="#cc2a3a" stroke-width="0.25">Late III</text>
<text x="309.0" y="39.3" font-size="6.2" fill="#cc2a3a" stroke="#cc2a3a" stroke-width="0.25">17%</text>
<path d="M296.0 85L296.0 85.0L296.6 84.5L297.2 84.0L297.8 82.9L298.4 82.3L299.0 82.3L299.6 82.1L300.2 82.0L300.8 82.0L301.4 81.8L302.0 81.4L302.6 80.9L303.2 82.4L303.8 80.5L304.4 80.3L305.0 80.1L305.6 79.6L306.2 79.4L306.8 80.8L307.4 81.0L308.0 80.3L308.6 80.9L309.2 80.3L309.8 81.3L310.4 80.9L311.0 82.3L311.6 83.2L312.2 82.6L312.8 83.6L313.4 85.0L314.0 85Z" fill="#f01010" fill-opacity="1.0" stroke="none"/>
<path d="M270.0 85L270.0 84.9L270.6 84.9L271.2 85.0L271.8 85.0L272.4 84.5L273.0 85.0L273.6 84.6L274.2 84.4L274.8 84.1L275.4 84.1L276.0 84.6L276.6 83.9L277.2 84.9L277.8 84.4L278.4 83.9L279.0 83.9L279.6 84.5L280.2 84.7L280.8 84.0L281.4 83.9L282.0 83.9L282.6 83.5L283.2 83.3L283.8 82.7L284.4 81.6L285.0 81.4L285.6 79.7L286.2 77.0L286.8 76.0L287.4 74.9L288.0 66.5L288.6 65.0L289.2 64.0L289.8 60.6L290.4 60.3L291.0 59.4L291.6 56.1L292.2 60.8L292.8 56.7L293.4 54.9L294.0 59.4L294.6 60.8L295.2 59.4L295.8 66.1L296.4 68.5L297.0 75.6L297.6 78.8L298.2 80.2L298.8 83.0L299.4 84.3L300.0 83.6L300.6 84.6L301.2 84.3L301.8 84.9L302.0 85Z" fill="#9a3cf0" fill-opacity="1.0" stroke="none"/>
<path d="M198 109.5V171.5H261" stroke="#a4a4c8" stroke-width="1" fill="none"/>
<path d="M198 109.5H261V171.5" stroke="#d0d0e4" stroke-width="0.8" fill="none"/>
<path d="M194 171.5h3" stroke="#6a6aa8" stroke-width="0.9"/>
<path d="M191.5 170.5v2" stroke="#8080a8" stroke-width="0.8"/>
<path d="M194 150.8h3" stroke="#6a6aa8" stroke-width="0.9"/>
<path d="M191.5 149.8v2" stroke="#8080a8" stroke-width="0.8"/>
<path d="M194 130.2h3" stroke="#6a6aa8" stroke-width="0.9"/>
<path d="M191.5 129.2v2" stroke="#8080a8" stroke-width="0.8"/>
<path d="M194 109.5h3" stroke="#6a6aa8" stroke-width="0.9"/>
<path d="M191.5 108.5v2" stroke="#8080a8" stroke-width="0.8"/>
<path d="M202.7 171.8v-1.6M205.5 171.8v-1.6M207.5 171.8v-1.6M209.0 171.8v-1.6M210.3 171.8v-1.6M211.3 171.8v-1.6M212.2 171.8v-1.6M213.0 171.8v-1.6M218.5 171.8v-1.6M221.3 171.8v-1.6M223.2 171.8v-1.6M224.8 171.8v-1.6M226.0 171.8v-1.6M227.1 171.8v-1.6M228.0 171.8v-1.6M228.8 171.8v-1.6M234.2 171.8v-1.6M237.0 171.8v-1.6M239.0 171.8v-1.6M240.5 171.8v-1.6M241.8 171.8v-1.6M242.8 171.8v-1.6M243.7 171.8v-1.6M244.5 171.8v-1.6M250.0 171.8v-1.6M252.8 171.8v-1.6M254.7 171.8v-1.6M256.3 171.8v-1.6M257.5 171.8v-1.6M258.6 171.8v-1.6M259.5 171.8v-1.6M260.3 171.8v-1.6" stroke="#3a3a90" stroke-width="0.6" stroke-opacity="0.8" fill="none"/>
<path d="M197.0 177.3l1 -1.3h1.5" stroke="#5a5a98" stroke-width="0.85" fill="none"/>
<path d="M212.8 177.3l1 -1.3h1.5" stroke="#5a5a98" stroke-width="0.85" fill="none"/>
<path d="M228.5 177.3l1 -1.3h1.5" stroke="#5a5a98" stroke-width="0.85" fill="none"/>
<path d="M244.2 177.3l1 -1.3h1.5" stroke="#5a5a98" stroke-width="0.85" fill="none"/>
<path d="M260.0 177.3l1 -1.3h1.5" stroke="#5a5a98" stroke-width="0.85" fill="none"/>
<text x="219.5" y="108" font-size="7.2" fill="#222" stroke="#222" stroke-width="0.2">ETS1</text>
<text x="201" y="118.3" font-size="6.2" fill="#8044d0" stroke="#8044d0" stroke-width="0.25">Early III</text>
<text x="201" y="125.3" font-size="6.2" fill="#8044d0" stroke="#8044d0" stroke-width="0.25">60%</text>
<text x="237.5" y="118.3" font-size="6.2" fill="#cc2a3a" stroke="#cc2a3a" stroke-width="0.25">Late III</text>
<text x="237.5" y="125.3" font-size="6.2" fill="#cc2a3a" stroke="#cc2a3a" stroke-width="0.25">40%</text>
<path d="M224.0 171.5L224.0 171.3L224.6 167.3L225.2 162.7L225.8 161.5L226.4 157.0L227.0 151.3L227.6 152.7L228.2 154.2L228.8 145.8L229.4 150.5L230.0 144.1L230.6 143.1L231.2 136.1L231.8 138.9L232.4 139.6L233.0 136.5L233.6 143.8L234.2 140.5L234.8 148.6L235.4 145.3L236.0 141.7L236.6 145.0L237.2 148.2L237.8 156.1L238.4 156.9L239.0 159.7L239.6 162.4L240.2 162.7L240.8 165.5L241.4 167.1L242.0 169.9L242.6 170.1L243.2 170.7L243.8 171.0L244.0 171.5Z" fill="#f01010" fill-opacity="1.0" stroke="none"/>
<path d="M198.0 171.5L198.0 171.5L198.6 170.7L199.2 170.8L199.8 170.5L200.4 170.5L201.0 169.3L201.6 168.9L202.2 169.4L202.8 168.8L203.4 169.5L204.0 169.0L204.6 167.0L205.2 166.8L205.8 166.2L206.4 167.2L207.0 165.5L207.6 164.7L208.2 165.6L208.8 162.3L209.4 160.9L210.0 161.8L210.6 160.0L211.2 158.3L211.8 155.7L212.4 154.5L213.0 152.8L213.6 148.9L214.2 151.8L214.8 149.6L215.4 145.9L216.0 138.0L216.6 130.3L217.2 136.9L217.8 125.5L218.4 117.8L219.0 133.6L219.6 118.1L220.2 119.3L220.8 126.5L221.4 139.1L222.0 135.2L222.6 145.7L223.2 147.4L223.8 152.4L224.4 154.3L225.0 160.1L225.6 163.9L226.2 167.8L226.8 170.7L227.0 171.5Z" fill="#9a3cf0" fill-opacity="1.0" stroke="none"/>
<path d="M269.5 109.5V170.4H332" stroke="#a4a4c8" stroke-width="1" fill="none"/>
<path d="M269.5 109.5H332V170.4" stroke="#d0d0e4" stroke-width="0.8" fill="none"/>
<path d="M265.5 170.4h3" stroke="#6a6aa8" stroke-width="0.9"/>
<path d="M263.0 169.4v2" stroke="#8080a8" stroke-width="0.8"/>
<path d="M265.5 150.1h3" stroke="#6a6aa8" stroke-width="0.9"/>
<path d="M263.0 149.1v2" stroke="#8080a8" stroke-width="0.8"/>
<path d="M265.5 129.8h3" stroke="#6a6aa8" stroke-width="0.9"/>
<path d="M263.0 128.8v2" stroke="#8080a8" stroke-width="0.8"/>
<path d="M265.5 109.5h3" stroke="#6a6aa8" stroke-width="0.9"/>
<path d="M263.0 108.5v2" stroke="#8080a8" stroke-width="0.8"/>
<path d="M274.2 170.7v-1.6M277.0 170.7v-1.6M278.9 170.7v-1.6M280.4 170.7v-1.6M281.7 170.7v-1.6M282.7 170.7v-1.6M283.6 170.7v-1.6M284.4 170.7v-1.6M289.8 170.7v-1.6M292.6 170.7v-1.6M294.5 170.7v-1.6M296.0 170.7v-1.6M297.3 170.7v-1.6M298.3 170.7v-1.6M299.2 170.7v-1.6M300.0 170.7v-1.6M305.5 170.7v-1.6M308.2 170.7v-1.6M310.2 170.7v-1.6M311.7 170.7v-1.6M312.9 170.7v-1.6M314.0 170.7v-1.6M314.9 170.7v-1.6M315.7 170.7v-1.6M321.1 170.7v-1.6M323.8 170.7v-1.6M325.8 170.7v-1.6M327.3 170.7v-1.6M328.5 170.7v-1.6M329.6 170.7v-1.6M330.5 170.7v-1.6M331.3 170.7v-1.6" stroke="#3a3a90" stroke-width="0.6" stroke-opacity="0.8" fill="none"/>
<path d="M268.5 176.2l1 -1.3h1.5" stroke="#5a5a98" stroke-width="0.85" fill="none"/>
<path d="M284.1 176.2l1 -1.3h1.5" stroke="#5a5a98" stroke-width="0.85" fill="none"/>
<path d="M299.8 176.2l1 -1.3h1.5" stroke="#5a5a98" stroke-width="0.85" fill="none"/>
<path d="M315.4 176.2l1 -1.3h1.5" stroke="#5a5a98" stroke-width="0.85" fill="none"/>
<path d="M331.0 176.2l1 -1.3h1.5" stroke="#5a5a98" stroke-width="0.85" fill="none"/>
<text x="273.4" y="106.8" font-size="7.2" fill="#222" stroke="#222" stroke-width="0.2">TOX2-KD+ETS1</text>
<text x="272.5" y="118.3" font-size="6.2" fill="#8044d0" stroke="#8044d0" stroke-width="0.25">Early III</text>
<text x="272.5" y="125.3" font-size="6.2" fill="#8044d0" stroke="#8044d0" stroke-width="0.25">96%</text>
<text x="309.0" y="118.3" font-size="6.2" fill="#cc2a3a" stroke="#cc2a3a" stroke-width="0.25">Late III</text>
<text x="309.0" y="125.3" font-size="6.2" fill="#cc2a3a" stroke="#cc2a3a" stroke-width="0.25">4%</text>
<path d="M298.0 170.4L298.0 170.4L298.6 170.4L299.2 170.3L299.8 169.6L300.4 169.5L301.0 169.7L301.6 169.0L302.2 170.0L302.8 169.9L303.4 169.5L304.0 169.3L304.6 169.8L305.2 168.7L305.8 168.8L306.4 169.3L307.0 168.7L307.6 169.8L308.2 169.2L308.8 170.0L309.4 170.2L310.0 170.4L310.6 170.3L311.2 170.4L311.8 170.2L312.0 170.4Z" fill="#f01010" fill-opacity="1.0" stroke="none"/>
<path d="M272.0 170.4L272.0 170.2L272.6 170.2L273.2 170.3L273.8 170.0L274.4 170.3L275.0 170.4L275.6 169.9L276.2 170.4L276.8 169.4L277.4 169.9L278.0 170.1L278.6 168.8L279.2 168.4L279.8 168.4L280.4 167.2L281.0 165.9L281.6 164.4L282.2 165.2L282.8 164.4L283.4 163.0L284.0 163.2L284.6 157.0L285.2 157.1L285.8 157.6L286.4 152.8L287.0 146.4L287.6 150.0L288.2 139.3L288.8 143.1L289.4 132.3L290.0 133.3L290.6 133.2L291.2 138.9L291.8 133.0L292.4 127.3L293.0 139.0L293.6 133.0L294.2 135.5L294.8 146.8L295.4 145.9L296.0 150.4L296.6 154.0L297.2 157.9L297.8 163.4L298.4 166.1L299.0 167.1L299.6 168.7L300.2 170.0L300.8 170.0L301.4 169.8L302.0 170.0L302.6 169.9L303.2 170.4L303.8 170.4L304.4 169.9L305.0 170.4Z" fill="#9a3cf0" fill-opacity="1.0" stroke="none"/>
<path d="M183.3 170.3V186H199.2" stroke="#111" stroke-width="1" fill="none"/>
<path d="M181.10000000000002 171.3L183.3 167.3L185.5 171.3Z" fill="#111"/>
<path d="M198.2 183.8L202.2 186L198.2 188.2Z" fill="#111"/>
<text x="186.5" y="164.3" font-size="7.1" fill="#222" stroke="#222" stroke-width="0.2" transform="rotate(-90 186.5 164.3)">Count</text>
<text x="210.3" y="191.2" font-size="7.1" fill="#222" stroke="#222" stroke-width="0.2">CD56</text>
<line x1="383.7" y1="54.099999999999994" x2="383.7" y2="116.6" stroke="#111" stroke-width="1"/>
<line x1="380.7" y1="116.6" x2="383.7" y2="116.6" stroke="#111" stroke-width="1"/>
<text x="378.9" y="119.1" font-size="7.4" fill="#222" stroke="#222" stroke-width="0.2" text-anchor="end">0</text>
<line x1="380.7" y1="100.975" x2="383.7" y2="100.975" stroke="#111" stroke-width="1"/>
<text x="378.9" y="103.475" font-size="7.4" fill="#222" stroke="#222" stroke-width="0.2" text-anchor="end">0.5</text>
<line x1="380.7" y1="85.35" x2="383.7" y2="85.35" stroke="#111" stroke-width="1"/>
<text x="378.9" y="87.85" font-size="7.4" fill="#222" stroke="#222" stroke-width="0.2" text-anchor="end">1.0</text>
<line x1="380.7" y1="69.725" x2="383.7" y2="69.725" stroke="#111" stroke-width="1"/>
<text x="378.9" y="72.225" font-size="7.4" fill="#222" stroke="#222" stroke-width="0.2" text-anchor="end">1.5</text>
<line x1="380.7" y1="54.099999999999994" x2="383.7" y2="54.099999999999994" stroke="#111" stroke-width="1"/>
<text x="378.9" y="56.599999999999994" font-size="7.4" fill="#222" stroke="#222" stroke-width="0.2" text-anchor="end">2.0</text>
<line x1="383.7" y1="116.6" x2="518.5" y2="116.6" stroke="#111" stroke-width="1"/>
<line x1="417.5" y1="116.6" x2="417.5" y2="119.6" stroke="#111" stroke-width="1"/>
<line x1="451.3" y1="116.6" x2="451.3" y2="119.6" stroke="#111" stroke-width="1"/>
<line x1="485.2" y1="116.6" x2="485.2" y2="119.6" stroke="#111" stroke-width="1"/>
<line x1="518.5" y1="116.6" x2="518.5" y2="119.6" stroke="#111" stroke-width="1"/>
<rect x="393.7" y="85.3" width="14.800000000000011" height="31.2" fill="#080808"/>
<rect x="427.3" y="108.2" width="15.0" height="8.4" fill="#080808"/>
<line x1="434.8" y1="105.6625" x2="434.8" y2="108.1625" stroke="#111" stroke-width="1"/>
<line x1="431.8" y1="105.6625" x2="437.8" y2="105.6625" stroke="#111" stroke-width="1"/>
<text x="434.8" y="104.76249999999999" font-size="9" fill="#111" stroke="#111" stroke-width="0.2" text-anchor="middle">*</text>
<rect x="461.2" y="81.6" width="14.5" height="35.0" fill="#080808"/>
<line x1="468.45" y1="65.6625" x2="468.45" y2="81.6" stroke="#111" stroke-width="1"/>
<line x1="465.45" y1="65.6625" x2="471.45" y2="65.6625" stroke="#111" stroke-width="1"/>
<rect x="494.8" y="106.6" width="14.5" height="10.0" fill="#080808"/>
<line x1="502.05" y1="99.1" x2="502.05" y2="106.6" stroke="#111" stroke-width="1"/>
<line x1="499.05" y1="99.1" x2="505.05" y2="99.1" stroke="#111" stroke-width="1"/>
<text x="502.05" y="98.19999999999999" font-size="9" fill="#111" stroke="#111" stroke-width="0.2" text-anchor="middle">*</text>
<text x="405.7" y="125.2" font-size="7" fill="#222" stroke="#222" stroke-width="0.2" text-anchor="end" transform="rotate(-45 405.7 125.2)">Control</text>
<text x="439.7" y="125.2" font-size="7" fill="#222" stroke="#222" stroke-width="0.2" text-anchor="end" transform="rotate(-45 439.7 125.2)">TOX2-KD</text>
<text x="474.7" y="123.7" font-size="7" fill="#222" stroke="#222" stroke-width="0.2" text-anchor="end" transform="rotate(-45 474.7 123.7)">ETS1</text>
<text x="508.9" y="123.5" font-size="7" fill="#222" stroke="#222" stroke-width="0.2" text-anchor="end" transform="rotate(-45 508.9 123.5)">TOX2-KD+ETS1</text>
<text x="366.6" y="141.8" font-size="7.2" fill="#222" stroke="#222" stroke-width="0.2" transform="rotate(-90 366.6 141.8)">Relative amount of CD56<tspan font-size="4.5" dy="-2.5">+</tspan><tspan dy="2.5"> cells</tspan></text>
<text x="388.2" y="55" font-size="7.4" fill="#222" stroke="#222" stroke-width="0.2">GFP+ve cells</text>
<line x1="209" y1="242.7" x2="209" y2="303" stroke="#111" stroke-width="1"/>
<line x1="206" y1="303.0" x2="209" y2="303.0" stroke="#111" stroke-width="1"/>
<text x="202.89999999999998" y="306.5" font-size="8" fill="#222" stroke="#222" stroke-width="0.2" text-anchor="end">0</text>
<line x1="206" y1="292.95" x2="209" y2="292.95" stroke="#111" stroke-width="1"/>
<text x="202.89999999999998" y="296.45" font-size="8" fill="#222" stroke="#222" stroke-width="0.2" text-anchor="end">1</text>
<line x1="206" y1="282.9" x2="209" y2="282.9" stroke="#111" stroke-width="1"/>
<text x="202.89999999999998" y="286.4" font-size="8" fill="#222" stroke="#222" stroke-width="0.2" text-anchor="end">2</text>
<line x1="206" y1="272.85" x2="209" y2="272.85" stroke="#111" stroke-width="1"/>
<text x="202.89999999999998" y="276.35" font-size="8" fill="#222" stroke="#222" stroke-width="0.2" text-anchor="end">3</text>
<line x1="206" y1="262.8" x2="209" y2="262.8" stroke="#111" stroke-width="1"/>
<text x="202.89999999999998" y="266.3" font-size="8" fill="#222" stroke="#222" stroke-width="0.2" text-anchor="end">4</text>
<line x1="206" y1="252.75" x2="209" y2="252.75" stroke="#111" stroke-width="1"/>
<text x="202.89999999999998" y="256.25" font-size="8" fill="#222" stroke="#222" stroke-width="0.2" text-anchor="end">5</text>
<line x1="206" y1="242.7" x2="209" y2="242.7" stroke="#111" stroke-width="1"/>
<text x="202.89999999999998" y="246.2" font-size="8" fill="#222" stroke="#222" stroke-width="0.2" text-anchor="end">6</text>
<line x1="209" y1="303" x2="348.6" y2="303" stroke="#111" stroke-width="1"/>
<line x1="243.5" y1="303" x2="243.5" y2="306" stroke="#111" stroke-width="1"/>
<line x1="278" y1="303" x2="278" y2="306" stroke="#111" stroke-width="1"/>
<line x1="313" y1="303" x2="313" y2="306" stroke="#111" stroke-width="1"/>
<line x1="348.6" y1="303" x2="348.6" y2="306" stroke="#111" stroke-width="1"/>
<rect x="218.7" y="292.9" width="15.600000000000023" height="10.1" fill="#080808"/>
<rect x="253.5" y="299.2" width="15.300000000000011" height="3.8" fill="#080808"/>
<line x1="261.15" y1="297.171" x2="261.15" y2="299.181" stroke="#111" stroke-width="1"/>
<line x1="258.15" y1="297.171" x2="264.15" y2="297.171" stroke="#111" stroke-width="1"/>
<text x="261.15" y="296.271" font-size="9" fill="#111" stroke="#111" stroke-width="0.2" text-anchor="middle" letter-spacing="0.2">**</text>
<rect x="288.6" y="269.1" width="14.399999999999977" height="33.9" fill="#080808"/>
<line x1="295.8" y1="253.353" x2="295.8" y2="269.1315" stroke="#111" stroke-width="1"/>
<line x1="292.8" y1="253.353" x2="298.8" y2="253.353" stroke="#111" stroke-width="1"/>
<text x="295.8" y="252.453" font-size="9" fill="#111" stroke="#111" stroke-width="0.2" text-anchor="middle">*</text>
<rect x="322.5" y="273.9" width="15.0" height="29.1" fill="#080808"/>
<line x1="330.0" y1="261.795" x2="330.0" y2="273.855" stroke="#111" stroke-width="1"/>
<line x1="327.0" y1="261.795" x2="333.0" y2="261.795" stroke="#111" stroke-width="1"/>
<text x="330.0" y="260.89500000000004" font-size="9" fill="#111" stroke="#111" stroke-width="0.2" text-anchor="middle">*</text>
<text x="230.6" y="314" font-size="7" fill="#222" stroke="#222" stroke-width="0.2" text-anchor="end" transform="rotate(-45 230.6 314)">Control</text>
<text x="265.5" y="313.8" font-size="7" fill="#222" stroke="#222" stroke-width="0.2" text-anchor="end" transform="rotate(-45 265.5 313.8)">TOX2-KD</text>
<text x="300" y="314" font-size="7" fill="#222" stroke="#222" stroke-width="0.2" text-anchor="end" transform="rotate(-45 300 314)">T-BET</text>
<text x="335" y="314" font-size="7" fill="#222" stroke="#222" stroke-width="0.2" text-anchor="end" transform="rotate(-45 335 314)">TOX2-KD+T-BET</text>
<text x="193" y="327.8" font-size="7.2" fill="#222" stroke="#222" stroke-width="0.2" transform="rotate(-90 193 327.8)">Relative amount of CD56<tspan font-size="4.5" dy="-2.5">+</tspan><tspan dy="2.5"> cells</tspan></text>
<text x="213" y="244.7" font-size="7.2" fill="#222" stroke="#222" stroke-width="0.2">GFP+ve cells</text>
<path d="M23 211H85V273.3" stroke="#80809e" stroke-width="0.9" fill="none"/>
<path d="M23 211V273.3H85" stroke="#8c8cc0" stroke-width="1.2" fill="none"/>
<path d="M22.7 270.2h2M26.1 273.6v-2M22.7 268.3h2M28.0 273.6v-2M22.7 267.0h2M29.3 273.6v-2M22.7 266.0h2M30.3 273.6v-2M22.7 265.2h2M31.1 273.6v-2M22.7 264.5h2M31.8 273.6v-2M22.7 263.9h2M32.4 273.6v-2M22.7 263.4h2M32.9 273.6v-2M22.7 259.8h2M36.5 273.6v-2M22.7 258.0h2M38.3 273.6v-2M22.7 256.7h2M39.6 273.6v-2M22.7 255.7h2M40.6 273.6v-2M22.7 254.8h2M41.5 273.6v-2M22.7 254.1h2M42.2 273.6v-2M22.7 253.5h2M42.8 273.6v-2M22.7 253.0h2M43.3 273.6v-2M22.7 249.4h2M46.9 273.6v-2M22.7 247.6h2M48.7 273.6v-2M22.7 246.3h2M50.0 273.6v-2M22.7 245.3h2M51.0 273.6v-2M22.7 244.5h2M51.8 273.6v-2M22.7 243.8h2M52.5 273.6v-2M22.7 243.2h2M53.1 273.6v-2M22.7 242.6h2M53.7 273.6v-2M22.7 239.0h2M57.3 273.6v-2M22.7 237.2h2M59.1 273.6v-2M22.7 235.9h2M60.4 273.6v-2M22.7 234.9h2M61.4 273.6v-2M22.7 234.1h2M62.2 273.6v-2M22.7 233.4h2M62.9 273.6v-2M22.7 232.8h2M63.5 273.6v-2M22.7 232.2h2M64.1 273.6v-2M22.7 228.6h2M67.7 273.6v-2M22.7 226.8h2M69.5 273.6v-2M22.7 225.5h2M70.8 273.6v-2M22.7 224.5h2M71.8 273.6v-2M22.7 223.7h2M72.6 273.6v-2M22.7 223.0h2M73.3 273.6v-2M22.7 222.4h2M73.9 273.6v-2M22.7 221.9h2M74.4 273.6v-2M22.7 218.3h2M78.0 273.6v-2M22.7 216.4h2M79.9 273.6v-2M22.7 215.1h2M81.2 273.6v-2M22.7 214.1h2M82.2 273.6v-2M22.7 213.3h2M83.0 273.6v-2M22.7 212.6h2M83.7 273.6v-2M22.7 212.0h2M84.3 273.6v-2M22.7 211.5h2M84.8 273.6v-2" stroke="#2a2a88" stroke-width="0.6" stroke-opacity="0.85" fill="none"/>
<path d="M17.0 270.7l1 0.8v1.8h1.8M21.6 278.1h1.6v-1.6l0.8 -0.8M17.0 260.3l1 0.8v1.8h1.8M32.0 278.1h1.6v-1.6l0.8 -0.8M17.0 249.9l1 0.8v1.8h1.8M42.4 278.1h1.6v-1.6l0.8 -0.8M17.0 239.6l1 0.8v1.8h1.8M52.8 278.1h1.6v-1.6l0.8 -0.8M17.0 229.2l1 0.8v1.8h1.8M63.1 278.1h1.6v-1.6l0.8 -0.8M17.0 218.8l1 0.8v1.8h1.8M73.5 278.1h1.6v-1.6l0.8 -0.8M17.0 208.4l1 0.8v1.8h1.8M83.9 278.1h1.6v-1.6l0.8 -0.8" stroke="#44447e" stroke-width="0.85" fill="none"/>
<text x="39.6" y="208.2" font-size="7.2" fill="#222" stroke="#222" stroke-width="0.22">Control</text>
<g filter="url(#b5)">
<path d="M33.0 254.2h1.0M42.0 257.6h1.0M60.2 264.5h1.0M63.7 270.5h1.0M42.7 271.5h1.0M56.2 240.2h1.0M40.1 251.0h1.0M59.3 232.4h1.0M61.0 257.5h1.0M49.9 245.9h1.0M42.1 245.9h1.0M54.5 247.5h1.0M54.4 266.6h1.0M31.2 228.8h1.0M62.8 236.5h1.0M58.1 245.8h1.0M36.3 228.5h1.0M43.9 254.4h1.0M30.0 228.5h1.0M38.6 266.8h1.0M55.8 239.3h1.0M42.9 246.3h1.0M54.2 240.5h1.0M41.1 250.2h1.0M36.8 246.9h1.0M55.7 250.2h1.0M30.1 243.4h1.0M49.1 238.2h1.0M42.3 252.6h1.0M41.5 236.0h1.0M60.4 230.9h1.0M61.5 232.2h1.0M48.5 252.0h1.0M43.2 255.5h1.0M60.7 242.0h1.0M30.2 236.8h1.0M60.5 254.3h1.0M55.9 245.1h1.0M40.0 258.4h1.0M49.0 268.2h1.0M33.9 243.1h1.0M53.6 267.9h1.0M45.3 262.7h1.0M32.1 256.1h1.0M40.2 258.5h1.0M39.0 236.2h1.0M38.0 259.8h1.0M54.4 268.2h1.0M43.3 230.9h1.0M57.9 239.3h1.0M54.6 249.5h1.0M44.4 229.4h1.0M36.4 260.9h1.0M45.0 266.8h1.0M57.9 251.5h1.0M64.4 228.1h1.0M42.8 251.5h1.0M30.0 266.3h1.0M33.5 253.5h1.0M38.0 244.8h1.0M45.2 240.7h1.0M34.3 257.4h1.0M51.2 231.6h1.0M64.0 232.7h1.0M36.3 240.4h1.0M41.5 249.6h1.0M61.4 232.5h1.0M49.2 255.5h1.0M37.5 243.6h1.0M44.5 267.0h1.0M56.7 249.1h1.0M30.6 243.7h1.0M58.2 247.1h1.0M42.5 256.1h1.0M29.5 256.5h1.0M53.4 233.0h1.0M43.4 265.7h1.0M37.7 251.3h1.0M40.8 252.3h1.0M42.5 243.1h1.0M62.2 258.5h1.0M65.0 242.7h1.0M45.3 244.1h1.0M60.1 244.2h1.0M53.2 235.8h1.0M48.1 239.9h1.0M61.8 244.1h1.0M63.3 252.9h1.0M40.6 252.2h1.0M62.4 258.5h1.0M58.5 252.9h1.0M50.9 234.2h1.0M58.8 256.2h1.0M52.0 241.4h1.0M56.2 251.2h1.0M39.9 271.6h1.0M56.6 257.9h1.0M59.1 258.6h1.0M42.2 270.0h1.0M61.5 257.5h1.0M44.1 250.0h1.0M29.7 267.1h1.0M58.7 254.2h1.0M45.2 263.4h1.0M28.8 245.6h1.0M37.3 254.8h1.0M41.1 254.7h1.0M61.2 246.1h1.0M32.3 228.6h1.0M58.9 248.6h1.0M44.3 229.3h1.0M31.8 228.0h1.0M61.1 230.1h1.0M39.9 248.8h1.0M49.2 237.8h1.0M51.9 256.1h1.0M64.4 232.1h1.0M38.9 232.5h1.0M38.7 237.4h1.0M29.1 263.5h1.0" stroke="#666" stroke-width="1.0" stroke-opacity="0.4" fill="none"/>
<path d="M42.4 268.4h1.0M48.2 245.5h1.0M51.9 258.5h1.0M49.0 249.0h1.0M39.0 252.5h1.0M47.3 249.2h1.0M39.8 263.6h1.0M40.2 257.8h1.0M38.7 245.3h1.0M43.5 256.2h1.0M35.5 263.7h1.0M48.8 263.1h1.0M41.0 249.1h1.0M43.5 258.1h1.0M43.0 253.0h1.0M38.1 251.9h1.0M43.5 253.6h1.0M53.8 255.1h1.0M46.7 253.8h1.0M42.9 250.3h1.0M41.1 246.7h1.0M31.8 266.2h1.0M37.8 260.0h1.0M43.3 253.1h1.0M48.3 253.2h1.0M46.6 254.5h1.0M49.7 263.6h1.0M44.4 264.5h1.0M47.0 267.7h1.0M43.3 246.4h1.0M45.2 258.6h1.0M41.9 255.6h1.0M42.4 248.4h1.0M54.1 251.7h1.0M37.7 246.1h1.0M39.0 256.7h1.0M52.7 261.1h1.0M39.7 248.5h1.0M37.4 256.4h1.0M49.1 253.7h1.0M53.4 270.3h1.0M44.9 242.1h1.0M50.4 256.3h1.0M47.9 263.8h1.0M38.1 257.4h1.0M45.0 251.8h1.0M48.1 256.1h1.0M41.6 269.9h1.0M45.0 268.2h1.0M43.1 264.1h1.0M39.6 258.0h1.0M50.3 242.1h1.0M47.1 255.1h1.0M50.4 258.2h1.0M43.5 248.2h1.0M61.2 251.9h1.0M42.1 252.0h1.0M42.2 258.5h1.0M36.1 264.2h1.0M42.4 261.1h1.0M31.6 253.4h1.0M42.2 254.3h1.0M40.1 259.1h1.0M46.4 250.3h1.0M32.5 262.0h1.0M42.1 264.3h1.0M49.1 256.3h1.0M35.6 254.5h1.0M39.7 265.5h1.0M34.0 263.3h1.0M34.9 253.1h1.0M35.7 252.2h1.0M41.4 259.5h1.0M40.5 261.7h1.0M54.2 258.1h1.0M37.2 255.8h1.0M43.4 254.5h1.0M50.7 264.9h1.0M55.7 260.6h1.0M28.4 256.1h1.0M47.9 251.5h1.0M40.4 263.2h1.0M44.8 249.3h1.0M40.6 235.8h1.0M43.9 248.6h1.0M43.7 248.8h1.0M38.5 253.4h1.0M60.3 248.8h1.0M37.0 253.3h1.0M50.2 262.5h1.0M48.0 254.8h1.0M44.7 251.7h1.0M42.9 251.4h1.0M35.4 250.2h1.0M55.3 259.7h1.0M39.6 256.2h1.0M41.3 265.3h1.0M43.8 252.6h1.0M47.9 259.2h1.0M40.0 251.7h1.0M44.8 245.8h1.0M38.6 263.9h1.0M49.0 264.6h1.0M41.3 252.9h1.0M42.4 253.7h1.0M51.4 255.4h1.0M51.9 252.1h1.0M46.1 268.1h1.0M39.6 252.5h1.0M40.4 245.9h1.0M42.2 252.6h1.0M56.8 253.7h1.0M31.4 263.4h1.0M49.5 256.7h1.0M45.6 261.9h1.0M40.7 257.3h1.0M44.8 268.3h1.0M52.2 258.1h1.0M36.1 263.0h1.0M43.6 265.0h1.0M44.2 258.2h1.0M47.8 252.0h1.0M40.1 272.7h1.0M38.9 263.4h1.0M47.9 262.6h1.0M51.9 247.8h1.0M49.5 242.9h1.0M44.2 259.3h1.0M49.9 264.4h1.0M38.5 255.1h1.0M43.0 252.2h1.0M39.1 252.4h1.0M50.6 266.3h1.0M48.3 268.5h1.0M44.5 249.5h1.0M40.1 258.4h1.0M49.9 265.3h1.0M38.7 263.5h1.0M40.8 261.1h1.0M49.3 267.1h1.0M40.8 258.6h1.0M46.4 254.1h1.0M44.5 261.1h1.0M34.3 252.6h1.0M57.4 260.1h1.0M40.7 244.4h1.0M38.3 260.5h1.0M47.9 260.0h1.0M47.4 252.8h1.0M53.2 249.3h1.0M46.9 255.2h1.0M33.9 263.2h1.0M42.3 261.9h1.0M51.3 258.1h1.0M40.1 255.5h1.0M43.5 266.9h1.0M48.9 267.9h1.0M48.4 251.7h1.0M49.3 263.6h1.0M43.2 260.2h1.0M42.1 248.3h1.0M43.4 262.2h1.0M41.8 241.6h1.0M39.3 264.5h1.0M45.2 264.7h1.0M39.5 254.1h1.0M38.1 251.6h1.0M46.9 257.9h1.0M41.1 259.0h1.0M36.3 254.3h1.0M35.2 246.7h1.0M36.0 249.4h1.0M53.1 266.4h1.0M51.3 253.0h1.0M47.6 249.2h1.0M40.7 258.7h1.0M34.6 258.3h1.0M47.5 242.7h1.0M29.6 255.1h1.0M43.2 258.0h1.0M37.3 260.9h1.0M44.6 251.9h1.0M53.5 258.8h1.0M48.2 269.8h1.0M41.0 255.5h1.0M33.8 255.4h1.0M47.2 258.4h1.0M36.5 251.1h1.0M33.1 247.5h1.0M44.6 259.0h1.0M38.6 255.5h1.0M39.2 261.3h1.0M47.6 253.1h1.0M41.2 248.5h1.0M41.2 272.1h1.0M43.8 262.9h1.0M47.3 267.2h1.0M42.0 250.7h1.0M50.0 263.3h1.0M40.0 264.6h1.0M43.8 256.7h1.0M54.6 260.7h1.0M45.7 254.8h1.0M45.1 264.3h1.0M46.6 251.8h1.0M46.5 256.2h1.0M45.7 255.7h1.0M31.1 245.8h1.0M41.7 241.7h1.0M35.1 271.0h1.0M48.0 253.8h1.0M45.8 241.5h1.0M45.4 263.8h1.0M45.0 247.9h1.0M49.6 253.3h1.0M40.6 258.4h1.0M42.1 271.1h1.0M43.1 271.9h1.0M46.5 248.4h1.0M43.9 257.4h1.0M52.3 265.9h1.0M58.9 252.4h1.0M38.7 259.5h1.0M53.3 250.0h1.0M41.9 251.8h1.0M47.0 259.8h1.0M43.7 261.6h1.0M39.3 254.4h1.0M46.6 271.0h1.0M43.7 257.4h1.0M51.6 257.5h1.0M51.5 258.7h1.0M50.7 258.3h1.0M38.5 251.1h1.0M46.4 270.1h1.0M54.8 254.8h1.0M58.6 249.3h1.0M38.9 263.5h1.0M35.0 263.3h1.0M46.1 261.4h1.0M36.8 259.7h1.0M49.4 256.6h1.0M49.9 257.2h1.0M45.9 254.8h1.0M35.9 255.9h1.0M46.8 251.7h1.0M32.4 246.2h1.0M51.6 255.4h1.0M39.4 265.6h1.0M42.9 246.5h1.0M41.3 250.9h1.0M42.8 250.6h1.0M44.3 260.2h1.0M40.5 255.6h1.0M43.0 262.8h1.0M39.7 262.2h1.0M51.2 255.6h1.0M38.2 254.8h1.0M33.5 253.2h1.0M36.9 255.8h1.0M41.7 260.6h1.0M44.6 259.9h1.0M43.6 259.0h1.0M37.2 261.6h1.0M51.6 264.8h1.0M36.0 259.9h1.0M34.3 262.3h1.0M42.7 253.8h1.0M39.5 255.3h1.0M43.9 250.3h1.0M44.3 258.8h1.0M47.0 256.7h1.0M49.9 259.3h1.0M35.7 261.3h1.0M47.3 238.4h1.0M42.9 259.7h1.0M44.1 257.7h1.0M43.0 266.7h1.0M46.2 255.0h1.0M42.6 271.6h1.0M38.8 253.3h1.0M45.8 258.0h1.0M45.7 266.5h1.0M50.6 259.9h1.0M44.2 256.6h1.0M42.6 264.0h1.0M36.5 249.7h1.0M41.2 250.3h1.0M39.6 265.4h1.0M30.6 261.0h1.0M36.2 255.3h1.0M40.5 250.1h1.0M35.2 257.5h1.0M26.4 242.2h1.0M41.6 264.7h1.0M54.9 255.0h1.0M39.2 255.0h1.0M46.7 263.5h1.0M38.3 260.3h1.0M43.7 265.0h1.0M41.5 255.5h1.0M38.9 247.7h1.0M45.5 262.0h1.0M50.6 258.9h1.0M41.2 250.6h1.0M37.1 251.9h1.0M45.9 257.6h1.0M30.4 256.3h1.0M42.2 249.7h1.0M43.8 260.7h1.0M37.8 247.5h1.0M42.0 258.8h1.0M42.4 267.8h1.0M44.8 250.0h1.0M48.5 252.5h1.0M48.0 257.7h1.0M51.2 250.0h1.0M48.2 260.0h1.0M38.6 261.9h1.0M57.4 259.5h1.0" stroke="#111" stroke-width="1.0" stroke-opacity="0.38" fill="none"/>
<ellipse cx="45.5" cy="253" rx="5.8" ry="4.5" fill="#111" fill-opacity="1" filter="url(#b10)" transform="rotate(0 45.5 253)"/>
<path d="M42.8 252.5h1.0M50.0 253.8h1.0M50.6 251.0h1.0M50.0 248.3h1.0M44.9 252.1h1.0M43.8 256.7h1.0M43.4 254.1h1.0M51.9 255.5h1.0M44.0 250.8h1.0M38.5 254.1h1.0M48.5 256.3h1.0M46.3 259.5h1.0M48.2 246.1h1.0M42.4 255.4h1.0M44.1 255.5h1.0M54.4 250.7h1.0M53.1 252.8h1.0M40.4 253.3h1.0M48.6 251.3h1.0M51.0 250.4h1.0M44.8 255.8h1.0M44.7 251.3h1.0M45.4 255.0h1.0M51.5 257.1h1.0M52.0 252.9h1.0M39.7 252.9h1.0M44.0 250.0h1.0M43.7 252.8h1.0M45.7 255.8h1.0M42.3 256.4h1.0M45.6 255.2h1.0M49.8 249.3h1.0M51.0 250.8h1.0M46.9 256.3h1.0M48.7 248.3h1.0M46.0 256.4h1.0M45.1 252.8h1.0M45.7 257.9h1.0M43.6 250.2h1.0M41.6 251.4h1.0M44.7 254.0h1.0M45.2 247.8h1.0M40.0 255.0h1.0M48.0 248.9h1.0M48.8 245.7h1.0M53.6 254.8h1.0M39.7 254.5h1.0M45.4 251.6h1.0M44.2 252.3h1.0M45.1 250.3h1.0M43.5 254.7h1.0M47.3 249.0h1.0M43.8 257.7h1.0M48.0 258.0h1.0M40.8 249.9h1.0M37.9 247.2h1.0M44.2 249.8h1.0M41.7 250.9h1.0M44.8 255.5h1.0M47.5 247.7h1.0M50.7 252.0h1.0M42.0 252.9h1.0M44.1 248.8h1.0M50.9 251.3h1.0M43.4 254.6h1.0M51.4 254.5h1.0M42.3 254.3h1.0M49.4 254.1h1.0M47.8 251.6h1.0M45.3 247.9h1.0M43.0 249.6h1.0M45.5 257.5h1.0M37.6 249.0h1.0M42.2 252.7h1.0M49.6 250.7h1.0M42.7 256.6h1.0M46.8 254.6h1.0M48.4 250.8h1.0M46.3 251.0h1.0M43.0 253.4h1.0M47.0 249.2h1.0M42.8 254.8h1.0M46.1 255.0h1.0M44.4 250.6h1.0M48.2 254.8h1.0M35.5 255.6h1.0M42.8 255.0h1.0M51.0 252.2h1.0M42.1 253.8h1.0M45.8 254.7h1.0M40.6 253.7h1.0M48.6 255.1h1.0M47.7 256.6h1.0M42.6 256.7h1.0M46.2 250.0h1.0M44.5 253.8h1.0M46.7 257.1h1.0M46.2 251.5h1.0M53.2 252.0h1.0M42.6 255.8h1.0M44.0 250.6h1.0M41.8 256.6h1.0M41.8 253.3h1.0M43.9 252.4h1.0M42.6 253.5h1.0M47.6 256.2h1.0M44.2 249.5h1.0M40.3 253.0h1.0M36.8 257.0h1.0M45.6 253.4h1.0M40.6 251.1h1.0M42.9 255.0h1.0M44.1 254.9h1.0M47.3 247.2h1.0M44.7 256.8h1.0M43.7 253.4h1.0M45.1 249.3h1.0M53.2 252.6h1.0M47.7 251.7h1.0M50.4 256.5h1.0M49.6 255.9h1.0M48.0 257.2h1.0M46.9 253.4h1.0M48.3 250.3h1.0M36.6 255.5h1.0M46.0 250.9h1.0M44.6 250.2h1.0M42.5 253.6h1.0M45.9 255.5h1.0M45.2 254.9h1.0M47.9 250.9h1.0M39.6 251.0h1.0M44.6 251.4h1.0M53.3 251.0h1.0M47.2 250.7h1.0M47.9 249.2h1.0M48.8 253.6h1.0M44.1 249.4h1.0M51.4 251.3h1.0M50.6 245.8h1.0M41.3 258.5h1.0M51.8 253.1h1.0M49.0 254.9h1.0M44.2 253.4h1.0M41.5 249.0h1.0M45.9 255.2h1.0M46.1 249.4h1.0M48.5 253.3h1.0M48.1 252.2h1.0M44.6 256.2h1.0" stroke="#111" stroke-width="1.0" stroke-opacity="0.7" fill="none"/>
<ellipse cx="44" cy="236.5" rx="4" ry="7.5" fill="#f01010" fill-opacity="1" filter="url(#b8)" transform="rotate(10 44 236.5)"/>
<path d="M48.5 230.6h1.0M40.3 241.3h1.0M44.8 237.0h1.0M40.6 241.6h1.0M44.2 237.8h1.0M45.4 233.9h1.0M44.8 237.4h1.0M45.4 238.9h1.0M41.5 232.2h1.0M42.2 242.7h1.0M41.3 242.4h1.0M45.8 241.8h1.0M49.6 237.5h1.0M43.6 243.3h1.0M44.0 242.1h1.0M42.3 244.2h1.0M46.7 226.4h1.0M46.8 236.0h1.0M42.1 234.6h1.0M42.2 242.6h1.0M44.9 236.3h1.0M44.8 231.7h1.0M42.9 233.8h1.0M44.5 230.2h1.0M42.0 241.8h1.0M45.1 236.8h1.0M45.1 235.4h1.0M40.2 240.8h1.0M49.0 240.3h1.0M43.3 250.2h1.0M40.5 238.9h1.0M43.4 234.9h1.0M40.0 235.4h1.0M46.5 228.1h1.0M43.9 233.8h1.0M40.9 239.6h1.0M47.6 239.5h1.0M45.8 241.1h1.0M43.3 239.7h1.0M47.7 234.9h1.0M44.9 229.1h1.0M40.2 231.4h1.0M45.9 238.9h1.0M43.4 243.8h1.0M38.3 243.2h1.0M43.5 240.8h1.0M48.2 232.8h1.0M41.5 238.4h1.0M44.4 233.4h1.0M44.4 232.6h1.0M44.7 234.6h1.0M49.2 231.7h1.0M45.3 237.2h1.0M48.8 232.1h1.0M41.2 245.7h1.0M42.7 234.2h1.0M43.9 231.1h1.0M45.6 245.3h1.0M44.3 232.5h1.0M40.0 239.5h1.0M42.2 239.3h1.0M38.4 233.3h1.0M45.1 239.1h1.0M36.6 236.9h1.0M44.3 236.5h1.0M43.6 234.1h1.0M43.9 239.4h1.0M36.2 235.1h1.0M46.5 235.8h1.0M47.9 232.1h1.0M47.8 242.6h1.0M40.4 251.2h1.0M46.0 245.7h1.0M41.1 235.5h1.0M44.2 242.4h1.0M45.4 229.6h1.0M47.2 236.2h1.0M45.4 235.0h1.0M45.0 229.1h1.0M46.2 233.5h1.0M39.2 238.0h1.0M43.0 241.7h1.0M47.2 230.4h1.0M43.6 236.5h1.0M45.2 231.0h1.0M43.2 241.9h1.0M45.7 244.9h1.0M48.2 223.4h1.0M43.8 233.5h1.0M35.4 243.6h1.0M46.2 236.9h1.0M44.4 239.3h1.0M42.2 243.8h1.0M47.7 241.8h1.0M42.4 237.7h1.0M45.7 240.8h1.0M41.4 241.4h1.0M45.2 240.0h1.0M43.0 236.2h1.0M39.3 235.6h1.0" stroke="#f01010" stroke-width="1.0" stroke-opacity="0.6" fill="none"/>
<path d="M54.5 257.4h1.0M54.9 257.4h1.0M55.7 258.2h1.0M54.1 257.8h1.0M55.3 259.0h1.0M56.5 257.3h1.0M53.6 254.8h1.0M52.6 258.8h1.0M53.4 261.2h1.0M55.1 257.3h1.0M55.1 256.9h1.0M54.0 258.2h1.0M52.2 258.3h1.0M55.3 256.2h1.0M57.9 258.7h1.0M58.0 256.7h1.0M52.6 255.7h1.0M51.9 254.3h1.0M59.1 257.1h1.0M55.9 257.0h1.0M55.2 261.1h1.0M51.5 256.1h1.0M55.8 256.2h1.0M57.1 260.6h1.0M57.6 259.5h1.0M55.1 260.0h1.0M53.7 255.7h1.0M54.9 257.5h1.0M58.3 256.1h1.0M58.1 256.5h1.0M52.6 254.7h1.0M55.4 255.2h1.0M56.0 258.1h1.0M54.6 254.2h1.0M54.3 258.9h1.0M51.4 259.4h1.0M55.5 256.9h1.0M56.0 259.3h1.0M55.4 256.5h1.0M57.3 256.7h1.0M56.3 259.9h1.0M58.5 261.2h1.0M57.9 258.3h1.0M55.0 258.4h1.0M56.7 263.9h1.0M57.0 256.4h1.0M59.0 254.9h1.0M57.8 255.5h1.0M53.0 257.0h1.0M54.8 255.3h1.0M56.9 257.8h1.0M58.6 256.0h1.0M51.3 259.4h1.0M55.0 259.9h1.0M50.1 255.5h1.0M55.7 261.9h1.0M52.7 254.2h1.0M54.5 260.8h1.0M59.1 255.3h1.0M54.1 254.4h1.0M53.6 256.1h1.0M56.5 260.3h1.0M61.0 257.3h1.0M57.4 258.4h1.0M55.8 261.8h1.0M57.1 261.1h1.0M56.2 259.7h1.0M56.7 257.8h1.0M53.9 257.2h1.0M55.5 257.3h1.0M54.7 256.6h1.0M57.5 257.5h1.0M55.2 257.6h1.0M58.5 256.9h1.0M58.8 256.3h1.0M59.0 259.2h1.0M54.4 258.9h1.0M58.1 256.1h1.0M55.0 258.6h1.0M55.0 257.4h1.0M55.5 258.6h1.0M57.3 260.9h1.0M54.8 263.8h1.0M54.7 261.5h1.0M55.2 255.1h1.0M54.5 257.3h1.0M58.0 254.0h1.0M54.0 257.7h1.0M57.0 258.8h1.0M57.5 257.7h1.0" stroke="#84cc6c" stroke-width="1.0" stroke-opacity="0.75" fill="none"/>
<ellipse cx="54.5" cy="249.5" rx="5.8" ry="4" fill="#0a0aff" fill-opacity="1" filter="url(#b8)" transform="rotate(-10 54.5 249.5)"/>
</g>
<text x="29.6" y="223.6" font-size="6.4" fill="#333" stroke="#333" stroke-width="0.15">III (28%)</text>
<text x="56.4" y="236.2" font-size="6.4" fill="#333" stroke="#333" stroke-width="0.15">IV (13%)</text>
<text x="58.1" y="266.2" font-size="6.4" fill="#333" stroke="#333" stroke-width="0.15">V (4%)</text>
<path d="M101 211H163V273.3" stroke="#80809e" stroke-width="0.9" fill="none"/>
<path d="M101 211V273.3H163" stroke="#8c8cc0" stroke-width="1.2" fill="none"/>
<path d="M100.7 270.2h2M104.1 273.6v-2M100.7 268.3h2M106.0 273.6v-2M100.7 267.0h2M107.3 273.6v-2M100.7 266.0h2M108.3 273.6v-2M100.7 265.2h2M109.1 273.6v-2M100.7 264.5h2M109.8 273.6v-2M100.7 263.9h2M110.4 273.6v-2M100.7 263.4h2M110.9 273.6v-2M100.7 259.8h2M114.5 273.6v-2M100.7 258.0h2M116.3 273.6v-2M100.7 256.7h2M117.6 273.6v-2M100.7 255.7h2M118.6 273.6v-2M100.7 254.8h2M119.5 273.6v-2M100.7 254.1h2M120.2 273.6v-2M100.7 253.5h2M120.8 273.6v-2M100.7 253.0h2M121.3 273.6v-2M100.7 249.4h2M124.9 273.6v-2M100.7 247.6h2M126.7 273.6v-2M100.7 246.3h2M128.0 273.6v-2M100.7 245.3h2M129.0 273.6v-2M100.7 244.5h2M129.8 273.6v-2M100.7 243.8h2M130.5 273.6v-2M100.7 243.2h2M131.1 273.6v-2M100.7 242.6h2M131.7 273.6v-2M100.7 239.0h2M135.3 273.6v-2M100.7 237.2h2M137.1 273.6v-2M100.7 235.9h2M138.4 273.6v-2M100.7 234.9h2M139.4 273.6v-2M100.7 234.1h2M140.2 273.6v-2M100.7 233.4h2M140.9 273.6v-2M100.7 232.8h2M141.5 273.6v-2M100.7 232.2h2M142.1 273.6v-2M100.7 228.6h2M145.7 273.6v-2M100.7 226.8h2M147.5 273.6v-2M100.7 225.5h2M148.8 273.6v-2M100.7 224.5h2M149.8 273.6v-2M100.7 223.7h2M150.6 273.6v-2M100.7 223.0h2M151.3 273.6v-2M100.7 222.4h2M151.9 273.6v-2M100.7 221.9h2M152.4 273.6v-2M100.7 218.3h2M156.0 273.6v-2M100.7 216.4h2M157.9 273.6v-2M100.7 215.1h2M159.2 273.6v-2M100.7 214.1h2M160.2 273.6v-2M100.7 213.3h2M161.0 273.6v-2M100.7 212.6h2M161.7 273.6v-2M100.7 212.0h2M162.3 273.6v-2M100.7 211.5h2M162.8 273.6v-2" stroke="#2a2a88" stroke-width="0.6" stroke-opacity="0.85" fill="none"/>
<path d="M95.0 270.7l1 0.8v1.8h1.8M99.6 278.1h1.6v-1.6l0.8 -0.8M95.0 260.3l1 0.8v1.8h1.8M110.0 278.1h1.6v-1.6l0.8 -0.8M95.0 249.9l1 0.8v1.8h1.8M120.4 278.1h1.6v-1.6l0.8 -0.8M95.0 239.6l1 0.8v1.8h1.8M130.8 278.1h1.6v-1.6l0.8 -0.8M95.0 229.2l1 0.8v1.8h1.8M141.1 278.1h1.6v-1.6l0.8 -0.8M95.0 218.8l1 0.8v1.8h1.8M151.5 278.1h1.6v-1.6l0.8 -0.8M95.0 208.4l1 0.8v1.8h1.8M161.9 278.1h1.6v-1.6l0.8 -0.8" stroke="#44447e" stroke-width="0.85" fill="none"/>
<text x="115.4" y="208.6" font-size="7.2" fill="#222" stroke="#222" stroke-width="0.22">TOX2-KD</text>
<g filter="url(#b5)">
<path d="M113.4 249.7h1.0M104.3 262.1h1.0M131.8 239.5h1.0M104.1 267.3h1.0M133.0 260.9h1.0M110.8 269.8h1.0M126.7 226.5h1.0M139.3 257.8h1.0M109.8 266.9h1.0M125.1 254.9h1.0M104.0 235.0h1.0M132.3 225.6h1.0M110.2 228.3h1.0M124.6 231.5h1.0M132.0 246.2h1.0M131.9 267.9h1.0M139.0 234.0h1.0M116.5 262.3h1.0M115.3 269.1h1.0M115.4 254.5h1.0M112.5 259.0h1.0M113.5 244.8h1.0M129.8 263.9h1.0M108.2 233.1h1.0M110.8 261.1h1.0M127.9 258.7h1.0M132.9 236.0h1.0M121.4 225.2h1.0M116.0 253.2h1.0M112.6 262.4h1.0M110.9 245.8h1.0M128.3 235.4h1.0M127.6 243.8h1.0M104.8 230.0h1.0M127.1 263.7h1.0M128.2 265.6h1.0M127.6 261.6h1.0M134.0 253.0h1.0M122.7 232.6h1.0M111.7 229.0h1.0M107.1 243.4h1.0M113.8 251.5h1.0M133.6 237.6h1.0M136.1 264.2h1.0M110.1 252.7h1.0M110.3 228.0h1.0M111.2 234.6h1.0M103.3 226.2h1.0M132.9 265.7h1.0M135.0 228.5h1.0M103.9 265.3h1.0M116.9 241.2h1.0M128.9 249.9h1.0M115.2 232.1h1.0M107.3 258.5h1.0M136.5 226.8h1.0M111.3 249.7h1.0M112.9 248.0h1.0M121.6 237.4h1.0M107.3 244.7h1.0M133.0 231.5h1.0M122.9 263.1h1.0M124.1 241.3h1.0M137.3 261.7h1.0M139.9 239.1h1.0M120.9 246.2h1.0M134.1 254.1h1.0M123.4 249.2h1.0M136.0 241.6h1.0M107.9 233.3h1.0M112.0 229.5h1.0M139.1 251.1h1.0M132.5 246.3h1.0M122.3 235.6h1.0M136.0 244.8h1.0M118.0 259.9h1.0M135.1 271.9h1.0M120.8 244.9h1.0M133.6 245.0h1.0M110.5 247.5h1.0M114.3 237.1h1.0M131.6 241.4h1.0M126.1 239.2h1.0M107.2 261.7h1.0M131.7 258.1h1.0M125.6 233.2h1.0M121.6 264.2h1.0M132.0 252.8h1.0M126.4 233.0h1.0M105.0 264.8h1.0M103.7 236.9h1.0M117.8 257.9h1.0M128.8 265.7h1.0M137.4 237.8h1.0M112.2 230.7h1.0M115.2 229.8h1.0M138.6 252.0h1.0M121.2 227.7h1.0M136.7 236.5h1.0M131.5 234.6h1.0M113.0 231.4h1.0M122.8 238.4h1.0M124.1 258.6h1.0M111.4 231.2h1.0M122.1 243.8h1.0M119.5 242.3h1.0M109.1 230.8h1.0M129.9 254.8h1.0M128.4 255.0h1.0M122.0 234.2h1.0M136.8 250.0h1.0M119.9 237.3h1.0M116.9 271.1h1.0M118.0 262.8h1.0M107.6 253.2h1.0M113.1 236.0h1.0M114.2 243.6h1.0M126.8 244.1h1.0M134.9 232.3h1.0M134.6 245.5h1.0" stroke="#666" stroke-width="1.0" stroke-opacity="0.4" fill="none"/>
<path d="M121.6 250.7h1.0M119.4 270.8h1.0M113.7 249.1h1.0M110.6 255.6h1.0M129.5 254.1h1.0M125.5 255.8h1.0M116.3 269.9h1.0M126.3 245.2h1.0M114.3 259.6h1.0M123.8 255.6h1.0M121.8 260.5h1.0M118.0 263.4h1.0M115.1 261.8h1.0M125.4 258.3h1.0M118.0 256.9h1.0M107.1 258.6h1.0M111.7 244.1h1.0M124.5 251.2h1.0M122.1 257.3h1.0M109.8 251.2h1.0M118.4 260.0h1.0M120.4 248.9h1.0M116.9 257.7h1.0M112.6 254.2h1.0M116.8 243.4h1.0M130.1 262.6h1.0M117.3 263.1h1.0M113.9 266.8h1.0M117.8 257.9h1.0M116.6 257.6h1.0M121.9 257.2h1.0M115.2 261.9h1.0M123.3 257.0h1.0M126.1 252.3h1.0M127.4 256.0h1.0M128.8 254.2h1.0M118.5 258.4h1.0M126.4 266.2h1.0M117.4 252.3h1.0M124.4 264.9h1.0M124.1 254.9h1.0M127.4 256.8h1.0M121.0 261.0h1.0M116.7 242.5h1.0M121.3 261.6h1.0M122.6 260.5h1.0M121.0 263.7h1.0M120.7 266.6h1.0M120.3 262.1h1.0M116.8 258.9h1.0M122.5 257.9h1.0M129.0 257.3h1.0M126.5 259.3h1.0M126.4 251.2h1.0M117.9 263.2h1.0M115.3 259.5h1.0M123.3 258.3h1.0M122.5 260.5h1.0M118.6 259.6h1.0M117.0 254.1h1.0M110.8 256.3h1.0M110.1 257.2h1.0M121.2 250.0h1.0M120.4 258.9h1.0M118.0 251.2h1.0M119.4 259.6h1.0M125.4 269.4h1.0M108.5 259.2h1.0M122.5 252.9h1.0M121.9 270.4h1.0M120.7 265.7h1.0M126.2 254.2h1.0M106.6 264.4h1.0M128.9 245.7h1.0M118.9 252.5h1.0M121.2 257.4h1.0M126.6 253.2h1.0M131.2 246.1h1.0M119.4 261.0h1.0M125.2 254.8h1.0M108.9 258.4h1.0M124.3 243.9h1.0M117.2 260.6h1.0M106.1 255.8h1.0M110.8 248.4h1.0M122.4 264.3h1.0M126.8 252.8h1.0M123.0 245.6h1.0M111.4 260.5h1.0M117.7 250.5h1.0M109.2 255.5h1.0M133.0 244.1h1.0M113.9 264.2h1.0M108.9 253.0h1.0M120.4 264.3h1.0M119.6 268.7h1.0M119.8 256.3h1.0M122.6 259.3h1.0M111.3 250.9h1.0M118.6 259.2h1.0M112.9 252.4h1.0M115.7 259.2h1.0M117.5 260.9h1.0M122.3 251.1h1.0M118.3 249.0h1.0M120.6 262.2h1.0M114.3 245.6h1.0M123.0 255.1h1.0M119.8 260.0h1.0M122.2 263.0h1.0M117.3 242.8h1.0M117.2 255.0h1.0M117.6 259.5h1.0M118.6 265.4h1.0M116.3 257.0h1.0M117.9 270.6h1.0M114.4 250.6h1.0M117.8 261.9h1.0M120.1 255.9h1.0M111.5 243.6h1.0M118.8 255.5h1.0M130.3 259.4h1.0M122.5 263.2h1.0M114.8 249.1h1.0M117.9 266.6h1.0M125.8 253.2h1.0M112.7 263.0h1.0M126.4 249.9h1.0M129.4 252.0h1.0M124.4 255.7h1.0M118.1 253.1h1.0M124.1 261.0h1.0M124.7 255.2h1.0M115.0 270.9h1.0M130.0 255.8h1.0M113.3 266.7h1.0M120.8 257.4h1.0M125.0 259.3h1.0M120.7 269.9h1.0M108.9 261.2h1.0M114.2 257.5h1.0M119.0 258.7h1.0M105.9 261.5h1.0M133.7 254.3h1.0M125.3 261.0h1.0M121.7 253.8h1.0M123.7 258.8h1.0M128.5 262.4h1.0M115.8 238.1h1.0M128.9 260.2h1.0M121.0 253.1h1.0M134.7 265.7h1.0M120.6 254.6h1.0M123.4 265.8h1.0M123.1 263.1h1.0M121.5 259.3h1.0M112.5 257.8h1.0M120.3 256.5h1.0M118.6 259.0h1.0M116.6 255.7h1.0M112.3 272.0h1.0M114.7 249.2h1.0M116.8 254.3h1.0M113.7 241.2h1.0M129.7 263.6h1.0M117.8 260.6h1.0M113.4 246.5h1.0M122.0 260.7h1.0M115.9 257.0h1.0M101.8 256.2h1.0M126.3 258.1h1.0M121.1 260.7h1.0M107.6 248.7h1.0M112.5 258.6h1.0M116.3 244.8h1.0M125.3 255.8h1.0M125.9 270.0h1.0M110.2 248.7h1.0M126.4 266.1h1.0M122.4 259.3h1.0M124.1 261.2h1.0M112.4 261.8h1.0M125.9 254.4h1.0M114.6 253.8h1.0M116.5 260.4h1.0M124.6 257.2h1.0M118.2 245.5h1.0M117.5 250.5h1.0M116.7 259.2h1.0M114.8 253.5h1.0M113.2 255.3h1.0M118.3 263.5h1.0M108.4 262.9h1.0M123.8 253.6h1.0M115.9 258.3h1.0M123.1 256.0h1.0M119.1 257.1h1.0M113.5 258.8h1.0M123.4 257.3h1.0M113.2 257.0h1.0" stroke="#111" stroke-width="1.0" stroke-opacity="0.35" fill="none"/>
<path d="M121.1 260.6h1.0M120.2 263.1h1.0M124.9 263.1h1.0M122.2 265.1h1.0M121.4 258.2h1.0M116.9 259.1h1.0M125.4 254.3h1.0M124.0 252.7h1.0M122.4 268.0h1.0M121.6 253.2h1.0M122.4 258.3h1.0M124.0 256.4h1.0M116.0 256.6h1.0M123.4 264.1h1.0M122.4 259.1h1.0M123.7 258.0h1.0M120.0 260.1h1.0M125.0 256.5h1.0M123.1 255.9h1.0M119.2 259.9h1.0M117.3 254.8h1.0M117.7 256.1h1.0M118.6 270.5h1.0M123.4 259.4h1.0M117.2 247.3h1.0M122.9 255.9h1.0M124.8 257.1h1.0M117.3 255.9h1.0M116.6 252.1h1.0M123.7 256.4h1.0M123.7 256.3h1.0M120.7 256.3h1.0M119.7 255.8h1.0M126.2 258.7h1.0M115.3 267.3h1.0M125.5 264.5h1.0M121.1 258.3h1.0M120.0 259.6h1.0M123.0 259.0h1.0M118.9 254.3h1.0M126.8 267.3h1.0M117.5 255.9h1.0M121.3 261.9h1.0M121.1 260.2h1.0M122.6 264.6h1.0M117.3 264.4h1.0M122.9 261.6h1.0M116.7 257.9h1.0M120.6 262.1h1.0M123.6 262.4h1.0M117.4 265.1h1.0M121.7 263.6h1.0M121.4 255.6h1.0M129.8 262.2h1.0M123.9 256.8h1.0M120.8 264.4h1.0M122.9 267.5h1.0M125.3 253.8h1.0M116.6 264.7h1.0M123.4 257.8h1.0M120.5 256.3h1.0M127.2 258.2h1.0M117.1 263.4h1.0M121.2 260.7h1.0M120.2 258.8h1.0M115.5 261.6h1.0M119.3 257.2h1.0M122.5 265.2h1.0M114.6 258.4h1.0M123.2 263.9h1.0M118.6 260.6h1.0M122.7 263.5h1.0M119.5 258.1h1.0M119.8 264.5h1.0M124.9 256.9h1.0M121.0 260.1h1.0M118.6 258.5h1.0M124.2 262.8h1.0M119.3 255.9h1.0M121.1 252.0h1.0M122.4 259.6h1.0M117.2 257.9h1.0M119.3 257.7h1.0M118.7 265.6h1.0M118.4 262.7h1.0M122.1 266.0h1.0M121.3 259.0h1.0M121.7 250.0h1.0M129.1 258.0h1.0M120.4 253.6h1.0M121.0 266.8h1.0M119.0 261.2h1.0M124.7 263.6h1.0M120.2 250.7h1.0M122.7 261.8h1.0M120.4 257.0h1.0M127.0 251.5h1.0M119.8 256.1h1.0M116.5 255.7h1.0M118.9 265.0h1.0M115.9 252.5h1.0M122.3 251.7h1.0M115.0 256.1h1.0M117.6 254.4h1.0M120.9 261.2h1.0M119.4 257.7h1.0M123.7 258.3h1.0M123.8 256.3h1.0M123.0 265.1h1.0M120.4 257.4h1.0M120.9 261.3h1.0M117.6 259.2h1.0M119.6 265.8h1.0M115.9 262.1h1.0M120.4 255.5h1.0M121.9 257.9h1.0M121.6 260.2h1.0M125.3 257.1h1.0M126.8 246.2h1.0M127.3 264.8h1.0M126.4 260.0h1.0M122.3 254.3h1.0M125.7 253.6h1.0M118.9 259.1h1.0M122.2 260.7h1.0M117.7 257.4h1.0M123.0 264.7h1.0M123.9 261.0h1.0M120.6 256.5h1.0M119.8 258.6h1.0M123.1 256.7h1.0M128.0 254.3h1.0M124.0 258.1h1.0M121.0 257.3h1.0M126.3 257.7h1.0M123.2 259.6h1.0M123.8 261.8h1.0M126.7 255.6h1.0M118.8 267.1h1.0M125.5 259.4h1.0M120.5 260.3h1.0M125.6 255.4h1.0M126.1 258.8h1.0M120.3 257.2h1.0M114.8 260.6h1.0M117.2 256.4h1.0M118.6 260.2h1.0M123.7 259.3h1.0M122.0 261.0h1.0M126.6 261.8h1.0M126.4 258.8h1.0M122.6 256.0h1.0M123.3 255.0h1.0M122.9 256.1h1.0M120.3 264.8h1.0M121.9 262.8h1.0M120.7 250.3h1.0M126.1 258.2h1.0M119.4 263.5h1.0M117.8 255.6h1.0M125.1 255.8h1.0M125.0 257.6h1.0M120.8 259.4h1.0M119.8 264.1h1.0M124.9 259.4h1.0M123.4 261.6h1.0M126.8 251.6h1.0M124.7 263.4h1.0M120.4 259.1h1.0M120.3 264.9h1.0M117.8 261.9h1.0M125.5 261.8h1.0M119.9 256.9h1.0M114.7 254.2h1.0M124.9 254.6h1.0M116.2 257.9h1.0M116.7 261.2h1.0M118.7 263.6h1.0M121.1 252.4h1.0M119.0 256.0h1.0M118.8 264.9h1.0M118.2 260.8h1.0M119.6 261.9h1.0M116.9 251.7h1.0M123.1 265.8h1.0M117.0 257.6h1.0M119.8 254.7h1.0M124.5 259.3h1.0M117.0 258.1h1.0M125.7 255.7h1.0M119.8 255.2h1.0M122.0 256.5h1.0M124.3 255.2h1.0M116.8 261.2h1.0M111.3 254.6h1.0M122.3 260.2h1.0M119.6 257.0h1.0M118.9 258.2h1.0M120.0 261.7h1.0M121.5 261.7h1.0M126.7 257.8h1.0M120.5 260.9h1.0M128.1 257.4h1.0M126.8 264.7h1.0M112.7 254.4h1.0M118.3 261.0h1.0M125.7 259.3h1.0M122.0 269.3h1.0M122.6 269.2h1.0M118.6 266.8h1.0M119.8 247.7h1.0M118.8 256.9h1.0M121.3 262.6h1.0M123.7 261.5h1.0M119.1 267.5h1.0M125.3 259.3h1.0M119.6 258.9h1.0M120.7 255.8h1.0M121.4 256.0h1.0M123.5 256.0h1.0" stroke="#111" stroke-width="1.0" stroke-opacity="0.55" fill="none"/>
<ellipse cx="120.5" cy="252.5" rx="7.2" ry="3.8" fill="#111" fill-opacity="1" filter="url(#b10)" transform="rotate(0 120.5 252.5)"/>
<ellipse cx="120.2" cy="238" rx="4.2" ry="9.3" fill="#f01010" fill-opacity="1" filter="url(#b8)" transform="rotate(5 120.2 238)"/>
<path d="M121.1 239.8h1.0M120.3 240.8h1.0M116.6 251.2h1.0M118.2 241.7h1.0M120.4 235.9h1.0M123.6 244.1h1.0M119.3 240.9h1.0M121.0 246.4h1.0M122.6 237.4h1.0M120.1 232.0h1.0M120.4 242.6h1.0M119.0 241.4h1.0M120.7 235.7h1.0M116.9 243.6h1.0M125.7 241.4h1.0M118.2 232.5h1.0M120.4 241.5h1.0M124.7 225.9h1.0M124.3 239.3h1.0M120.3 240.1h1.0M119.5 236.5h1.0M123.4 229.3h1.0M119.7 241.0h1.0M116.5 236.9h1.0M123.5 240.3h1.0M121.5 241.9h1.0M120.5 240.0h1.0M118.4 236.8h1.0M125.0 232.1h1.0M120.4 231.5h1.0M119.3 234.0h1.0M117.3 239.1h1.0M117.8 240.6h1.0M125.5 225.2h1.0M120.7 227.2h1.0M119.7 240.0h1.0M120.1 244.4h1.0M121.3 229.2h1.0M124.1 233.5h1.0M119.8 239.7h1.0M118.1 238.4h1.0M124.4 229.6h1.0M116.6 235.4h1.0M120.4 231.4h1.0M114.5 242.4h1.0M121.7 231.3h1.0M121.5 237.9h1.0M121.2 231.2h1.0M119.5 240.5h1.0M116.6 232.3h1.0M121.5 248.7h1.0M121.7 237.8h1.0M117.9 235.7h1.0M119.4 240.3h1.0M118.5 250.9h1.0M124.2 226.9h1.0M117.5 237.8h1.0M122.2 240.4h1.0M114.6 228.9h1.0M123.0 241.4h1.0M125.7 242.8h1.0M120.5 246.1h1.0M119.4 235.1h1.0M117.7 239.2h1.0M120.8 243.0h1.0M123.2 241.6h1.0M123.1 237.0h1.0M117.6 241.7h1.0M121.9 245.3h1.0M120.0 235.6h1.0M119.2 239.9h1.0M120.2 237.1h1.0M120.9 236.6h1.0M121.2 235.0h1.0M116.8 236.1h1.0M124.9 234.2h1.0M121.7 245.3h1.0M118.8 239.3h1.0M114.7 240.6h1.0M123.6 239.3h1.0M115.9 234.6h1.0M118.4 238.5h1.0M121.0 235.9h1.0M119.9 233.7h1.0M121.4 239.2h1.0M121.2 235.5h1.0M121.5 236.6h1.0M120.9 237.3h1.0M119.2 232.2h1.0M116.5 230.5h1.0M119.8 255.3h1.0M116.8 233.4h1.0M118.5 256.8h1.0M120.3 231.9h1.0M120.2 249.1h1.0M114.3 231.3h1.0M123.6 232.2h1.0M120.2 234.7h1.0M122.6 230.5h1.0M120.8 239.3h1.0M121.3 240.4h1.0M121.4 228.7h1.0M119.9 233.0h1.0M121.5 236.9h1.0M120.0 243.9h1.0M119.2 246.9h1.0M122.8 230.4h1.0M118.3 244.3h1.0M118.5 244.2h1.0M119.0 237.3h1.0" stroke="#f01010" stroke-width="1.0" stroke-opacity="0.65" fill="none"/>
</g>
<text x="105.2" y="222.2" font-size="6.4" fill="#333" stroke="#333" stroke-width="0.15">III (32%)</text>
<text x="130.6" y="235.2" font-size="6.4" fill="#333" stroke="#333" stroke-width="0.15">IV (1%)</text>
<text x="132" y="265.6" font-size="6.4" fill="#333" stroke="#333" stroke-width="0.15">V (0%)</text>
<path d="M23 297.5H85V358.5" stroke="#80809e" stroke-width="0.9" fill="none"/>
<path d="M23 297.5V358.5H85" stroke="#8c8cc0" stroke-width="1.2" fill="none"/>
<path d="M22.7 355.4h2M26.1 358.8v-2M22.7 353.6h2M27.9 358.8v-2M22.7 352.4h2M29.1 358.8v-2M22.7 351.4h2M30.1 358.8v-2M22.7 350.6h2M30.9 358.8v-2M22.7 349.9h2M31.6 358.8v-2M22.7 349.3h2M32.2 358.8v-2M22.7 348.8h2M32.7 358.8v-2M22.7 345.3h2M36.2 358.8v-2M22.7 343.5h2M38.0 358.8v-2M22.7 342.2h2M39.3 358.8v-2M22.7 341.2h2M40.3 358.8v-2M22.7 340.4h2M41.1 358.8v-2M22.7 339.7h2M41.8 358.8v-2M22.7 339.2h2M42.3 358.8v-2M22.7 338.6h2M42.9 358.8v-2M22.7 335.1h2M46.4 358.8v-2M22.7 333.3h2M48.2 358.8v-2M22.7 332.0h2M49.5 358.8v-2M22.7 331.1h2M50.4 358.8v-2M22.7 330.3h2M51.2 358.8v-2M22.7 329.6h2M51.9 358.8v-2M22.7 329.0h2M52.5 358.8v-2M22.7 328.5h2M53.0 358.8v-2M22.7 324.9h2M56.6 358.8v-2M22.7 323.1h2M58.4 358.8v-2M22.7 321.9h2M59.6 358.8v-2M22.7 320.9h2M60.6 358.8v-2M22.7 320.1h2M61.4 358.8v-2M22.7 319.4h2M62.1 358.8v-2M22.7 318.8h2M62.7 358.8v-2M22.7 318.3h2M63.2 358.8v-2M22.7 314.8h2M66.7 358.8v-2M22.7 313.0h2M68.5 358.8v-2M22.7 311.7h2M69.8 358.8v-2M22.7 310.7h2M70.8 358.8v-2M22.7 309.9h2M71.6 358.8v-2M22.7 309.2h2M72.3 358.8v-2M22.7 308.7h2M72.8 358.8v-2M22.7 308.1h2M73.4 358.8v-2M22.7 304.6h2M76.9 358.8v-2M22.7 302.8h2M78.7 358.8v-2M22.7 301.5h2M80.0 358.8v-2M22.7 300.6h2M80.9 358.8v-2M22.7 299.8h2M81.7 358.8v-2M22.7 299.1h2M82.4 358.8v-2M22.7 298.5h2M83.0 358.8v-2M22.7 298.0h2M83.5 358.8v-2" stroke="#2a2a88" stroke-width="0.6" stroke-opacity="0.85" fill="none"/>
<path d="M17.0 355.9l1 0.8v1.8h1.8M21.6 363.3h1.6v-1.6l0.8 -0.8M17.0 345.7l1 0.8v1.8h1.8M31.8 363.3h1.6v-1.6l0.8 -0.8M17.0 335.6l1 0.8v1.8h1.8M41.9 363.3h1.6v-1.6l0.8 -0.8M17.0 325.4l1 0.8v1.8h1.8M52.1 363.3h1.6v-1.6l0.8 -0.8M17.0 315.2l1 0.8v1.8h1.8M62.3 363.3h1.6v-1.6l0.8 -0.8M17.0 305.1l1 0.8v1.8h1.8M72.4 363.3h1.6v-1.6l0.8 -0.8M17.0 294.9l1 0.8v1.8h1.8M82.6 363.3h1.6v-1.6l0.8 -0.8" stroke="#44447e" stroke-width="0.85" fill="none"/>
<text x="43" y="295" font-size="7.2" fill="#222" stroke="#222" stroke-width="0.22">T-BET</text>
<g filter="url(#b5)">
<path d="M58.7 350.8h1.0M56.4 327.0h1.0M37.9 348.7h1.0M57.5 344.4h1.0M61.7 338.1h1.0M37.7 339.7h1.0M40.3 336.6h1.0M56.6 334.7h1.0M54.2 343.6h1.0M30.7 340.8h1.0M59.5 345.4h1.0M58.9 345.1h1.0M63.8 325.3h1.0M44.5 330.5h1.0M55.7 333.7h1.0M52.6 345.6h1.0M30.6 344.3h1.0M41.2 332.3h1.0M51.9 344.9h1.0M37.3 347.5h1.0M32.6 325.8h1.0M60.2 354.6h1.0M62.2 356.8h1.0M55.2 342.8h1.0M48.0 341.7h1.0M62.1 355.9h1.0M44.8 330.7h1.0M48.3 338.0h1.0M57.5 354.4h1.0M51.1 326.7h1.0M48.2 328.2h1.0M48.3 351.0h1.0M52.9 339.4h1.0M35.4 354.7h1.0M59.6 340.1h1.0M31.8 346.3h1.0M43.6 337.1h1.0M42.9 333.1h1.0M34.8 345.5h1.0M47.6 338.2h1.0M55.5 340.6h1.0M35.5 332.8h1.0M49.0 346.0h1.0M51.5 348.6h1.0M42.2 349.3h1.0M49.8 332.4h1.0M34.3 344.7h1.0M58.8 355.4h1.0M57.8 351.2h1.0M50.1 332.1h1.0M40.1 352.4h1.0M39.3 340.0h1.0M48.7 324.6h1.0M33.8 330.6h1.0M57.1 349.9h1.0M33.0 329.4h1.0M63.5 329.5h1.0M57.2 343.4h1.0M59.6 348.3h1.0M33.3 349.4h1.0M54.3 325.4h1.0M62.0 333.6h1.0M45.8 341.3h1.0M48.9 342.8h1.0M32.2 352.2h1.0M47.8 327.2h1.0M47.1 330.2h1.0M44.7 347.7h1.0M55.6 329.3h1.0M39.8 356.0h1.0M51.4 330.1h1.0M50.7 332.2h1.0M32.5 345.7h1.0M33.8 328.6h1.0M53.1 355.9h1.0M32.3 348.7h1.0M34.9 325.9h1.0M30.6 324.7h1.0M54.8 353.9h1.0M30.4 329.0h1.0M31.6 337.4h1.0M41.0 330.3h1.0M57.7 327.4h1.0M51.5 328.7h1.0M52.2 328.3h1.0M36.7 356.6h1.0M39.1 338.9h1.0M52.5 357.0h1.0M48.7 327.8h1.0M52.7 346.6h1.0" stroke="#888" stroke-width="1.0" stroke-opacity="0.35" fill="none"/>
<path d="M35.7 333.5h1.0M40.8 334.4h1.0M34.0 334.2h1.0M47.6 331.7h1.0M40.3 340.9h1.0M36.0 333.2h1.0M54.5 342.0h1.0M37.4 336.8h1.0M40.5 336.7h1.0M42.3 334.5h1.0M28.9 331.3h1.0M40.8 329.4h1.0M38.4 343.3h1.0M41.2 332.8h1.0M40.7 341.1h1.0M31.4 329.9h1.0M36.7 333.9h1.0M39.6 333.2h1.0M40.5 336.4h1.0M34.2 333.0h1.0M33.8 337.4h1.0M41.3 339.2h1.0M35.6 333.4h1.0M28.9 336.1h1.0M31.9 337.7h1.0M45.4 338.2h1.0M43.1 337.1h1.0M41.9 340.6h1.0M46.3 345.8h1.0M38.7 340.0h1.0M44.3 338.1h1.0M41.3 329.9h1.0M45.4 331.7h1.0M36.7 331.9h1.0M42.8 331.3h1.0M42.3 338.7h1.0M40.5 334.3h1.0M43.0 342.4h1.0M37.7 330.9h1.0M37.0 331.7h1.0M38.8 335.2h1.0M28.5 343.1h1.0M35.9 333.9h1.0M30.2 326.4h1.0M34.9 337.1h1.0M44.2 327.2h1.0M41.1 343.3h1.0M38.6 340.5h1.0M41.6 331.5h1.0M45.0 333.0h1.0M41.8 334.1h1.0M38.9 336.7h1.0M46.6 327.8h1.0M34.4 336.5h1.0M44.9 335.1h1.0M39.1 338.6h1.0M47.9 331.6h1.0M32.0 334.6h1.0M43.8 329.6h1.0M45.6 340.6h1.0M43.9 331.9h1.0M33.5 339.2h1.0M41.3 339.3h1.0M33.3 321.7h1.0M45.6 340.8h1.0M38.6 336.0h1.0M42.3 339.6h1.0M39.1 333.5h1.0M35.1 341.0h1.0M40.5 319.5h1.0M41.7 333.2h1.0M33.6 333.5h1.0M33.6 333.8h1.0M37.3 338.5h1.0M34.9 327.2h1.0M37.0 329.3h1.0M43.7 335.0h1.0M31.7 331.8h1.0M39.9 335.8h1.0M30.8 335.4h1.0M41.5 340.8h1.0M45.5 335.4h1.0M33.5 334.2h1.0M43.2 331.5h1.0M46.3 331.3h1.0M34.4 340.0h1.0M39.5 337.5h1.0M38.5 336.1h1.0M37.1 345.2h1.0M43.3 335.4h1.0M42.4 340.0h1.0M37.4 336.8h1.0M41.0 333.3h1.0M36.1 335.0h1.0M38.5 334.0h1.0M30.3 336.4h1.0M43.3 336.3h1.0M48.5 340.2h1.0M38.2 332.7h1.0M42.5 334.2h1.0M31.9 336.6h1.0M38.5 334.9h1.0M43.1 336.9h1.0M50.1 332.4h1.0M39.5 337.5h1.0M37.8 333.5h1.0M48.7 329.0h1.0M41.7 327.5h1.0M41.7 326.7h1.0M34.2 341.5h1.0M47.7 336.6h1.0M26.4 340.9h1.0M41.2 330.6h1.0M38.2 329.6h1.0M39.5 335.6h1.0M40.6 339.8h1.0M36.8 325.3h1.0M34.2 329.9h1.0M38.2 333.9h1.0M39.8 342.6h1.0" stroke="#c09080" stroke-width="1.0" stroke-opacity="0.3" fill="none"/>
<path d="M42.1 333.7h1.0M40.5 334.9h1.0M40.8 343.4h1.0M36.4 344.1h1.0M50.9 348.8h1.0M50.1 340.5h1.0M35.3 351.6h1.0M41.7 341.3h1.0M40.2 334.6h1.0M45.1 331.9h1.0M35.1 343.2h1.0M40.1 335.1h1.0M44.5 348.2h1.0M40.6 339.2h1.0M44.8 345.4h1.0M47.1 343.9h1.0M38.7 343.1h1.0M42.0 330.2h1.0M48.2 343.3h1.0M48.8 339.6h1.0M45.6 339.6h1.0M42.8 345.3h1.0M42.3 343.5h1.0M41.8 347.1h1.0M45.2 330.4h1.0M50.3 342.5h1.0M39.5 336.4h1.0M51.9 340.5h1.0M44.5 343.4h1.0M39.0 350.1h1.0M52.5 335.5h1.0M47.7 330.6h1.0M40.3 340.4h1.0M42.3 343.3h1.0M44.0 342.1h1.0M41.3 341.7h1.0M39.2 351.3h1.0M42.3 347.1h1.0M42.5 339.1h1.0M41.1 332.6h1.0M52.3 342.4h1.0M42.7 337.3h1.0M48.4 338.1h1.0M39.7 336.9h1.0M49.7 341.8h1.0M41.3 336.3h1.0M48.4 341.7h1.0M40.4 345.2h1.0M46.4 334.3h1.0M47.7 346.3h1.0M40.8 332.4h1.0M47.4 338.0h1.0M41.0 338.4h1.0M40.7 344.8h1.0M36.6 343.1h1.0M47.8 346.1h1.0M45.6 341.5h1.0M41.0 339.3h1.0M37.7 349.6h1.0M41.4 334.2h1.0M46.1 348.7h1.0M43.4 338.2h1.0M36.5 343.7h1.0M40.8 336.2h1.0M45.0 332.6h1.0M45.7 326.1h1.0M39.0 331.8h1.0M40.8 344.6h1.0M35.6 347.8h1.0M38.7 337.3h1.0M46.9 335.8h1.0M49.2 338.8h1.0M41.6 334.5h1.0M47.7 339.6h1.0M39.7 334.6h1.0M38.9 339.5h1.0M38.5 344.6h1.0M41.9 336.5h1.0M44.3 348.2h1.0M31.8 342.1h1.0M47.4 340.8h1.0M46.1 331.2h1.0M38.4 345.8h1.0M41.6 340.4h1.0M45.1 342.1h1.0M44.3 337.2h1.0M40.6 347.5h1.0M39.6 331.8h1.0M40.3 345.1h1.0M50.9 340.9h1.0M39.0 343.5h1.0M43.5 346.7h1.0M44.6 344.3h1.0M44.6 342.4h1.0M37.6 339.1h1.0M49.9 347.6h1.0M46.8 342.3h1.0M41.5 342.0h1.0M40.5 346.2h1.0M40.6 335.7h1.0M34.2 348.9h1.0M38.4 335.1h1.0M44.1 350.2h1.0M45.4 338.1h1.0M44.9 335.3h1.0M40.9 340.2h1.0M42.2 344.4h1.0M44.7 350.7h1.0M46.2 338.4h1.0M43.4 335.2h1.0M39.1 338.1h1.0M47.1 336.1h1.0M34.5 334.3h1.0M36.3 339.0h1.0M40.6 333.4h1.0M38.3 337.7h1.0M44.0 343.5h1.0M48.6 338.6h1.0M45.2 340.4h1.0M36.8 336.4h1.0M52.8 339.1h1.0M50.2 344.7h1.0M50.2 338.9h1.0M46.7 338.3h1.0M36.8 333.4h1.0M44.3 330.9h1.0M43.9 335.1h1.0M43.9 332.2h1.0M46.3 338.7h1.0M34.7 331.9h1.0M42.5 330.7h1.0M43.8 342.8h1.0M39.0 347.9h1.0M49.2 341.8h1.0M44.4 342.7h1.0M40.9 347.5h1.0M39.6 325.8h1.0M42.3 342.5h1.0M46.2 333.8h1.0M48.9 335.4h1.0M45.2 344.2h1.0M43.1 346.4h1.0M39.8 351.6h1.0M44.6 337.6h1.0M54.8 340.0h1.0M34.3 348.1h1.0M49.7 336.7h1.0M37.4 346.4h1.0M42.5 334.6h1.0M39.9 340.4h1.0M47.0 348.9h1.0M39.2 348.7h1.0M34.9 344.1h1.0M41.5 342.5h1.0M40.1 336.0h1.0M43.6 346.4h1.0M31.5 340.3h1.0M40.3 333.9h1.0M35.7 342.9h1.0M44.9 343.7h1.0M32.6 331.4h1.0M39.2 337.6h1.0M50.7 337.8h1.0M42.8 345.7h1.0M50.3 342.1h1.0M43.9 351.0h1.0M40.3 329.8h1.0M38.6 338.2h1.0M48.5 341.8h1.0M48.0 340.6h1.0M42.4 336.7h1.0M36.2 342.9h1.0M44.0 343.3h1.0M39.6 337.6h1.0M44.0 343.5h1.0M51.8 335.1h1.0M47.0 345.0h1.0M40.9 340.8h1.0M41.9 348.7h1.0M54.5 341.8h1.0M41.0 345.4h1.0M44.6 339.0h1.0M45.9 345.0h1.0M40.3 344.8h1.0M31.4 332.7h1.0M40.7 340.9h1.0M35.2 348.4h1.0M40.4 340.9h1.0M42.0 344.3h1.0M39.4 344.2h1.0M38.2 331.6h1.0M44.7 340.9h1.0M46.5 329.0h1.0M42.7 336.4h1.0M41.3 337.8h1.0M40.4 336.2h1.0M47.1 330.2h1.0M34.1 342.0h1.0M51.9 335.7h1.0M37.8 333.4h1.0M37.3 347.1h1.0M45.5 345.1h1.0M43.9 341.3h1.0M39.4 334.5h1.0M45.2 354.1h1.0M40.4 347.2h1.0M38.8 340.2h1.0M50.4 339.6h1.0M45.3 336.8h1.0M51.3 333.0h1.0M44.9 338.7h1.0M43.2 342.1h1.0M48.6 345.0h1.0M47.3 342.1h1.0M37.0 347.7h1.0M49.6 342.8h1.0M46.1 338.7h1.0M35.2 345.6h1.0M38.7 350.9h1.0M45.5 339.9h1.0" stroke="#333" stroke-width="1.0" stroke-opacity="0.32" fill="none"/>
<ellipse cx="52.5" cy="343.5" rx="4.8" ry="3.2" fill="#70c060" fill-opacity="0.7" filter="url(#b8)" transform="rotate(-20 52.5 343.5)"/>
<path d="M50.8 345.3h1.0M49.7 344.1h1.0M57.3 344.3h1.0M58.0 344.8h1.0M53.8 342.8h1.0M51.8 343.9h1.0M48.6 349.6h1.0M54.3 344.8h1.0M49.4 345.1h1.0M49.6 342.7h1.0M52.1 350.1h1.0M47.6 346.3h1.0M51.0 338.1h1.0M48.5 344.7h1.0M52.8 343.2h1.0M57.8 346.3h1.0M50.8 341.1h1.0M53.1 343.4h1.0M55.6 342.5h1.0M56.1 343.9h1.0M53.2 344.4h1.0M54.4 347.7h1.0M51.0 342.9h1.0M58.1 347.3h1.0M58.2 347.3h1.0M53.0 348.9h1.0M50.7 344.0h1.0M51.4 346.6h1.0M50.1 344.6h1.0M50.2 344.4h1.0M55.9 347.7h1.0M52.0 351.1h1.0M50.6 346.1h1.0M51.2 339.7h1.0M49.2 348.0h1.0M47.8 352.0h1.0M52.2 345.6h1.0M56.3 345.1h1.0M50.8 343.6h1.0M49.9 346.3h1.0M51.2 346.2h1.0M48.2 344.0h1.0M58.6 345.9h1.0M52.3 347.8h1.0M53.4 348.7h1.0M49.2 346.8h1.0M49.5 346.6h1.0M59.8 348.7h1.0M50.1 346.0h1.0M53.9 343.3h1.0M53.3 342.5h1.0M55.4 347.2h1.0M52.1 346.6h1.0M59.5 344.6h1.0M47.1 345.8h1.0M51.3 343.1h1.0M55.2 347.4h1.0M54.3 348.9h1.0M50.7 344.0h1.0M53.8 338.5h1.0M44.6 345.8h1.0M52.0 345.1h1.0M49.8 345.5h1.0M55.7 343.5h1.0M54.2 344.6h1.0M52.1 345.3h1.0M57.0 346.3h1.0M54.6 345.4h1.0M46.3 347.3h1.0M52.5 345.2h1.0M51.1 341.3h1.0M56.9 349.4h1.0M57.2 340.6h1.0M54.2 342.2h1.0M52.0 343.8h1.0M50.8 343.2h1.0M51.2 346.9h1.0M57.3 347.2h1.0M52.5 344.7h1.0M51.9 345.0h1.0" stroke="#84cc6c" stroke-width="1.0" stroke-opacity="0.55" fill="none"/>
<ellipse cx="50.5" cy="335.5" rx="5.6" ry="5.2" fill="#0a0aff" fill-opacity="1" filter="url(#b8)" transform="rotate(-20 50.5 335.5)"/>
<path d="M48.5 334.9h1.0M53.5 334.8h1.0M47.8 335.1h1.0M50.9 335.2h1.0M49.7 337.9h1.0M50.4 332.1h1.0M52.5 333.1h1.0M53.2 338.2h1.0M52.2 336.5h1.0M46.0 334.8h1.0M51.0 337.6h1.0M46.7 335.0h1.0M45.3 336.1h1.0M50.8 335.9h1.0M56.2 338.0h1.0M49.9 333.6h1.0M49.0 338.1h1.0M53.7 333.8h1.0M50.2 334.1h1.0M52.9 336.1h1.0M48.1 332.5h1.0M55.0 330.8h1.0M44.4 325.2h1.0M57.5 333.7h1.0M53.5 337.4h1.0M53.4 339.3h1.0M49.0 335.5h1.0M53.9 337.4h1.0M48.0 333.0h1.0M45.6 336.4h1.0M48.7 330.3h1.0M48.6 336.6h1.0M51.2 334.8h1.0M51.1 337.7h1.0M46.5 332.8h1.0M53.9 338.0h1.0M45.7 333.1h1.0M55.5 338.0h1.0M50.1 338.9h1.0M55.3 340.2h1.0M45.8 331.2h1.0M48.8 335.3h1.0M49.3 336.3h1.0M55.7 339.2h1.0M54.0 335.5h1.0M56.2 337.0h1.0M51.4 335.4h1.0M44.2 342.7h1.0M50.5 338.5h1.0M58.4 334.9h1.0M46.6 338.9h1.0M51.4 332.3h1.0M53.9 335.5h1.0M47.3 327.0h1.0M47.1 336.8h1.0M47.0 338.8h1.0M58.2 336.6h1.0M51.3 335.2h1.0M53.5 335.6h1.0M54.1 340.3h1.0M53.5 332.3h1.0M52.9 334.6h1.0M51.6 338.7h1.0M48.3 336.2h1.0M55.6 332.7h1.0M49.9 337.9h1.0M49.8 338.9h1.0M47.1 330.5h1.0M51.9 335.1h1.0M51.6 338.7h1.0M54.2 334.4h1.0M49.2 329.0h1.0M47.2 336.3h1.0M51.3 330.6h1.0M53.3 335.4h1.0M54.4 334.3h1.0M53.9 331.8h1.0M44.2 332.8h1.0M53.0 336.9h1.0M44.0 336.0h1.0M52.9 341.1h1.0M53.3 337.2h1.0M45.1 336.8h1.0M43.8 334.5h1.0M49.3 332.3h1.0M47.1 335.0h1.0M52.6 333.4h1.0M51.6 337.9h1.0M50.5 341.9h1.0M49.5 333.1h1.0" stroke="#0a0aff" stroke-width="1.0" stroke-opacity="0.7" fill="none"/>
</g>
<text x="53.5" y="323.6" font-size="6.4" fill="#333" stroke="#333" stroke-width="0.15">IV (49%)</text>
<text x="55.3" y="353.4" font-size="6.4" fill="#333" stroke="#333" stroke-width="0.15">V (25%)</text>
<path d="M101 297.5H163V358.5" stroke="#80809e" stroke-width="0.9" fill="none"/>
<path d="M101 297.5V358.5H163" stroke="#8c8cc0" stroke-width="1.2" fill="none"/>
<path d="M100.7 355.4h2M104.1 358.8v-2M100.7 353.6h2M105.9 358.8v-2M100.7 352.4h2M107.1 358.8v-2M100.7 351.4h2M108.1 358.8v-2M100.7 350.6h2M108.9 358.8v-2M100.7 349.9h2M109.6 358.8v-2M100.7 349.3h2M110.2 358.8v-2M100.7 348.8h2M110.7 358.8v-2M100.7 345.3h2M114.2 358.8v-2M100.7 343.5h2M116.0 358.8v-2M100.7 342.2h2M117.3 358.8v-2M100.7 341.2h2M118.3 358.8v-2M100.7 340.4h2M119.1 358.8v-2M100.7 339.7h2M119.8 358.8v-2M100.7 339.2h2M120.3 358.8v-2M100.7 338.6h2M120.9 358.8v-2M100.7 335.1h2M124.4 358.8v-2M100.7 333.3h2M126.2 358.8v-2M100.7 332.0h2M127.5 358.8v-2M100.7 331.1h2M128.4 358.8v-2M100.7 330.3h2M129.2 358.8v-2M100.7 329.6h2M129.9 358.8v-2M100.7 329.0h2M130.5 358.8v-2M100.7 328.5h2M131.0 358.8v-2M100.7 324.9h2M134.6 358.8v-2M100.7 323.1h2M136.4 358.8v-2M100.7 321.9h2M137.6 358.8v-2M100.7 320.9h2M138.6 358.8v-2M100.7 320.1h2M139.4 358.8v-2M100.7 319.4h2M140.1 358.8v-2M100.7 318.8h2M140.7 358.8v-2M100.7 318.3h2M141.2 358.8v-2M100.7 314.8h2M144.7 358.8v-2M100.7 313.0h2M146.5 358.8v-2M100.7 311.7h2M147.8 358.8v-2M100.7 310.7h2M148.8 358.8v-2M100.7 309.9h2M149.6 358.8v-2M100.7 309.2h2M150.3 358.8v-2M100.7 308.7h2M150.8 358.8v-2M100.7 308.1h2M151.4 358.8v-2M100.7 304.6h2M154.9 358.8v-2M100.7 302.8h2M156.7 358.8v-2M100.7 301.5h2M158.0 358.8v-2M100.7 300.6h2M158.9 358.8v-2M100.7 299.8h2M159.7 358.8v-2M100.7 299.1h2M160.4 358.8v-2M100.7 298.5h2M161.0 358.8v-2M100.7 298.0h2M161.5 358.8v-2" stroke="#2a2a88" stroke-width="0.6" stroke-opacity="0.85" fill="none"/>
<path d="M95.0 355.9l1 0.8v1.8h1.8M99.6 363.3h1.6v-1.6l0.8 -0.8M95.0 345.7l1 0.8v1.8h1.8M109.8 363.3h1.6v-1.6l0.8 -0.8M95.0 335.6l1 0.8v1.8h1.8M119.9 363.3h1.6v-1.6l0.8 -0.8M95.0 325.4l1 0.8v1.8h1.8M130.1 363.3h1.6v-1.6l0.8 -0.8M95.0 315.2l1 0.8v1.8h1.8M140.3 363.3h1.6v-1.6l0.8 -0.8M95.0 305.1l1 0.8v1.8h1.8M150.4 363.3h1.6v-1.6l0.8 -0.8M95.0 294.9l1 0.8v1.8h1.8M160.6 363.3h1.6v-1.6l0.8 -0.8" stroke="#44447e" stroke-width="0.85" fill="none"/>
<text x="103.3" y="295" font-size="7.2" fill="#222" stroke="#222" stroke-width="0.22">TOX2-KD+T-BET</text>
<g filter="url(#b5)">
<path d="M120.5 353.5h1.0M140.6 331.3h1.0M139.9 325.9h1.0M142.0 334.6h1.0M140.3 325.0h1.0M130.5 354.5h1.0M135.3 342.9h1.0M110.8 331.8h1.0M139.9 352.6h1.0M113.2 335.3h1.0M127.7 334.0h1.0M112.9 352.7h1.0M109.1 344.9h1.0M120.0 339.5h1.0M137.2 348.6h1.0M133.7 324.5h1.0M135.0 350.2h1.0M105.0 331.4h1.0M132.0 352.7h1.0M125.0 353.3h1.0M108.2 332.6h1.0M135.3 350.2h1.0M113.3 342.8h1.0M121.2 348.4h1.0M119.7 334.5h1.0M133.2 347.0h1.0M118.4 347.6h1.0M114.7 340.5h1.0M111.9 335.3h1.0M120.5 326.9h1.0M116.5 335.6h1.0M117.1 340.7h1.0M138.3 352.0h1.0M115.9 328.4h1.0M108.3 353.2h1.0M133.1 348.4h1.0M138.6 337.2h1.0M111.3 327.0h1.0M119.8 349.3h1.0M108.2 338.4h1.0M108.0 331.1h1.0M125.5 345.5h1.0M139.9 334.6h1.0M113.6 326.0h1.0M111.9 325.2h1.0M105.0 327.8h1.0M124.9 339.1h1.0M138.5 340.0h1.0M108.2 328.8h1.0M130.9 356.3h1.0M132.7 331.7h1.0M117.8 338.4h1.0M121.0 333.3h1.0M110.7 324.9h1.0M137.6 356.2h1.0M141.2 336.5h1.0M130.4 330.8h1.0M109.2 324.1h1.0M117.3 350.3h1.0M124.5 331.7h1.0M122.8 341.8h1.0M112.2 338.8h1.0M139.4 338.8h1.0M141.6 347.9h1.0M109.8 354.3h1.0M130.6 338.6h1.0M112.0 345.7h1.0M112.0 339.2h1.0M110.6 337.6h1.0M140.8 343.7h1.0M124.0 344.4h1.0M129.2 343.9h1.0M115.6 331.0h1.0M127.4 354.7h1.0M137.3 340.1h1.0M115.9 343.4h1.0M106.7 340.4h1.0M134.0 355.9h1.0M108.4 330.6h1.0M122.8 344.1h1.0M140.7 327.5h1.0M109.8 340.0h1.0M134.4 324.9h1.0M119.1 347.5h1.0M120.6 329.9h1.0M107.6 349.1h1.0M123.9 341.8h1.0M130.3 349.2h1.0M119.9 336.1h1.0M139.0 326.5h1.0" stroke="#888" stroke-width="1.0" stroke-opacity="0.35" fill="none"/>
<path d="M119.1 326.4h1.0M113.5 332.1h1.0M122.8 331.2h1.0M117.1 334.9h1.0M126.8 325.9h1.0M121.2 334.1h1.0M117.7 334.4h1.0M106.3 333.2h1.0M116.7 326.0h1.0M123.1 332.3h1.0M116.0 337.3h1.0M112.6 329.0h1.0M123.0 337.9h1.0M130.0 330.4h1.0M109.5 324.6h1.0M111.0 333.6h1.0M116.7 329.2h1.0M112.1 329.1h1.0M115.9 339.7h1.0M121.8 340.7h1.0M122.9 337.3h1.0M125.0 335.6h1.0M127.2 339.4h1.0M128.8 334.2h1.0M113.5 347.2h1.0M116.4 336.0h1.0M115.8 329.1h1.0M120.6 326.7h1.0M117.1 341.0h1.0M118.8 337.6h1.0M121.8 335.2h1.0M118.7 336.5h1.0M112.3 336.3h1.0M111.7 328.7h1.0M114.6 325.5h1.0M106.4 335.2h1.0M121.0 336.7h1.0M131.1 334.0h1.0M122.5 328.8h1.0M122.2 326.6h1.0M129.7 327.6h1.0M115.6 337.2h1.0M105.1 340.6h1.0M112.4 334.1h1.0M123.8 333.9h1.0M123.6 330.2h1.0M121.6 320.7h1.0M127.0 329.3h1.0M112.9 333.1h1.0M128.1 329.0h1.0M117.9 331.0h1.0M112.5 325.6h1.0M121.5 337.0h1.0M113.6 334.3h1.0M120.7 335.2h1.0M117.1 333.3h1.0M119.7 327.0h1.0M117.2 337.5h1.0M114.7 340.4h1.0M116.6 326.8h1.0M116.3 325.4h1.0M121.6 324.0h1.0M118.1 331.7h1.0M116.2 335.4h1.0M119.7 329.9h1.0M122.9 330.5h1.0M123.3 340.6h1.0M120.3 338.2h1.0M110.1 336.2h1.0M109.2 332.0h1.0M122.1 317.9h1.0M113.4 328.6h1.0M112.5 333.1h1.0M121.8 326.5h1.0M114.3 322.5h1.0M113.9 321.2h1.0M109.1 335.6h1.0M123.2 328.4h1.0M120.1 328.6h1.0M124.3 342.9h1.0M103.5 328.1h1.0M114.2 330.3h1.0M127.3 341.9h1.0M117.9 336.6h1.0M108.6 331.3h1.0M116.3 332.2h1.0M119.8 324.2h1.0M111.8 345.1h1.0M107.8 333.3h1.0M122.3 335.8h1.0M118.3 323.9h1.0M115.2 324.2h1.0M129.6 335.0h1.0M122.3 334.2h1.0M115.7 339.7h1.0M123.2 336.6h1.0M121.5 337.2h1.0M116.4 335.4h1.0M118.5 331.6h1.0M121.8 345.1h1.0M106.0 341.1h1.0M115.4 339.8h1.0M112.0 332.0h1.0M124.1 332.6h1.0M120.1 326.2h1.0M111.2 342.4h1.0M118.9 332.5h1.0M109.8 327.2h1.0M111.9 332.7h1.0M117.3 329.6h1.0M114.0 333.6h1.0M124.9 325.1h1.0M109.6 339.4h1.0M109.6 330.7h1.0M118.7 343.3h1.0M105.9 316.6h1.0M117.5 339.1h1.0M118.8 328.4h1.0M119.1 321.4h1.0M122.9 341.4h1.0M116.8 337.6h1.0M111.8 341.4h1.0M114.2 328.5h1.0M113.5 323.0h1.0M122.0 344.3h1.0M109.5 331.9h1.0M120.7 329.8h1.0M108.8 334.9h1.0M123.9 333.6h1.0M111.7 331.3h1.0M106.6 332.7h1.0M125.2 339.3h1.0M117.5 335.5h1.0M114.9 333.7h1.0M114.5 333.9h1.0M114.9 334.1h1.0M122.1 332.9h1.0M110.3 335.8h1.0M116.5 330.2h1.0M121.3 328.3h1.0M123.5 336.2h1.0M113.9 329.1h1.0M117.3 327.9h1.0M123.6 320.2h1.0M118.9 331.0h1.0M111.5 336.6h1.0M115.1 335.6h1.0M115.4 331.4h1.0M121.1 338.4h1.0M123.9 332.9h1.0" stroke="#c09080" stroke-width="1.0" stroke-opacity="0.3" fill="none"/>
<path d="M127.8 337.8h1.0M111.0 327.7h1.0M110.5 334.3h1.0M108.5 342.2h1.0M119.2 339.8h1.0M120.4 339.3h1.0M117.5 337.9h1.0M119.2 332.6h1.0M126.6 350.2h1.0M119.2 355.1h1.0M113.3 346.0h1.0M109.4 344.0h1.0M114.6 346.7h1.0M119.7 346.3h1.0M122.6 343.5h1.0M117.4 350.5h1.0M121.1 343.2h1.0M127.5 338.3h1.0M129.3 347.2h1.0M119.5 330.4h1.0M126.2 338.0h1.0M119.6 340.8h1.0M124.6 344.2h1.0M108.3 335.7h1.0M121.1 341.2h1.0M123.7 343.8h1.0M128.6 335.2h1.0M126.7 342.5h1.0M120.8 344.5h1.0M117.0 344.7h1.0M117.8 344.8h1.0M114.5 347.8h1.0M110.0 335.7h1.0M118.7 341.6h1.0M114.3 337.4h1.0M120.5 347.0h1.0M126.7 336.9h1.0M118.6 337.9h1.0M110.0 337.1h1.0M125.7 331.1h1.0M135.9 346.5h1.0M129.2 341.2h1.0M105.4 342.9h1.0M128.4 336.2h1.0M126.5 345.0h1.0M123.7 345.0h1.0M122.5 344.3h1.0M126.1 342.8h1.0M122.8 342.9h1.0M119.9 334.3h1.0M108.5 333.3h1.0M111.7 330.2h1.0M123.1 337.8h1.0M123.6 336.9h1.0M121.3 338.7h1.0M120.7 353.8h1.0M128.5 348.5h1.0M120.7 351.8h1.0M123.9 345.9h1.0M112.2 336.0h1.0M120.0 338.6h1.0M116.0 326.8h1.0M114.6 339.3h1.0M120.9 332.9h1.0M118.3 352.0h1.0M120.0 327.0h1.0M118.0 340.0h1.0M126.5 341.3h1.0M127.1 342.2h1.0M126.0 349.0h1.0M128.1 341.3h1.0M111.9 341.3h1.0M121.9 335.4h1.0M123.9 339.0h1.0M123.7 341.3h1.0M113.6 347.0h1.0M130.9 346.2h1.0M120.7 328.6h1.0M121.0 339.8h1.0M114.4 327.3h1.0M121.7 346.5h1.0M123.3 355.2h1.0M107.9 342.4h1.0M118.9 349.5h1.0M118.9 333.6h1.0M118.7 342.9h1.0M114.7 334.8h1.0M120.6 345.9h1.0M117.7 343.3h1.0M116.1 337.8h1.0M120.2 346.5h1.0M128.4 339.2h1.0M121.7 353.1h1.0M124.0 337.6h1.0M121.5 330.6h1.0M106.7 335.0h1.0M114.9 331.1h1.0M125.1 337.0h1.0M119.6 340.5h1.0M117.9 332.2h1.0M130.5 326.8h1.0M118.9 344.7h1.0M117.9 339.4h1.0M120.9 341.6h1.0M117.1 347.2h1.0M122.1 350.1h1.0M119.6 326.8h1.0M109.4 336.6h1.0M121.8 329.2h1.0M115.8 348.4h1.0M121.0 335.3h1.0M118.4 340.8h1.0M116.6 338.0h1.0M115.4 341.5h1.0M128.4 349.7h1.0M111.8 355.5h1.0M118.4 330.7h1.0M110.4 341.0h1.0M120.5 335.8h1.0M114.4 338.6h1.0M120.6 344.5h1.0M122.4 324.2h1.0M115.6 341.8h1.0M121.3 345.4h1.0M110.4 350.5h1.0M112.1 338.7h1.0M116.4 336.9h1.0M114.6 345.5h1.0M123.7 342.4h1.0M111.7 335.9h1.0M118.8 342.7h1.0M115.9 338.3h1.0M134.4 340.5h1.0M117.4 323.7h1.0M114.7 350.9h1.0M124.0 332.1h1.0M123.7 341.2h1.0M114.5 345.3h1.0M115.5 338.0h1.0M119.2 341.5h1.0M116.6 342.0h1.0M119.1 341.3h1.0M121.4 335.8h1.0M111.1 339.6h1.0M126.3 342.2h1.0M120.4 335.1h1.0M112.4 331.8h1.0M113.8 337.6h1.0M110.1 339.2h1.0M109.9 344.4h1.0M119.0 328.3h1.0M115.9 341.6h1.0M121.3 345.2h1.0M117.1 339.1h1.0M117.7 343.7h1.0M115.1 339.0h1.0M120.0 337.7h1.0M112.8 349.1h1.0M122.0 334.0h1.0M130.5 334.9h1.0M114.0 337.6h1.0M122.2 350.0h1.0M127.1 343.7h1.0M119.5 344.5h1.0M114.5 335.4h1.0M122.2 341.4h1.0M120.5 333.3h1.0M120.5 330.5h1.0M124.5 340.1h1.0M115.4 336.9h1.0M115.0 349.2h1.0M102.3 347.6h1.0M119.2 341.8h1.0M113.5 331.3h1.0M120.5 337.1h1.0M122.0 347.1h1.0M118.4 343.6h1.0M120.1 341.6h1.0M116.1 341.6h1.0M121.6 340.6h1.0M116.5 330.3h1.0M112.9 350.5h1.0M125.0 342.0h1.0M120.8 339.1h1.0M123.1 346.4h1.0M117.7 342.1h1.0M124.7 329.5h1.0M113.7 336.2h1.0M112.4 337.1h1.0M114.2 337.4h1.0M121.9 332.2h1.0M119.7 349.2h1.0M120.2 331.9h1.0M115.6 347.8h1.0M117.6 335.9h1.0M123.7 335.3h1.0M112.7 344.1h1.0M119.2 335.7h1.0M121.8 347.4h1.0M125.4 340.7h1.0M121.8 343.4h1.0M110.5 351.1h1.0M115.3 336.3h1.0M114.4 333.6h1.0M125.5 340.1h1.0M115.8 327.9h1.0M120.1 339.7h1.0M113.2 339.4h1.0M108.5 344.4h1.0M112.1 343.4h1.0M119.7 325.9h1.0M112.6 335.7h1.0M123.7 344.0h1.0M122.8 351.2h1.0M117.5 336.7h1.0M108.3 333.2h1.0M122.4 334.5h1.0M114.1 346.4h1.0M104.9 349.3h1.0M126.6 328.1h1.0M121.8 340.0h1.0M124.4 337.8h1.0M118.4 349.5h1.0M115.7 342.9h1.0M122.8 339.3h1.0M124.2 343.5h1.0M123.9 328.7h1.0M113.1 342.0h1.0M125.9 349.6h1.0M119.2 335.1h1.0M112.8 327.1h1.0M116.2 343.9h1.0M118.7 330.2h1.0M118.6 340.4h1.0M114.8 349.8h1.0M121.6 347.4h1.0M119.7 333.6h1.0M125.4 347.4h1.0M115.8 331.2h1.0M123.8 336.3h1.0" stroke="#333" stroke-width="1.0" stroke-opacity="0.32" fill="none"/>
<ellipse cx="129.5" cy="344" rx="4.8" ry="3.5" fill="#70c060" fill-opacity="0.7" filter="url(#b8)" transform="rotate(-20 129.5 344)"/>
<path d="M126.2 345.8h1.0M131.2 344.2h1.0M129.7 348.4h1.0M131.7 342.3h1.0M131.6 350.3h1.0M132.2 345.8h1.0M130.6 342.3h1.0M127.9 344.8h1.0M135.5 346.0h1.0M126.8 350.1h1.0M133.1 342.1h1.0M129.0 342.0h1.0M132.6 340.6h1.0M134.9 343.5h1.0M126.6 351.1h1.0M131.1 346.9h1.0M132.0 343.7h1.0M132.1 345.4h1.0M131.1 346.6h1.0M133.5 343.0h1.0M125.6 347.6h1.0M136.4 347.3h1.0M129.1 347.6h1.0M126.1 346.2h1.0M124.7 346.3h1.0M131.6 350.1h1.0M128.1 348.2h1.0M133.4 343.5h1.0M128.8 341.6h1.0M127.0 347.1h1.0M123.7 345.3h1.0M131.6 349.5h1.0M122.4 346.9h1.0M127.8 340.5h1.0M126.6 347.4h1.0M129.5 347.7h1.0M128.7 347.6h1.0M126.8 343.7h1.0M129.1 341.8h1.0M133.1 345.4h1.0M126.7 344.0h1.0M126.8 346.3h1.0M128.5 348.1h1.0M126.3 345.9h1.0M125.2 344.9h1.0M133.5 345.7h1.0M132.1 345.9h1.0M126.4 343.9h1.0M126.3 346.8h1.0M130.2 353.1h1.0M134.3 348.1h1.0M126.8 346.3h1.0M127.0 351.7h1.0M127.5 348.8h1.0M125.7 347.9h1.0M126.0 344.9h1.0M130.0 346.4h1.0M129.4 345.9h1.0M127.1 345.8h1.0M129.4 343.8h1.0M131.2 346.4h1.0M127.4 349.1h1.0M127.9 341.5h1.0M133.2 345.1h1.0M133.8 347.1h1.0M127.0 348.7h1.0M130.9 348.2h1.0M129.7 349.8h1.0M132.2 345.2h1.0M125.2 345.9h1.0M129.7 343.7h1.0M129.0 349.6h1.0M128.2 348.7h1.0M126.9 343.7h1.0M132.2 345.6h1.0M130.2 348.5h1.0M134.2 343.0h1.0M131.2 346.6h1.0M130.0 350.3h1.0M128.9 344.6h1.0" stroke="#84cc6c" stroke-width="1.0" stroke-opacity="0.55" fill="none"/>
<ellipse cx="127.5" cy="336" rx="5.6" ry="5.6" fill="#0a0aff" fill-opacity="1" filter="url(#b8)" transform="rotate(-20 127.5 336)"/>
<path d="M129.2 329.2h1.0M128.8 333.0h1.0M128.6 333.5h1.0M129.3 335.2h1.0M125.2 337.8h1.0M130.1 330.6h1.0M123.2 335.1h1.0M126.3 340.5h1.0M132.9 337.6h1.0M131.2 334.9h1.0M123.0 337.0h1.0M121.7 341.5h1.0M128.4 339.9h1.0M125.4 330.6h1.0M126.9 337.7h1.0M126.8 334.3h1.0M127.8 335.4h1.0M132.2 331.6h1.0M120.1 335.7h1.0M128.5 330.9h1.0M127.4 337.5h1.0M128.7 337.0h1.0M125.0 331.2h1.0M130.7 334.8h1.0M123.0 341.3h1.0M130.0 326.6h1.0M136.2 336.5h1.0M122.1 339.3h1.0M128.6 340.2h1.0M127.6 330.4h1.0M127.0 334.6h1.0M128.5 335.4h1.0M129.4 331.9h1.0M125.7 334.3h1.0M128.9 330.3h1.0M127.5 344.1h1.0M121.5 339.5h1.0M127.9 339.4h1.0M127.7 336.9h1.0M128.8 337.6h1.0M123.5 335.6h1.0M133.6 340.8h1.0M124.7 332.8h1.0M127.0 339.6h1.0M130.6 334.0h1.0M119.6 335.9h1.0M122.0 340.1h1.0M132.5 338.3h1.0M129.5 337.9h1.0M133.7 339.7h1.0M132.4 332.1h1.0M125.8 336.0h1.0M120.1 335.1h1.0M127.5 335.8h1.0M136.0 335.3h1.0M126.9 335.6h1.0M126.4 331.2h1.0M131.3 336.1h1.0M128.7 336.1h1.0M124.9 330.6h1.0M126.6 337.8h1.0M127.1 338.5h1.0M124.9 335.0h1.0M128.0 335.7h1.0M128.1 340.9h1.0M126.1 336.5h1.0M125.3 337.9h1.0M128.3 333.5h1.0M124.1 332.0h1.0M126.6 336.5h1.0M125.9 335.6h1.0M128.0 343.9h1.0M131.5 343.9h1.0M128.0 336.7h1.0M134.1 337.3h1.0M129.7 334.3h1.0M125.7 338.6h1.0M125.5 333.8h1.0M122.5 337.0h1.0M127.2 337.9h1.0M124.6 331.8h1.0M131.2 336.1h1.0M130.2 332.1h1.0M123.2 327.5h1.0M128.5 339.4h1.0M132.0 342.0h1.0M121.4 332.3h1.0M125.7 333.3h1.0M126.8 333.3h1.0M122.6 335.9h1.0" stroke="#0a0aff" stroke-width="1.0" stroke-opacity="0.7" fill="none"/>
</g>
<text x="130.7" y="322.8" font-size="6.4" fill="#333" stroke="#333" stroke-width="0.15">IV (50%)</text>
<text x="132" y="352.8" font-size="6.4" fill="#333" stroke="#333" stroke-width="0.15">V (22%)</text>
<path d="M10.6 358V373.4H26.6" stroke="#111" stroke-width="1" fill="none"/>
<path d="M8.399999999999999 359L10.6 355L12.8 359Z" fill="#111"/>
<path d="M25.6 371.2L29.6 373.4L25.6 375.59999999999997Z" fill="#111"/>
<text x="13.6" y="352.5" font-size="7.1" fill="#222" stroke="#222" stroke-width="0.2" transform="rotate(-90 13.6 352.5)">CD117</text>
<text x="37.8" y="377.7" font-size="7.1" fill="#222" stroke="#222" stroke-width="0.2">CD94</text>
</g>
</svg>
</body></html>
